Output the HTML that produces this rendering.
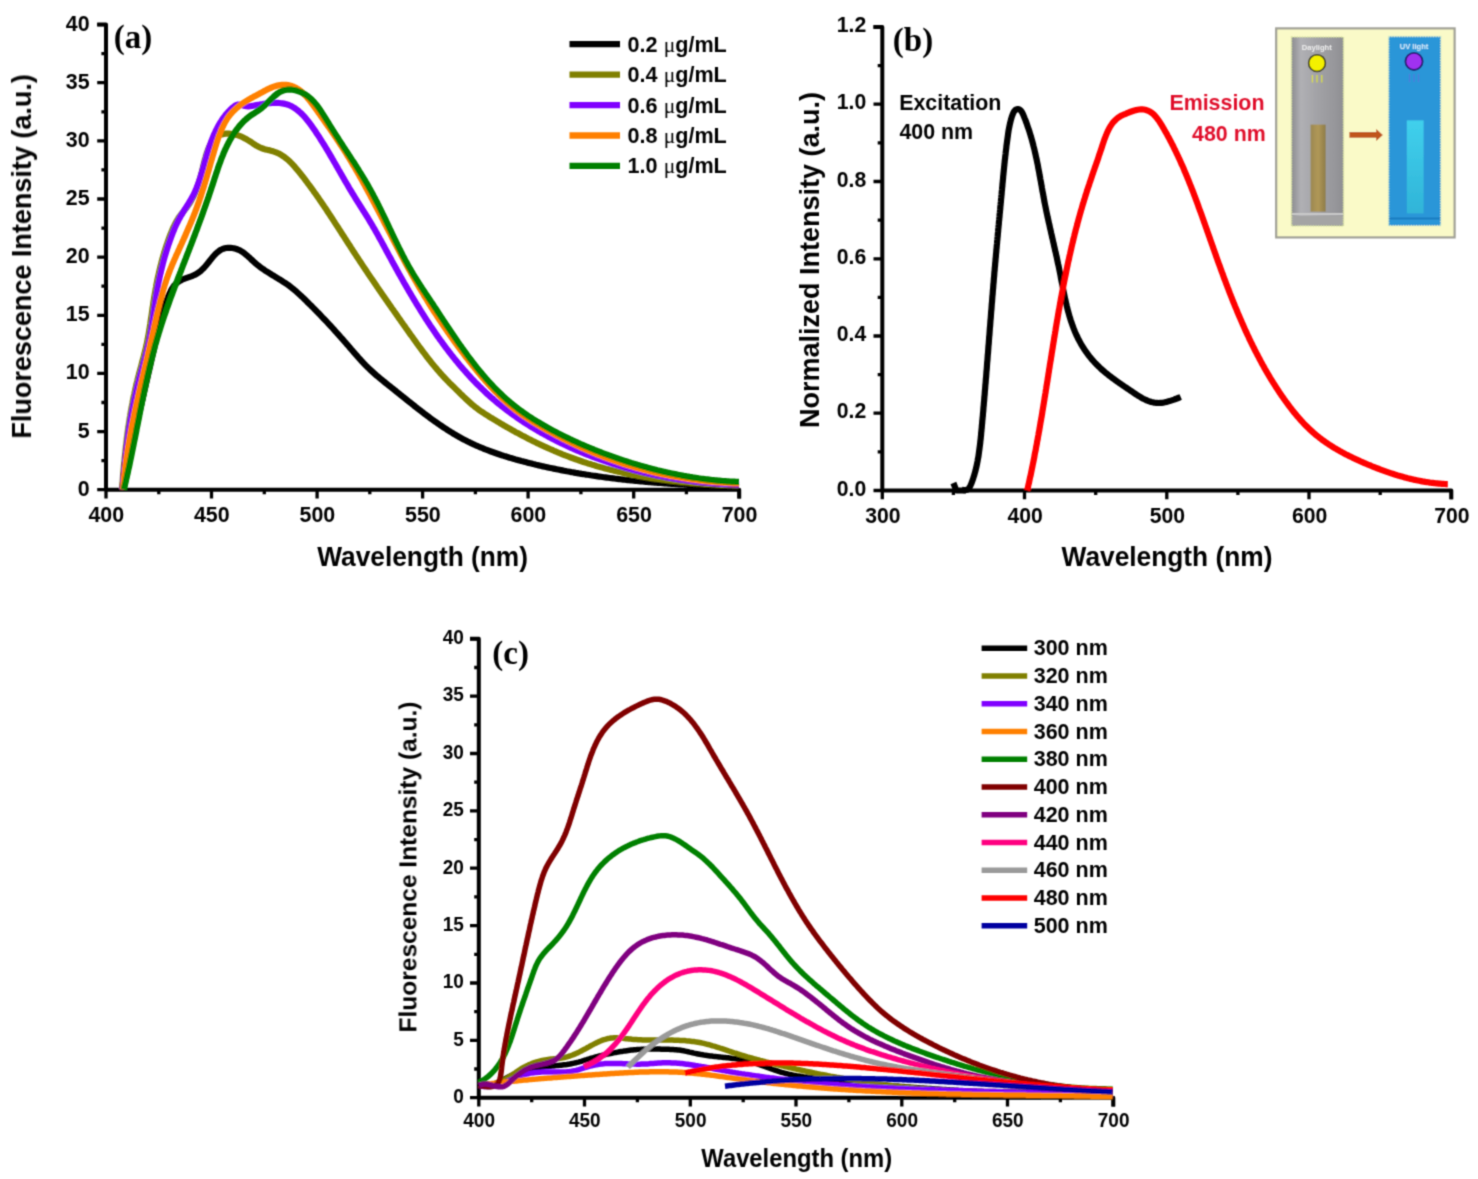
<!DOCTYPE html>
<html><head><meta charset="utf-8"><style>
html,body{margin:0;padding:0;background:#fff;}
body{width:1478px;height:1179px;overflow:hidden;}
svg{display:block;}
#w{width:1478px;height:1179px;}
</style></head><body><div id="w">
<svg width="1478" height="1179" viewBox="0 0 1478 1179">
<defs><filter id="bl" x="0" y="0" width="1478" height="1179" filterUnits="userSpaceOnUse"><feConvolveMatrix order="3" kernelMatrix="0.03607 0.11778 0.03607 0.11778 0.38462 0.11778 0.03607 0.11778 0.03607" edgeMode="none"/></filter></defs>
<rect width="100%" height="100%" fill="#fff"/>
<g filter="url(#bl)">
<path d="M97.2,24.6H106.0V489.7H739.2V498.5" fill="none" stroke="#000" stroke-width="4.0" stroke-linejoin="round"/>
<path d="M97.2,489.7H106.0M97.2,431.6H106.0M97.2,373.4H106.0M97.2,315.3H106.0M97.2,257.1H106.0M97.2,199.0H106.0M97.2,140.9H106.0M97.2,82.7H106.0M97.2,24.6H106.0M101.4,460.6H106.0M101.4,402.5H106.0M101.4,344.4H106.0M101.4,286.2H106.0M101.4,228.1H106.0M101.4,169.9H106.0M101.4,111.8H106.0M101.4,53.7H106.0M106.0,489.7V498.5M211.5,489.7V498.5M317.1,489.7V498.5M422.6,489.7V498.5M528.1,489.7V498.5M633.7,489.7V498.5M739.2,489.7V498.5M158.8,489.7V494.3M264.3,489.7V494.3M369.8,489.7V494.3M475.4,489.7V494.3M580.9,489.7V494.3M686.4,489.7V494.3" fill="none" stroke="#000" stroke-width="3.3"/>
<text transform="translate(89.6,495.6) scale(1,1.07)" font-family="Liberation Sans, sans-serif" font-weight="bold" font-size="21.4" text-anchor="end">0</text>
<text transform="translate(89.6,437.5) scale(1,1.07)" font-family="Liberation Sans, sans-serif" font-weight="bold" font-size="21.4" text-anchor="end">5</text>
<text transform="translate(89.6,379.3) scale(1,1.07)" font-family="Liberation Sans, sans-serif" font-weight="bold" font-size="21.4" text-anchor="end">10</text>
<text transform="translate(89.6,321.2) scale(1,1.07)" font-family="Liberation Sans, sans-serif" font-weight="bold" font-size="21.4" text-anchor="end">15</text>
<text transform="translate(89.6,263.0) scale(1,1.07)" font-family="Liberation Sans, sans-serif" font-weight="bold" font-size="21.4" text-anchor="end">20</text>
<text transform="translate(89.6,204.9) scale(1,1.07)" font-family="Liberation Sans, sans-serif" font-weight="bold" font-size="21.4" text-anchor="end">25</text>
<text transform="translate(89.6,146.8) scale(1,1.07)" font-family="Liberation Sans, sans-serif" font-weight="bold" font-size="21.4" text-anchor="end">30</text>
<text transform="translate(89.6,88.6) scale(1,1.07)" font-family="Liberation Sans, sans-serif" font-weight="bold" font-size="21.4" text-anchor="end">35</text>
<text transform="translate(89.6,30.5) scale(1,1.07)" font-family="Liberation Sans, sans-serif" font-weight="bold" font-size="21.4" text-anchor="end">40</text>
<text transform="translate(106.3,522.0) scale(1,1.07)" font-family="Liberation Sans, sans-serif" font-weight="bold" font-size="21.4" text-anchor="middle">400</text>
<text transform="translate(211.8,522.0) scale(1,1.07)" font-family="Liberation Sans, sans-serif" font-weight="bold" font-size="21.4" text-anchor="middle">450</text>
<text transform="translate(317.4,522.0) scale(1,1.07)" font-family="Liberation Sans, sans-serif" font-weight="bold" font-size="21.4" text-anchor="middle">500</text>
<text transform="translate(422.9,522.0) scale(1,1.07)" font-family="Liberation Sans, sans-serif" font-weight="bold" font-size="21.4" text-anchor="middle">550</text>
<text transform="translate(528.4,522.0) scale(1,1.07)" font-family="Liberation Sans, sans-serif" font-weight="bold" font-size="21.4" text-anchor="middle">600</text>
<text transform="translate(634.0,522.0) scale(1,1.07)" font-family="Liberation Sans, sans-serif" font-weight="bold" font-size="21.4" text-anchor="middle">650</text>
<text transform="translate(739.5,522.0) scale(1,1.07)" font-family="Liberation Sans, sans-serif" font-weight="bold" font-size="21.4" text-anchor="middle">700</text>
<text transform="translate(422.6,565.8) scale(1,1.05)" font-family="Liberation Sans, sans-serif" font-weight="bold" font-size="26.3" text-anchor="middle">Wavelength (nm)</text>
<text transform="translate(31,256.4) rotate(-90)" x="0" y="0" font-family="Liberation Sans, sans-serif" font-weight="bold" font-size="27" text-anchor="middle">Fluorescence Intensity (a.u.)</text>
<text x="113.8" y="48.3" font-family="Liberation Serif, serif" font-weight="bold" font-size="33">(a)</text>
<path d="M123.6,489.5 L123.9,488.0 L124.1,486.5 L124.4,485.0 L124.7,483.5 L125.0,482.1 L125.3,480.6 L125.5,479.1 L125.8,477.6 L126.1,476.1 L126.4,474.6 L126.7,473.1 L127.0,471.6 L127.3,470.1 L127.6,468.7 L127.8,467.2 L128.1,465.7 L128.4,464.2 L128.7,462.7 L129.0,461.3 L129.3,459.8 L129.6,458.3 L129.9,456.8 L130.2,455.4 L130.5,453.9 L130.8,452.4 L131.1,450.9 L131.5,449.5 L131.8,448.0 L132.1,446.5 L132.4,445.1 L132.7,443.6 L133.0,442.1 L133.3,440.7 L133.6,439.2 L133.9,437.7 L134.3,436.3 L134.6,434.8 L134.9,433.3 L135.2,431.9 L135.5,430.4 L135.8,428.9 L136.2,427.5 L136.5,426.0 L136.8,424.6 L137.1,423.1 L137.5,421.6 L137.8,420.2 L138.1,418.7 L138.4,417.3 L138.7,415.8 L139.1,414.3 L139.4,412.9 L139.7,411.4 L140.1,410.0 L140.4,408.5 L140.7,407.1 L141.0,405.6 L141.4,404.1 L141.7,402.7 L142.0,401.2 L142.4,399.8 L142.7,398.3 L143.0,396.8 L143.4,395.4 L143.7,393.9 L144.0,392.5 L144.4,391.0 L144.7,389.5 L145.0,388.1 L145.4,386.6 L145.7,385.2 L146.0,383.7 L146.4,382.2 L146.7,380.8 L147.0,379.3 L147.4,377.9 L147.7,376.4 L148.0,374.9 L148.4,373.5 L148.7,372.0 L149.1,370.5 L149.4,369.1 L149.7,367.6 L150.1,366.1 L150.4,364.7 L150.7,363.2 L151.1,361.7 L151.4,360.2 L151.7,358.8 L152.1,357.3 L152.4,355.8 L152.8,354.3 L153.1,352.9 L153.4,351.4 L153.8,349.9 L154.1,348.4 L154.4,346.9 L154.8,345.5 L155.1,344.0 L155.4,342.5 L155.8,341.0 L156.1,339.5 L156.4,338.0 L156.8,336.5 L157.1,335.1 L157.4,333.6 L157.8,332.1 L158.1,330.6 L158.5,329.1 L158.8,327.6 L159.1,326.1 L159.5,324.6 L159.8,323.1 L160.2,321.6 L160.6,320.2 L160.9,318.7 L161.3,317.2 L161.7,315.7 L162.1,314.3 L162.5,312.8 L162.9,311.4 L163.4,309.9 L163.8,308.5 L164.3,307.0 L164.7,305.6 L165.2,304.2 L165.7,302.8 L166.2,301.4 L166.7,300.0 L167.3,298.6 L167.8,297.3 L168.4,295.9 L169.0,294.5 L169.6,293.2 L170.3,291.9 L170.9,290.6 L171.6,289.3 L172.4,288.1 L173.2,286.9 L174.0,285.7 L175.0,284.7 L176.0,283.7 L177.1,282.8 L178.2,281.9 L179.4,281.1 L180.7,280.4 L182.0,279.7 L183.3,279.2 L184.7,278.6 L186.1,278.1 L187.6,277.6 L189.0,277.1 L190.5,276.6 L191.9,276.1 L193.2,275.5 L194.6,274.9 L195.9,274.2 L197.2,273.5 L198.4,272.7 L199.6,271.8 L200.8,270.9 L201.9,269.8 L203.0,268.8 L204.1,267.6 L205.1,266.5 L206.2,265.2 L207.2,264.0 L208.2,262.8 L209.2,261.5 L210.2,260.2 L211.2,259.0 L212.2,257.8 L213.2,256.6 L214.2,255.4 L215.3,254.3 L216.3,253.3 L217.4,252.3 L218.6,251.4 L219.7,250.5 L220.9,249.8 L222.2,249.2 L223.5,248.7 L224.8,248.3 L226.2,248.0 L227.6,247.9 L229.1,247.8 L230.5,247.8 L232.0,248.0 L233.5,248.2 L234.9,248.6 L236.4,249.0 L237.8,249.5 L239.2,250.1 L240.6,250.8 L241.9,251.6 L243.2,252.4 L244.4,253.3 L245.6,254.3 L246.8,255.3 L247.9,256.3 L249.1,257.3 L250.2,258.4 L251.3,259.5 L252.5,260.5 L253.6,261.6 L254.8,262.6 L255.9,263.6 L257.1,264.6 L258.3,265.6 L259.5,266.5 L260.7,267.4 L261.9,268.3 L263.2,269.1 L264.4,270.0 L265.6,270.8 L266.9,271.6 L268.2,272.4 L269.4,273.2 L270.7,274.0 L272.0,274.8 L273.2,275.6 L274.5,276.3 L275.8,277.1 L277.0,277.9 L278.3,278.7 L279.6,279.4 L280.8,280.2 L282.1,281.0 L283.3,281.8 L284.6,282.6 L285.8,283.4 L287.1,284.3 L288.3,285.1 L289.5,286.0 L290.7,286.9 L291.8,287.8 L293.0,288.8 L294.2,289.7 L295.3,290.7 L296.5,291.7 L297.6,292.7 L298.7,293.7 L299.8,294.7 L300.9,295.7 L302.0,296.8 L303.1,297.8 L304.2,298.9 L305.3,299.9 L306.4,301.0 L307.4,302.1 L308.5,303.1 L309.6,304.2 L310.7,305.2 L311.7,306.3 L312.8,307.4 L313.8,308.4 L314.9,309.5 L316.0,310.6 L317.0,311.7 L318.1,312.7 L319.1,313.8 L320.2,314.9 L321.2,316.0 L322.2,317.1 L323.3,318.2 L324.3,319.2 L325.3,320.3 L326.4,321.4 L327.4,322.5 L328.4,323.6 L329.4,324.7 L330.5,325.8 L331.5,326.9 L332.5,328.0 L333.5,329.1 L334.5,330.2 L335.5,331.4 L336.5,332.5 L337.5,333.6 L338.5,334.7 L339.5,335.8 L340.5,337.0 L341.5,338.1 L342.5,339.2 L343.5,340.3 L344.5,341.5 L345.5,342.6 L346.5,343.8 L347.5,344.9 L348.5,346.0 L349.4,347.2 L350.4,348.3 L351.4,349.5 L352.4,350.6 L353.4,351.8 L354.4,352.9 L355.4,354.1 L356.4,355.2 L357.4,356.3 L358.4,357.5 L359.4,358.6 L360.4,359.7 L361.4,360.8 L362.4,361.9 L363.4,363.0 L364.5,364.1 L365.5,365.2 L366.6,366.2 L367.6,367.3 L368.7,368.3 L369.8,369.4 L370.9,370.4 L372.0,371.4 L373.1,372.4 L374.2,373.4 L375.3,374.4 L376.4,375.4 L377.6,376.3 L378.7,377.3 L379.9,378.2 L381.0,379.2 L382.2,380.1 L383.4,381.1 L384.5,382.0 L385.7,383.0 L386.9,383.9 L388.0,384.8 L389.2,385.8 L390.4,386.7 L391.5,387.6 L392.7,388.6 L393.9,389.5 L395.1,390.4 L396.2,391.4 L397.4,392.3 L398.6,393.3 L399.8,394.2 L400.9,395.2 L402.1,396.1 L403.3,397.1 L404.5,398.0 L405.7,398.9 L406.8,399.9 L408.0,400.8 L409.2,401.8 L410.4,402.7 L411.6,403.7 L412.7,404.6 L413.9,405.5 L415.1,406.5 L416.3,407.4 L417.5,408.4 L418.7,409.3 L419.9,410.2 L421.1,411.1 L422.3,412.1 L423.5,413.0 L424.7,413.9 L425.9,414.8 L427.1,415.7 L428.3,416.6 L429.5,417.5 L430.7,418.4 L431.9,419.3 L433.2,420.2 L434.4,421.1 L435.6,421.9 L436.9,422.8 L438.1,423.7 L439.3,424.5 L440.6,425.4 L441.8,426.2 L443.1,427.1 L444.3,427.9 L445.6,428.7 L446.8,429.5 L448.1,430.3 L449.4,431.1 L450.6,431.9 L451.9,432.7 L453.2,433.5 L454.5,434.3 L455.8,435.0 L457.1,435.8 L458.4,436.5 L459.7,437.3 L461.0,438.0 L462.3,438.7 L463.6,439.4 L464.9,440.1 L466.3,440.8 L467.6,441.5 L469.0,442.1 L470.3,442.8 L471.7,443.4 L473.0,444.1 L474.4,444.7 L475.7,445.3 L477.1,445.9 L478.5,446.5 L479.9,447.1 L481.2,447.7 L482.6,448.2 L484.0,448.8 L485.4,449.4 L486.8,449.9 L488.2,450.4 L489.6,451.0 L491.0,451.5 L492.5,452.0 L493.9,452.5 L495.3,453.0 L496.7,453.5 L498.1,454.0 L499.6,454.5 L501.0,455.0 L502.4,455.4 L503.9,455.9 L505.3,456.3 L506.8,456.8 L508.2,457.2 L509.7,457.7 L511.1,458.1 L512.5,458.5 L514.0,458.9 L515.5,459.4 L516.9,459.8 L518.4,460.2 L519.8,460.6 L521.3,461.0 L522.7,461.3 L524.2,461.7 L525.7,462.1 L527.1,462.5 L528.6,462.9 L530.0,463.2 L531.5,463.6 L533.0,464.0 L534.4,464.3 L535.9,464.7 L537.4,465.0 L538.8,465.4 L540.3,465.7 L541.8,466.1 L543.2,466.4 L544.7,466.7 L546.2,467.0 L547.7,467.4 L549.1,467.7 L550.6,468.0 L552.1,468.3 L553.5,468.6 L555.0,468.9 L556.5,469.2 L558.0,469.5 L559.4,469.8 L560.9,470.1 L562.4,470.4 L563.9,470.7 L565.4,471.0 L566.8,471.3 L568.3,471.5 L569.8,471.8 L571.3,472.1 L572.8,472.3 L574.2,472.6 L575.7,472.9 L577.2,473.1 L578.7,473.4 L580.2,473.6 L581.6,473.9 L583.1,474.1 L584.6,474.3 L586.1,474.6 L587.6,474.8 L589.1,475.0 L590.6,475.3 L592.0,475.5 L593.5,475.7 L595.0,475.9 L596.5,476.1 L598.0,476.4 L599.5,476.6 L601.0,476.8 L602.5,477.0 L604.0,477.2 L605.4,477.4 L606.9,477.6 L608.4,477.8 L609.9,478.0 L611.4,478.2 L612.9,478.3 L614.4,478.5 L615.9,478.7 L617.4,478.9 L618.9,479.1 L620.4,479.2 L621.9,479.4 L623.4,479.6 L624.9,479.7 L626.4,479.9 L627.8,480.1 L629.3,480.2 L630.8,480.4 L632.3,480.5 L633.8,480.7 L635.3,480.8 L636.8,481.0 L638.3,481.1 L639.8,481.3 L641.3,481.4 L642.8,481.5 L644.3,481.7 L645.8,481.8 L647.3,481.9 L648.8,482.1 L650.3,482.2 L651.8,482.3 L653.3,482.4 L654.8,482.6 L656.3,482.7 L657.8,482.8 L659.3,482.9 L660.8,483.0 L662.3,483.1 L663.8,483.3 L665.3,483.4 L666.8,483.5 L668.3,483.6 L669.8,483.7 L671.3,483.8 L672.8,483.9 L674.3,484.0 L675.8,484.1 L677.3,484.2 L678.8,484.3 L680.4,484.4 L681.9,484.4 L683.4,484.5 L684.9,484.6 L686.4,484.7 L687.9,484.8 L689.4,484.9 L690.9,485.0 L692.4,485.0 L693.9,485.1 L695.4,485.2 L696.9,485.3 L698.4,485.4 L699.9,485.4 L701.4,485.5 L702.9,485.6 L704.4,485.6 L705.9,485.7 L707.4,485.8 L708.9,485.8 L710.4,485.9 L711.9,486.0 L713.4,486.0 L714.9,486.1 L716.4,486.2 L717.9,486.2 L719.5,486.3 L721.0,486.3 L722.5,486.4 L724.0,486.5 L725.5,486.5 L727.0,486.6 L728.5,486.6 L730.0,486.7 L731.5,486.7 L733.0,486.8 L734.5,486.8 L736.0,486.9 L737.5,486.9 L739.0,487.0" fill="none" stroke="#000000" stroke-width="6.2" stroke-linejoin="round" stroke-linecap="butt"/>
<path d="M122.0,489.5 L122.1,488.0 L122.2,486.5 L122.3,485.0 L122.4,483.5 L122.6,482.0 L122.7,480.5 L122.8,479.0 L122.9,477.5 L123.0,476.0 L123.1,474.5 L123.3,473.0 L123.4,471.5 L123.5,470.0 L123.7,468.5 L123.8,467.0 L123.9,465.5 L124.1,464.0 L124.2,462.6 L124.4,461.1 L124.5,459.6 L124.6,458.1 L124.8,456.6 L125.0,455.1 L125.1,453.6 L125.3,452.1 L125.4,450.6 L125.6,449.1 L125.8,447.6 L125.9,446.1 L126.1,444.6 L126.3,443.1 L126.5,441.6 L126.7,440.1 L126.8,438.7 L127.0,437.2 L127.2,435.7 L127.4,434.2 L127.6,432.7 L127.8,431.2 L128.0,429.7 L128.2,428.2 L128.5,426.7 L128.7,425.3 L128.9,423.8 L129.1,422.3 L129.4,420.8 L129.6,419.3 L129.8,417.8 L130.1,416.3 L130.3,414.9 L130.6,413.4 L130.8,411.9 L131.1,410.4 L131.4,408.9 L131.6,407.5 L131.9,406.0 L132.2,404.5 L132.5,403.0 L132.7,401.6 L133.0,400.1 L133.3,398.6 L133.6,397.1 L133.9,395.7 L134.3,394.2 L134.6,392.7 L134.9,391.3 L135.2,389.8 L135.5,388.3 L135.9,386.9 L136.2,385.4 L136.6,383.9 L136.9,382.5 L137.3,381.0 L137.6,379.6 L138.0,378.1 L138.4,376.6 L138.8,375.2 L139.1,373.7 L139.5,372.3 L139.9,370.8 L140.3,369.4 L140.7,367.9 L141.1,366.5 L141.5,365.0 L141.8,363.5 L142.2,362.1 L142.6,360.6 L143.0,359.2 L143.4,357.7 L143.8,356.3 L144.1,354.8 L144.5,353.4 L144.9,351.9 L145.2,350.4 L145.6,349.0 L145.9,347.5 L146.2,346.1 L146.6,344.6 L146.9,343.1 L147.2,341.7 L147.5,340.2 L147.8,338.7 L148.0,337.3 L148.3,335.8 L148.6,334.3 L148.8,332.8 L149.1,331.4 L149.3,329.9 L149.6,328.4 L149.8,326.9 L150.0,325.5 L150.3,324.0 L150.5,322.5 L150.7,321.0 L150.9,319.5 L151.1,318.1 L151.4,316.6 L151.6,315.1 L151.8,313.6 L152.0,312.1 L152.2,310.6 L152.4,309.1 L152.6,307.7 L152.9,306.2 L153.1,304.7 L153.3,303.2 L153.5,301.7 L153.8,300.2 L154.0,298.7 L154.2,297.2 L154.5,295.8 L154.7,294.3 L155.0,292.8 L155.3,291.3 L155.5,289.8 L155.8,288.3 L156.1,286.8 L156.3,285.4 L156.6,283.9 L156.9,282.4 L157.2,280.9 L157.5,279.4 L157.8,278.0 L158.1,276.5 L158.5,275.0 L158.8,273.5 L159.1,272.1 L159.5,270.6 L159.8,269.1 L160.2,267.7 L160.5,266.2 L160.9,264.7 L161.3,263.3 L161.6,261.8 L162.0,260.4 L162.4,258.9 L162.8,257.5 L163.2,256.0 L163.7,254.6 L164.1,253.1 L164.5,251.7 L165.0,250.3 L165.4,248.8 L165.9,247.4 L166.3,246.0 L166.8,244.6 L167.3,243.2 L167.8,241.7 L168.3,240.3 L168.8,238.9 L169.3,237.5 L169.8,236.1 L170.4,234.7 L170.9,233.3 L171.5,232.0 L172.0,230.6 L172.6,229.2 L173.2,227.8 L173.9,226.5 L174.5,225.2 L175.2,223.8 L175.9,222.5 L176.6,221.2 L177.3,219.9 L178.1,218.7 L178.9,217.4 L179.8,216.2 L180.7,214.9 L181.6,213.8 L182.5,212.6 L183.5,211.4 L184.5,210.2 L185.4,209.0 L186.4,207.9 L187.3,206.7 L188.1,205.4 L189.0,204.2 L189.8,203.0 L190.6,201.7 L191.3,200.4 L192.0,199.1 L192.7,197.8 L193.4,196.5 L194.0,195.1 L194.7,193.8 L195.2,192.4 L195.8,191.1 L196.4,189.7 L196.9,188.3 L197.4,186.9 L197.9,185.5 L198.4,184.0 L198.8,182.6 L199.3,181.2 L199.7,179.7 L200.1,178.3 L200.5,176.8 L200.9,175.3 L201.3,173.8 L201.7,172.4 L202.1,170.9 L202.5,169.4 L202.8,167.9 L203.2,166.4 L203.5,164.9 L203.9,163.4 L204.3,161.9 L204.7,160.4 L205.0,158.9 L205.5,157.4 L205.9,155.9 L206.3,154.5 L206.8,153.0 L207.3,151.6 L207.8,150.2 L208.3,148.8 L208.9,147.5 L209.5,146.1 L210.2,144.8 L210.9,143.6 L211.7,142.3 L212.5,141.1 L213.3,140.0 L214.3,138.9 L215.2,137.8 L216.3,136.9 L217.5,136.1 L218.8,135.4 L220.1,134.9 L221.5,134.4 L222.9,134.1 L224.4,133.8 L225.9,133.7 L227.4,133.6 L228.9,133.7 L230.5,133.8 L232.0,134.0 L233.5,134.2 L235.0,134.5 L236.5,134.9 L238.0,135.4 L239.4,135.9 L240.8,136.4 L242.2,137.0 L243.6,137.7 L244.9,138.4 L246.2,139.1 L247.5,139.9 L248.7,140.6 L250.0,141.4 L251.2,142.2 L252.4,143.0 L253.6,143.8 L254.8,144.6 L256.0,145.4 L257.3,146.1 L258.5,146.8 L259.8,147.4 L261.2,148.0 L262.6,148.5 L264.0,149.0 L265.5,149.4 L267.1,149.8 L268.6,150.1 L270.1,150.5 L271.7,150.9 L273.2,151.3 L274.6,151.8 L276.0,152.3 L277.4,152.9 L278.8,153.6 L280.1,154.3 L281.4,155.0 L282.6,155.8 L283.8,156.6 L285.0,157.5 L286.2,158.4 L287.3,159.3 L288.4,160.3 L289.5,161.3 L290.6,162.4 L291.6,163.4 L292.7,164.5 L293.7,165.6 L294.7,166.7 L295.7,167.9 L296.6,169.0 L297.6,170.2 L298.6,171.3 L299.5,172.5 L300.5,173.7 L301.4,174.9 L302.3,176.1 L303.3,177.3 L304.2,178.4 L305.1,179.6 L306.0,180.8 L306.9,182.0 L307.8,183.3 L308.7,184.5 L309.6,185.7 L310.5,186.9 L311.4,188.1 L312.3,189.3 L313.2,190.5 L314.0,191.8 L314.9,193.0 L315.8,194.2 L316.6,195.4 L317.5,196.7 L318.4,197.9 L319.2,199.1 L320.1,200.4 L320.9,201.6 L321.8,202.8 L322.6,204.1 L323.5,205.3 L324.3,206.6 L325.1,207.8 L326.0,209.1 L326.8,210.3 L327.6,211.6 L328.5,212.8 L329.3,214.1 L330.1,215.3 L330.9,216.6 L331.8,217.8 L332.6,219.1 L333.4,220.4 L334.2,221.6 L335.0,222.9 L335.8,224.1 L336.7,225.4 L337.5,226.6 L338.3,227.9 L339.1,229.2 L339.9,230.4 L340.7,231.7 L341.5,233.0 L342.3,234.2 L343.2,235.5 L344.0,236.7 L344.8,238.0 L345.6,239.3 L346.4,240.5 L347.2,241.8 L348.0,243.0 L348.8,244.3 L349.7,245.6 L350.5,246.8 L351.3,248.1 L352.1,249.3 L352.9,250.6 L353.7,251.9 L354.6,253.1 L355.4,254.4 L356.2,255.6 L357.0,256.9 L357.9,258.1 L358.7,259.4 L359.5,260.6 L360.3,261.9 L361.2,263.1 L362.0,264.4 L362.8,265.6 L363.7,266.9 L364.5,268.1 L365.3,269.4 L366.2,270.6 L367.0,271.9 L367.8,273.1 L368.7,274.4 L369.5,275.6 L370.4,276.9 L371.2,278.1 L372.0,279.3 L372.9,280.6 L373.7,281.8 L374.6,283.1 L375.4,284.3 L376.3,285.6 L377.1,286.8 L378.0,288.0 L378.8,289.3 L379.7,290.5 L380.5,291.7 L381.4,293.0 L382.2,294.2 L383.1,295.5 L383.9,296.7 L384.8,297.9 L385.6,299.2 L386.5,300.4 L387.4,301.6 L388.2,302.9 L389.1,304.1 L389.9,305.3 L390.8,306.6 L391.6,307.8 L392.5,309.0 L393.4,310.2 L394.2,311.5 L395.1,312.7 L396.0,313.9 L396.8,315.2 L397.7,316.4 L398.5,317.6 L399.4,318.8 L400.3,320.1 L401.1,321.3 L402.0,322.5 L402.9,323.8 L403.8,325.0 L404.6,326.2 L405.5,327.4 L406.4,328.7 L407.2,329.9 L408.1,331.1 L409.0,332.3 L409.8,333.6 L410.7,334.8 L411.6,336.0 L412.5,337.2 L413.3,338.4 L414.2,339.7 L415.1,340.9 L416.0,342.1 L416.8,343.3 L417.7,344.5 L418.6,345.8 L419.5,347.0 L420.4,348.2 L421.3,349.4 L422.2,350.6 L423.1,351.8 L424.0,353.0 L424.9,354.2 L425.8,355.4 L426.7,356.6 L427.6,357.8 L428.5,358.9 L429.4,360.1 L430.4,361.3 L431.3,362.5 L432.2,363.6 L433.2,364.8 L434.1,365.9 L435.1,367.1 L436.1,368.2 L437.0,369.4 L438.0,370.5 L439.0,371.6 L440.0,372.8 L441.0,373.9 L442.0,375.0 L443.0,376.1 L444.0,377.2 L445.0,378.3 L446.1,379.4 L447.1,380.5 L448.2,381.5 L449.2,382.6 L450.3,383.7 L451.4,384.7 L452.4,385.8 L453.5,386.8 L454.6,387.9 L455.6,388.9 L456.7,390.0 L457.8,391.0 L458.9,392.1 L459.9,393.2 L461.0,394.2 L462.1,395.3 L463.1,396.3 L464.2,397.3 L465.3,398.4 L466.4,399.4 L467.5,400.4 L468.6,401.4 L469.7,402.4 L470.8,403.4 L471.9,404.4 L473.1,405.3 L474.2,406.3 L475.4,407.2 L476.6,408.1 L477.8,409.0 L479.0,409.9 L480.2,410.8 L481.5,411.6 L482.7,412.4 L484.0,413.3 L485.2,414.1 L486.5,414.9 L487.8,415.7 L489.0,416.5 L490.3,417.3 L491.6,418.1 L492.9,418.8 L494.2,419.6 L495.5,420.4 L496.8,421.2 L498.0,421.9 L499.3,422.7 L500.6,423.5 L501.9,424.2 L503.2,425.0 L504.5,425.8 L505.8,426.5 L507.1,427.3 L508.5,428.0 L509.8,428.7 L511.1,429.5 L512.4,430.2 L513.7,430.9 L515.0,431.7 L516.3,432.4 L517.7,433.1 L519.0,433.8 L520.3,434.5 L521.6,435.2 L523.0,435.9 L524.3,436.6 L525.6,437.3 L527.0,438.0 L528.3,438.7 L529.7,439.4 L531.0,440.0 L532.3,440.7 L533.7,441.4 L535.0,442.0 L536.4,442.7 L537.7,443.4 L539.1,444.0 L540.4,444.7 L541.8,445.3 L543.2,445.9 L544.5,446.6 L545.9,447.2 L547.3,447.8 L548.6,448.4 L550.0,449.0 L551.4,449.6 L552.8,450.2 L554.1,450.8 L555.5,451.4 L556.9,452.0 L558.3,452.6 L559.7,453.1 L561.0,453.7 L562.4,454.3 L563.8,454.8 L565.2,455.4 L566.6,455.9 L568.0,456.4 L569.4,457.0 L570.8,457.5 L572.2,458.0 L573.6,458.5 L575.0,459.0 L576.5,459.6 L577.9,460.0 L579.3,460.5 L580.7,461.0 L582.1,461.5 L583.5,462.0 L585.0,462.4 L586.4,462.9 L587.8,463.4 L589.3,463.8 L590.7,464.2 L592.1,464.7 L593.6,465.1 L595.0,465.5 L596.4,466.0 L597.9,466.4 L599.3,466.8 L600.8,467.2 L602.2,467.6 L603.7,468.0 L605.1,468.4 L606.6,468.8 L608.0,469.1 L609.5,469.5 L610.9,469.9 L612.4,470.2 L613.8,470.6 L615.3,470.9 L616.8,471.3 L618.2,471.6 L619.7,472.0 L621.2,472.3 L622.6,472.6 L624.1,472.9 L625.6,473.3 L627.0,473.6 L628.5,473.9 L630.0,474.2 L631.5,474.5 L632.9,474.8 L634.4,475.0 L635.9,475.3 L637.4,475.6 L638.8,475.9 L640.3,476.1 L641.8,476.4 L643.3,476.7 L644.8,476.9 L646.3,477.2 L647.7,477.4 L649.2,477.7 L650.7,477.9 L652.2,478.1 L653.7,478.4 L655.2,478.6 L656.7,478.8 L658.2,479.0 L659.7,479.2 L661.1,479.4 L662.6,479.6 L664.1,479.8 L665.6,480.0 L667.1,480.2 L668.6,480.4 L670.1,480.6 L671.6,480.8 L673.1,481.0 L674.6,481.1 L676.1,481.3 L677.6,481.5 L679.1,481.6 L680.6,481.8 L682.1,481.9 L683.6,482.1 L685.1,482.2 L686.6,482.4 L688.1,482.5 L689.6,482.7 L691.1,482.8 L692.6,482.9 L694.1,483.1 L695.6,483.2 L697.1,483.3 L698.6,483.4 L700.1,483.5 L701.6,483.6 L703.1,483.7 L704.6,483.8 L706.1,483.9 L707.6,484.0 L709.1,484.1 L710.6,484.2 L712.1,484.3 L713.6,484.4 L715.1,484.5 L716.6,484.6 L718.1,484.7 L719.5,484.7 L721.0,484.8 L722.5,484.9 L724.0,484.9 L725.5,485.0 L727.0,485.1 L728.5,485.1 L730.0,485.2 L731.5,485.2 L733.0,485.3 L734.5,485.3 L736.0,485.4 L737.5,485.4 L738.9,485.5" fill="none" stroke="#808000" stroke-width="6.2" stroke-linejoin="round" stroke-linecap="butt"/>
<path d="M122.5,489.5 L122.6,488.0 L122.7,486.5 L122.9,485.0 L123.0,483.5 L123.1,482.0 L123.2,480.5 L123.4,479.0 L123.5,477.5 L123.6,476.0 L123.8,474.5 L123.9,473.0 L124.1,471.5 L124.2,470.0 L124.3,468.5 L124.5,467.0 L124.6,465.5 L124.8,464.0 L124.9,462.5 L125.1,461.0 L125.3,459.5 L125.4,458.0 L125.6,456.6 L125.7,455.1 L125.9,453.6 L126.1,452.1 L126.3,450.6 L126.4,449.1 L126.6,447.6 L126.8,446.1 L127.0,444.6 L127.2,443.1 L127.4,441.6 L127.6,440.1 L127.8,438.6 L128.0,437.2 L128.2,435.7 L128.4,434.2 L128.6,432.7 L128.8,431.2 L129.0,429.7 L129.3,428.2 L129.5,426.7 L129.7,425.3 L130.0,423.8 L130.2,422.3 L130.4,420.8 L130.7,419.3 L130.9,417.8 L131.2,416.4 L131.5,414.9 L131.7,413.4 L132.0,411.9 L132.3,410.4 L132.6,409.0 L132.8,407.5 L133.1,406.0 L133.4,404.5 L133.7,403.1 L134.0,401.6 L134.3,400.1 L134.6,398.6 L134.9,397.2 L135.3,395.7 L135.6,394.2 L135.9,392.8 L136.3,391.3 L136.6,389.8 L136.9,388.4 L137.3,386.9 L137.7,385.4 L138.0,384.0 L138.4,382.5 L138.8,381.1 L139.1,379.6 L139.5,378.2 L139.9,376.7 L140.3,375.2 L140.7,373.8 L141.1,372.3 L141.5,370.9 L141.9,369.4 L142.3,368.0 L142.7,366.5 L143.1,365.1 L143.5,363.6 L143.9,362.2 L144.3,360.7 L144.7,359.3 L145.1,357.8 L145.5,356.3 L145.9,354.9 L146.3,353.4 L146.6,352.0 L147.0,350.5 L147.3,349.1 L147.7,347.6 L148.0,346.1 L148.4,344.7 L148.7,343.2 L149.0,341.8 L149.3,340.3 L149.6,338.8 L149.8,337.4 L150.1,335.9 L150.4,334.4 L150.6,332.9 L150.9,331.5 L151.1,330.0 L151.4,328.5 L151.6,327.0 L151.8,325.6 L152.0,324.1 L152.2,322.6 L152.5,321.1 L152.7,319.6 L152.9,318.1 L153.1,316.7 L153.3,315.2 L153.5,313.7 L153.7,312.2 L153.9,310.7 L154.1,309.2 L154.3,307.7 L154.5,306.3 L154.8,304.8 L155.0,303.3 L155.2,301.8 L155.4,300.3 L155.7,298.8 L155.9,297.3 L156.1,295.8 L156.4,294.3 L156.6,292.8 L156.9,291.4 L157.2,289.9 L157.4,288.4 L157.7,286.9 L158.0,285.4 L158.3,283.9 L158.6,282.4 L158.9,280.9 L159.2,279.5 L159.5,278.0 L159.8,276.5 L160.1,275.0 L160.5,273.5 L160.8,272.1 L161.1,270.6 L161.5,269.1 L161.8,267.6 L162.2,266.2 L162.6,264.7 L162.9,263.2 L163.3,261.8 L163.7,260.3 L164.1,258.9 L164.5,257.4 L164.9,256.0 L165.4,254.5 L165.8,253.1 L166.2,251.6 L166.7,250.2 L167.1,248.8 L167.6,247.4 L168.0,245.9 L168.5,244.5 L169.0,243.1 L169.5,241.7 L170.0,240.3 L170.5,238.9 L171.0,237.5 L171.5,236.1 L172.0,234.7 L172.6,233.3 L173.1,231.9 L173.7,230.6 L174.2,229.2 L174.8,227.8 L175.4,226.5 L176.0,225.1 L176.7,223.8 L177.3,222.5 L178.0,221.1 L178.6,219.8 L179.4,218.5 L180.1,217.2 L180.8,215.9 L181.6,214.6 L182.4,213.3 L183.2,212.0 L184.0,210.7 L184.8,209.4 L185.6,208.2 L186.4,206.9 L187.2,205.6 L188.0,204.3 L188.8,203.0 L189.6,201.7 L190.4,200.4 L191.2,199.1 L191.9,197.8 L192.6,196.5 L193.3,195.2 L194.0,193.9 L194.6,192.5 L195.2,191.2 L195.8,189.8 L196.4,188.4 L196.9,187.1 L197.5,185.7 L198.0,184.3 L198.5,182.9 L199.0,181.5 L199.5,180.1 L199.9,178.7 L200.4,177.3 L200.8,175.9 L201.2,174.4 L201.7,173.0 L202.1,171.6 L202.5,170.1 L202.9,168.7 L203.3,167.3 L203.7,165.8 L204.1,164.4 L204.5,162.9 L204.9,161.4 L205.4,160.0 L205.8,158.5 L206.2,157.1 L206.6,155.6 L207.1,154.1 L207.5,152.7 L207.9,151.2 L208.4,149.8 L208.9,148.3 L209.4,146.8 L209.9,145.4 L210.4,143.9 L210.9,142.5 L211.4,141.0 L212.0,139.6 L212.6,138.2 L213.1,136.8 L213.7,135.3 L214.3,133.9 L215.0,132.6 L215.6,131.2 L216.3,129.8 L217.0,128.5 L217.7,127.1 L218.4,125.8 L219.1,124.5 L219.9,123.2 L220.7,121.9 L221.5,120.7 L222.3,119.4 L223.1,118.2 L224.0,117.0 L224.9,115.9 L225.8,114.7 L226.8,113.6 L227.7,112.5 L228.7,111.4 L229.7,110.4 L230.8,109.3 L231.8,108.4 L232.9,107.4 L234.1,106.5 L235.2,105.6 L236.5,105.0 L237.7,104.6 L239.1,104.5 L240.5,104.8 L242.0,105.2 L243.4,105.6 L244.9,106.0 L246.4,106.2 L247.8,106.3 L249.3,106.3 L250.7,106.1 L252.2,105.9 L253.6,105.7 L255.1,105.4 L256.6,105.1 L258.1,104.8 L259.6,104.6 L261.1,104.3 L262.6,104.1 L264.2,103.8 L265.7,103.6 L267.3,103.4 L268.8,103.2 L270.3,103.1 L271.9,103.0 L273.4,102.9 L274.9,102.9 L276.4,102.9 L277.9,102.9 L279.4,103.0 L280.9,103.2 L282.3,103.4 L283.7,103.6 L285.1,103.9 L286.5,104.3 L287.9,104.7 L289.2,105.2 L290.5,105.8 L291.8,106.4 L293.0,107.1 L294.3,107.9 L295.5,108.7 L296.6,109.5 L297.8,110.4 L298.9,111.4 L300.0,112.3 L301.1,113.4 L302.2,114.4 L303.3,115.5 L304.3,116.6 L305.3,117.8 L306.3,119.0 L307.3,120.2 L308.3,121.4 L309.2,122.6 L310.2,123.9 L311.1,125.2 L312.0,126.4 L312.9,127.7 L313.8,129.0 L314.7,130.3 L315.6,131.6 L316.4,132.9 L317.3,134.2 L318.1,135.4 L319.0,136.7 L319.8,138.0 L320.6,139.3 L321.4,140.6 L322.2,141.9 L323.0,143.1 L323.8,144.4 L324.6,145.7 L325.4,147.0 L326.2,148.3 L327.0,149.6 L327.7,150.8 L328.5,152.1 L329.2,153.4 L330.0,154.7 L330.7,156.0 L331.5,157.2 L332.2,158.5 L333.0,159.8 L333.7,161.1 L334.4,162.4 L335.2,163.6 L335.9,164.9 L336.6,166.2 L337.4,167.5 L338.1,168.8 L338.8,170.0 L339.6,171.3 L340.3,172.6 L341.0,173.9 L341.8,175.2 L342.5,176.4 L343.2,177.7 L344.0,179.0 L344.7,180.3 L345.5,181.6 L346.2,182.9 L347.0,184.1 L347.7,185.4 L348.5,186.7 L349.2,188.0 L350.0,189.3 L350.8,190.6 L351.6,191.9 L352.3,193.1 L353.1,194.4 L353.9,195.7 L354.7,197.0 L355.5,198.3 L356.3,199.6 L357.1,200.9 L357.9,202.2 L358.8,203.5 L359.6,204.8 L360.4,206.1 L361.2,207.4 L362.0,208.7 L362.8,210.0 L363.6,211.2 L364.4,212.5 L365.3,213.8 L366.1,215.1 L366.9,216.4 L367.7,217.7 L368.5,219.0 L369.3,220.3 L370.0,221.6 L370.8,222.9 L371.6,224.2 L372.4,225.5 L373.1,226.8 L373.9,228.1 L374.7,229.4 L375.4,230.7 L376.1,232.0 L376.9,233.3 L377.6,234.6 L378.3,235.9 L379.0,237.2 L379.7,238.5 L380.5,239.8 L381.2,241.1 L381.9,242.4 L382.6,243.7 L383.3,245.0 L384.0,246.3 L384.7,247.6 L385.4,248.9 L386.1,250.2 L386.8,251.5 L387.5,252.8 L388.2,254.1 L388.9,255.4 L389.6,256.7 L390.4,258.0 L391.1,259.3 L391.8,260.7 L392.5,262.0 L393.2,263.3 L393.9,264.6 L394.7,265.9 L395.4,267.2 L396.1,268.5 L396.8,269.8 L397.6,271.2 L398.3,272.5 L399.0,273.8 L399.8,275.1 L400.5,276.4 L401.2,277.7 L402.0,279.0 L402.7,280.3 L403.5,281.7 L404.2,283.0 L405.0,284.3 L405.7,285.6 L406.5,286.9 L407.2,288.2 L408.0,289.5 L408.7,290.8 L409.5,292.1 L410.3,293.4 L411.0,294.7 L411.8,296.0 L412.6,297.3 L413.4,298.6 L414.1,299.9 L414.9,301.2 L415.7,302.5 L416.5,303.8 L417.3,305.1 L418.1,306.4 L418.9,307.7 L419.7,309.0 L420.5,310.3 L421.3,311.6 L422.1,312.8 L422.9,314.1 L423.7,315.4 L424.5,316.7 L425.3,318.0 L426.1,319.2 L427.0,320.5 L427.8,321.8 L428.6,323.0 L429.5,324.3 L430.3,325.6 L431.1,326.8 L432.0,328.1 L432.8,329.3 L433.7,330.6 L434.5,331.8 L435.4,333.1 L436.3,334.3 L437.1,335.6 L438.0,336.8 L438.9,338.0 L439.7,339.3 L440.6,340.5 L441.5,341.7 L442.4,342.9 L443.3,344.2 L444.2,345.4 L445.1,346.6 L446.0,347.8 L446.9,349.0 L447.8,350.2 L448.7,351.4 L449.6,352.6 L450.6,353.8 L451.5,355.0 L452.4,356.2 L453.4,357.3 L454.3,358.5 L455.2,359.7 L456.2,360.8 L457.2,362.0 L458.1,363.2 L459.1,364.3 L460.0,365.5 L461.0,366.6 L462.0,367.7 L463.0,368.9 L464.0,370.0 L465.0,371.1 L466.0,372.2 L467.0,373.4 L468.0,374.5 L469.0,375.6 L470.0,376.7 L471.0,377.8 L472.0,378.9 L473.1,380.0 L474.1,381.0 L475.1,382.1 L476.2,383.2 L477.2,384.2 L478.3,385.3 L479.4,386.4 L480.4,387.4 L481.5,388.4 L482.6,389.5 L483.7,390.5 L484.7,391.5 L485.8,392.6 L486.9,393.6 L488.0,394.6 L489.2,395.6 L490.3,396.6 L491.4,397.6 L492.5,398.5 L493.7,399.5 L494.8,400.5 L495.9,401.5 L497.1,402.4 L498.2,403.4 L499.4,404.3 L500.6,405.2 L501.7,406.2 L502.9,407.1 L504.1,408.0 L505.3,408.9 L506.5,409.9 L507.7,410.8 L508.9,411.7 L510.1,412.5 L511.3,413.4 L512.5,414.3 L513.7,415.2 L514.9,416.0 L516.2,416.9 L517.4,417.8 L518.6,418.6 L519.9,419.5 L521.1,420.3 L522.4,421.1 L523.6,422.0 L524.9,422.8 L526.2,423.6 L527.4,424.4 L528.7,425.2 L530.0,426.0 L531.3,426.8 L532.5,427.6 L533.8,428.3 L535.1,429.1 L536.4,429.9 L537.7,430.7 L539.0,431.4 L540.3,432.2 L541.6,432.9 L542.9,433.6 L544.3,434.4 L545.6,435.1 L546.9,435.8 L548.2,436.5 L549.5,437.3 L550.9,438.0 L552.2,438.7 L553.6,439.3 L554.9,440.0 L556.2,440.7 L557.6,441.4 L558.9,442.1 L560.3,442.7 L561.6,443.4 L563.0,444.0 L564.4,444.7 L565.7,445.3 L567.1,446.0 L568.5,446.6 L569.8,447.2 L571.2,447.9 L572.6,448.5 L574.0,449.1 L575.3,449.7 L576.7,450.3 L578.1,450.9 L579.5,451.5 L580.9,452.1 L582.3,452.6 L583.7,453.2 L585.1,453.8 L586.5,454.3 L587.9,454.9 L589.3,455.4 L590.7,456.0 L592.1,456.5 L593.5,457.1 L594.9,457.6 L596.3,458.1 L597.7,458.6 L599.1,459.1 L600.5,459.6 L601.9,460.1 L603.4,460.6 L604.8,461.1 L606.2,461.6 L607.6,462.1 L609.1,462.6 L610.5,463.1 L611.9,463.5 L613.3,464.0 L614.8,464.4 L616.2,464.9 L617.6,465.3 L619.1,465.8 L620.5,466.2 L622.0,466.6 L623.4,467.1 L624.8,467.5 L626.3,467.9 L627.7,468.3 L629.2,468.7 L630.6,469.1 L632.1,469.5 L633.5,469.9 L635.0,470.3 L636.4,470.6 L637.9,471.0 L639.4,471.4 L640.8,471.7 L642.3,472.1 L643.7,472.4 L645.2,472.8 L646.7,473.1 L648.1,473.5 L649.6,473.8 L651.1,474.1 L652.5,474.4 L654.0,474.8 L655.5,475.1 L656.9,475.4 L658.4,475.7 L659.9,476.0 L661.4,476.3 L662.8,476.5 L664.3,476.8 L665.8,477.1 L667.3,477.4 L668.8,477.6 L670.2,477.9 L671.7,478.2 L673.2,478.4 L674.7,478.7 L676.2,478.9 L677.6,479.1 L679.1,479.4 L680.6,479.6 L682.1,479.8 L683.6,480.0 L685.1,480.2 L686.6,480.5 L688.1,480.7 L689.6,480.8 L691.0,481.0 L692.5,481.2 L694.0,481.4 L695.5,481.6 L697.0,481.8 L698.5,481.9 L700.0,482.1 L701.5,482.3 L703.0,482.4 L704.5,482.6 L706.0,482.7 L707.5,482.8 L709.0,483.0 L710.5,483.1 L712.0,483.2 L713.5,483.4 L715.0,483.5 L716.5,483.6 L718.0,483.7 L719.5,483.8 L721.0,483.9 L722.5,484.0 L724.0,484.1 L725.5,484.1 L727.0,484.2 L728.5,484.3 L730.0,484.4 L731.5,484.4 L733.0,484.5 L734.5,484.5 L736.0,484.6 L737.5,484.6 L739.0,484.7" fill="none" stroke="#8000FF" stroke-width="6.2" stroke-linejoin="round" stroke-linecap="butt"/>
<path d="M123.1,489.5 L123.2,488.0 L123.3,486.5 L123.4,485.0 L123.5,483.5 L123.7,482.0 L123.8,480.4 L123.9,478.9 L124.1,477.4 L124.2,475.9 L124.4,474.4 L124.6,472.9 L124.7,471.4 L124.9,469.9 L125.1,468.4 L125.2,466.9 L125.4,465.4 L125.6,463.9 L125.8,462.4 L126.0,461.0 L126.2,459.5 L126.4,458.0 L126.6,456.5 L126.8,455.0 L127.1,453.5 L127.3,452.0 L127.5,450.5 L127.7,449.1 L128.0,447.6 L128.2,446.1 L128.5,444.6 L128.7,443.1 L129.0,441.6 L129.2,440.2 L129.5,438.7 L129.7,437.2 L130.0,435.7 L130.3,434.3 L130.5,432.8 L130.8,431.3 L131.1,429.8 L131.4,428.4 L131.6,426.9 L131.9,425.4 L132.2,424.0 L132.5,422.5 L132.8,421.0 L133.1,419.6 L133.4,418.1 L133.7,416.6 L134.0,415.2 L134.3,413.7 L134.6,412.2 L134.9,410.8 L135.2,409.3 L135.5,407.8 L135.9,406.4 L136.2,404.9 L136.5,403.4 L136.8,402.0 L137.1,400.5 L137.5,399.0 L137.8,397.6 L138.1,396.1 L138.5,394.7 L138.8,393.2 L139.1,391.7 L139.5,390.3 L139.8,388.8 L140.1,387.4 L140.5,385.9 L140.8,384.4 L141.1,383.0 L141.5,381.5 L141.8,380.0 L142.2,378.6 L142.5,377.1 L142.8,375.7 L143.2,374.2 L143.5,372.7 L143.9,371.3 L144.2,369.8 L144.6,368.3 L144.9,366.9 L145.2,365.4 L145.6,364.0 L145.9,362.5 L146.3,361.0 L146.6,359.6 L147.0,358.1 L147.3,356.6 L147.7,355.2 L148.0,353.7 L148.3,352.2 L148.7,350.8 L149.0,349.3 L149.4,347.8 L149.7,346.4 L150.0,344.9 L150.4,343.4 L150.7,342.0 L151.0,340.5 L151.4,339.0 L151.7,337.6 L152.0,336.1 L152.4,334.6 L152.7,333.1 L153.0,331.7 L153.4,330.2 L153.7,328.7 L154.0,327.2 L154.3,325.8 L154.7,324.3 L155.0,322.8 L155.3,321.3 L155.7,319.9 L156.0,318.4 L156.3,316.9 L156.7,315.4 L157.0,314.0 L157.3,312.5 L157.7,311.0 L158.0,309.6 L158.4,308.1 L158.8,306.6 L159.1,305.2 L159.5,303.7 L159.8,302.3 L160.2,300.8 L160.6,299.4 L161.0,297.9 L161.4,296.5 L161.8,295.0 L162.2,293.6 L162.6,292.1 L163.0,290.7 L163.4,289.2 L163.9,287.8 L164.3,286.4 L164.7,285.0 L165.2,283.5 L165.7,282.1 L166.1,280.7 L166.6,279.3 L167.1,277.9 L167.6,276.5 L168.1,275.1 L168.6,273.7 L169.2,272.3 L169.7,270.9 L170.2,269.5 L170.8,268.1 L171.4,266.8 L171.9,265.4 L172.5,264.0 L173.1,262.6 L173.7,261.3 L174.3,259.9 L174.9,258.5 L175.5,257.2 L176.1,255.8 L176.7,254.4 L177.4,253.1 L178.0,251.7 L178.6,250.3 L179.2,249.0 L179.8,247.6 L180.4,246.2 L181.1,244.8 L181.7,243.5 L182.3,242.1 L182.9,240.7 L183.6,239.3 L184.2,237.9 L184.8,236.6 L185.4,235.2 L186.0,233.8 L186.6,232.4 L187.2,231.0 L187.8,229.6 L188.4,228.2 L189.0,226.8 L189.6,225.5 L190.2,224.1 L190.8,222.7 L191.4,221.3 L192.0,219.9 L192.5,218.5 L193.1,217.1 L193.7,215.7 L194.2,214.3 L194.8,212.9 L195.3,211.5 L195.8,210.1 L196.4,208.7 L196.9,207.3 L197.4,205.9 L197.9,204.5 L198.4,203.1 L198.9,201.7 L199.4,200.3 L199.8,198.9 L200.3,197.5 L200.8,196.1 L201.2,194.6 L201.7,193.2 L202.1,191.8 L202.6,190.4 L203.0,189.0 L203.5,187.6 L203.9,186.2 L204.3,184.7 L204.8,183.3 L205.2,181.9 L205.6,180.5 L206.1,179.0 L206.5,177.6 L206.9,176.2 L207.3,174.7 L207.7,173.3 L208.1,171.9 L208.6,170.4 L209.0,169.0 L209.4,167.5 L209.8,166.1 L210.2,164.6 L210.6,163.2 L211.0,161.7 L211.5,160.3 L211.9,158.8 L212.3,157.3 L212.7,155.9 L213.1,154.4 L213.6,152.9 L214.0,151.4 L214.4,150.0 L214.9,148.5 L215.3,147.0 L215.8,145.5 L216.2,144.1 L216.7,142.6 L217.2,141.1 L217.6,139.6 L218.1,138.2 L218.6,136.7 L219.2,135.3 L219.7,133.9 L220.3,132.4 L220.8,131.0 L221.4,129.6 L222.0,128.3 L222.7,126.9 L223.3,125.6 L224.0,124.2 L224.7,122.9 L225.4,121.6 L226.2,120.4 L226.9,119.1 L227.7,117.9 L228.6,116.7 L229.4,115.6 L230.3,114.4 L231.3,113.3 L232.2,112.2 L233.2,111.2 L234.3,110.2 L235.3,109.2 L236.4,108.2 L237.5,107.3 L238.7,106.3 L239.8,105.4 L241.0,104.6 L242.2,103.7 L243.5,102.9 L244.7,102.1 L246.0,101.2 L247.3,100.5 L248.6,99.7 L249.9,98.9 L251.2,98.1 L252.5,97.4 L253.9,96.6 L255.2,95.9 L256.6,95.2 L258.0,94.4 L259.3,93.7 L260.7,92.9 L262.1,92.2 L263.4,91.5 L264.8,90.7 L266.2,90.0 L267.5,89.3 L268.9,88.7 L270.3,88.0 L271.7,87.5 L273.1,86.9 L274.5,86.4 L275.9,86.0 L277.4,85.6 L278.8,85.3 L280.3,85.0 L281.7,84.9 L283.2,84.8 L284.7,84.8 L286.2,84.9 L287.7,85.1 L289.1,85.4 L290.5,85.7 L291.9,86.1 L293.3,86.6 L294.6,87.2 L295.9,87.8 L297.1,88.6 L298.3,89.3 L299.5,90.1 L300.6,91.0 L301.7,92.0 L302.8,92.9 L303.9,94.0 L304.9,95.0 L306.0,96.1 L307.0,97.2 L307.9,98.4 L308.9,99.6 L309.9,100.8 L310.8,102.0 L311.7,103.3 L312.7,104.5 L313.6,105.8 L314.5,107.0 L315.4,108.3 L316.3,109.5 L317.2,110.8 L318.1,112.1 L319.0,113.3 L319.9,114.6 L320.7,115.8 L321.6,117.0 L322.5,118.3 L323.4,119.5 L324.3,120.8 L325.1,122.0 L326.0,123.3 L326.9,124.5 L327.7,125.7 L328.6,127.0 L329.5,128.2 L330.3,129.5 L331.2,130.7 L332.0,131.9 L332.9,133.2 L333.7,134.4 L334.6,135.7 L335.4,136.9 L336.2,138.1 L337.1,139.4 L337.9,140.6 L338.7,141.9 L339.5,143.1 L340.3,144.4 L341.2,145.6 L342.0,146.9 L342.8,148.1 L343.6,149.4 L344.4,150.6 L345.2,151.9 L346.0,153.1 L346.8,154.4 L347.5,155.7 L348.3,156.9 L349.1,158.2 L349.9,159.5 L350.7,160.7 L351.4,162.0 L352.2,163.3 L352.9,164.6 L353.7,165.9 L354.5,167.1 L355.2,168.4 L356.0,169.7 L356.7,171.0 L357.5,172.3 L358.2,173.6 L359.0,174.9 L359.7,176.2 L360.4,177.5 L361.2,178.8 L361.9,180.1 L362.6,181.4 L363.3,182.7 L364.1,184.1 L364.8,185.4 L365.5,186.7 L366.2,188.0 L366.9,189.3 L367.7,190.6 L368.4,192.0 L369.1,193.3 L369.8,194.6 L370.5,195.9 L371.2,197.3 L371.9,198.6 L372.6,199.9 L373.3,201.2 L374.0,202.6 L374.7,203.9 L375.4,205.2 L376.1,206.6 L376.8,207.9 L377.5,209.2 L378.2,210.6 L378.9,211.9 L379.6,213.2 L380.3,214.6 L381.0,215.9 L381.7,217.3 L382.4,218.6 L383.1,219.9 L383.7,221.3 L384.4,222.6 L385.1,224.0 L385.8,225.3 L386.5,226.6 L387.2,228.0 L387.9,229.3 L388.6,230.7 L389.3,232.0 L390.0,233.3 L390.7,234.7 L391.4,236.0 L392.0,237.4 L392.7,238.7 L393.4,240.0 L394.1,241.4 L394.8,242.7 L395.5,244.0 L396.2,245.4 L396.9,246.7 L397.6,248.1 L398.3,249.4 L399.0,250.7 L399.7,252.1 L400.4,253.4 L401.1,254.7 L401.8,256.0 L402.6,257.4 L403.3,258.7 L404.0,260.0 L404.7,261.4 L405.4,262.7 L406.1,264.0 L406.8,265.3 L407.6,266.6 L408.3,268.0 L409.0,269.3 L409.8,270.6 L410.5,271.9 L411.2,273.2 L411.9,274.5 L412.7,275.9 L413.4,277.2 L414.2,278.5 L414.9,279.8 L415.7,281.1 L416.4,282.4 L417.2,283.7 L417.9,285.0 L418.7,286.3 L419.4,287.6 L420.2,288.9 L421.0,290.2 L421.7,291.4 L422.5,292.7 L423.3,294.0 L424.0,295.3 L424.8,296.6 L425.6,297.9 L426.4,299.1 L427.2,300.4 L427.9,301.7 L428.7,303.0 L429.5,304.3 L430.3,305.5 L431.1,306.8 L431.9,308.1 L432.7,309.3 L433.5,310.6 L434.3,311.9 L435.2,313.1 L436.0,314.4 L436.8,315.6 L437.6,316.9 L438.4,318.1 L439.2,319.4 L440.1,320.6 L440.9,321.9 L441.7,323.1 L442.6,324.4 L443.4,325.6 L444.3,326.9 L445.1,328.1 L445.9,329.3 L446.8,330.6 L447.6,331.8 L448.5,333.0 L449.4,334.3 L450.2,335.5 L451.1,336.7 L452.0,337.9 L452.8,339.2 L453.7,340.4 L454.6,341.6 L455.5,342.8 L456.3,344.0 L457.2,345.2 L458.1,346.5 L459.0,347.7 L459.9,348.9 L460.8,350.1 L461.7,351.3 L462.6,352.5 L463.5,353.7 L464.4,354.9 L465.3,356.1 L466.2,357.3 L467.2,358.5 L468.1,359.6 L469.0,360.8 L469.9,362.0 L470.9,363.2 L471.8,364.4 L472.7,365.6 L473.7,366.7 L474.6,367.9 L475.6,369.1 L476.5,370.2 L477.5,371.4 L478.4,372.6 L479.4,373.7 L480.4,374.9 L481.3,376.1 L482.3,377.2 L483.3,378.4 L484.3,379.5 L485.3,380.7 L486.3,381.8 L487.3,382.9 L488.3,384.1 L489.3,385.2 L490.3,386.3 L491.3,387.4 L492.3,388.5 L493.3,389.6 L494.4,390.7 L495.4,391.8 L496.5,392.9 L497.5,393.9 L498.6,395.0 L499.7,396.1 L500.7,397.1 L501.8,398.1 L502.9,399.2 L504.0,400.2 L505.1,401.2 L506.2,402.2 L507.3,403.2 L508.5,404.2 L509.6,405.2 L510.7,406.1 L511.9,407.1 L513.1,408.0 L514.2,409.0 L515.4,409.9 L516.6,410.8 L517.8,411.7 L519.0,412.6 L520.2,413.5 L521.4,414.3 L522.6,415.2 L523.9,416.1 L525.1,416.9 L526.4,417.7 L527.6,418.6 L528.9,419.4 L530.1,420.2 L531.4,421.0 L532.7,421.8 L533.9,422.6 L535.2,423.4 L536.5,424.2 L537.8,424.9 L539.1,425.7 L540.4,426.5 L541.7,427.2 L543.0,428.0 L544.3,428.7 L545.6,429.5 L546.9,430.2 L548.2,430.9 L549.5,431.6 L550.9,432.4 L552.2,433.1 L553.5,433.8 L554.8,434.5 L556.2,435.2 L557.5,435.9 L558.8,436.6 L560.2,437.3 L561.5,438.0 L562.8,438.7 L564.2,439.4 L565.5,440.0 L566.9,440.7 L568.2,441.4 L569.6,442.0 L570.9,442.7 L572.3,443.3 L573.6,444.0 L575.0,444.6 L576.3,445.3 L577.7,445.9 L579.1,446.5 L580.4,447.2 L581.8,447.8 L583.2,448.4 L584.5,449.0 L585.9,449.6 L587.3,450.2 L588.7,450.8 L590.0,451.4 L591.4,452.0 L592.8,452.6 L594.2,453.1 L595.6,453.7 L597.0,454.3 L598.4,454.8 L599.8,455.4 L601.2,455.9 L602.6,456.5 L604.0,457.0 L605.4,457.5 L606.8,458.1 L608.2,458.6 L609.6,459.1 L611.0,459.6 L612.4,460.1 L613.8,460.6 L615.2,461.1 L616.7,461.6 L618.1,462.1 L619.5,462.6 L620.9,463.0 L622.4,463.5 L623.8,464.0 L625.2,464.4 L626.6,464.9 L628.1,465.3 L629.5,465.8 L631.0,466.2 L632.4,466.6 L633.8,467.0 L635.3,467.5 L636.7,467.9 L638.2,468.3 L639.6,468.7 L641.1,469.1 L642.5,469.5 L644.0,469.9 L645.4,470.2 L646.9,470.6 L648.3,471.0 L649.8,471.4 L651.3,471.7 L652.7,472.1 L654.2,472.4 L655.6,472.8 L657.1,473.1 L658.6,473.4 L660.0,473.8 L661.5,474.1 L663.0,474.4 L664.4,474.7 L665.9,475.0 L667.4,475.3 L668.9,475.6 L670.3,475.9 L671.8,476.2 L673.3,476.5 L674.8,476.7 L676.3,477.0 L677.7,477.3 L679.2,477.5 L680.7,477.8 L682.2,478.0 L683.7,478.3 L685.1,478.5 L686.6,478.7 L688.1,479.0 L689.6,479.2 L691.1,479.4 L692.6,479.6 L694.1,479.8 L695.6,480.0 L697.1,480.2 L698.6,480.4 L700.0,480.6 L701.5,480.8 L703.0,480.9 L704.5,481.1 L706.0,481.3 L707.5,481.4 L709.0,481.6 L710.5,481.7 L712.0,481.9 L713.5,482.0 L715.0,482.1 L716.5,482.3 L718.0,482.4 L719.5,482.5 L721.0,482.6 L722.5,482.7 L724.0,482.8 L725.5,482.9 L727.0,483.0 L728.5,483.1 L730.0,483.2 L731.5,483.2 L733.0,483.3 L734.5,483.4 L736.0,483.4 L737.5,483.5 L739.0,483.5" fill="none" stroke="#FF8000" stroke-width="6.2" stroke-linejoin="round" stroke-linecap="butt"/>
<path d="M123.8,489.5 L124.2,488.0 L124.5,486.6 L124.9,485.1 L125.2,483.7 L125.6,482.2 L125.9,480.7 L126.2,479.3 L126.6,477.8 L126.9,476.3 L127.2,474.9 L127.6,473.4 L127.9,472.0 L128.2,470.5 L128.5,469.0 L128.9,467.5 L129.2,466.1 L129.5,464.6 L129.8,463.1 L130.1,461.7 L130.4,460.2 L130.7,458.7 L131.0,457.3 L131.3,455.8 L131.6,454.3 L131.9,452.8 L132.2,451.4 L132.5,449.9 L132.8,448.4 L133.1,446.9 L133.4,445.5 L133.7,444.0 L134.0,442.5 L134.3,441.0 L134.6,439.6 L134.9,438.1 L135.2,436.6 L135.5,435.1 L135.8,433.6 L136.1,432.2 L136.4,430.7 L136.6,429.2 L136.9,427.7 L137.2,426.3 L137.5,424.8 L137.8,423.3 L138.1,421.8 L138.4,420.3 L138.7,418.9 L139.0,417.4 L139.3,415.9 L139.5,414.4 L139.8,412.9 L140.1,411.5 L140.4,410.0 L140.7,408.5 L141.0,407.0 L141.3,405.6 L141.6,404.1 L141.9,402.6 L142.2,401.1 L142.5,399.7 L142.8,398.2 L143.1,396.7 L143.4,395.2 L143.7,393.8 L144.0,392.3 L144.3,390.8 L144.6,389.3 L144.9,387.9 L145.3,386.4 L145.6,384.9 L145.9,383.4 L146.2,382.0 L146.5,380.5 L146.9,379.0 L147.2,377.6 L147.5,376.1 L147.9,374.6 L148.2,373.2 L148.5,371.7 L148.9,370.2 L149.2,368.8 L149.6,367.3 L149.9,365.9 L150.3,364.4 L150.6,362.9 L151.0,361.5 L151.3,360.0 L151.7,358.6 L152.1,357.1 L152.4,355.6 L152.8,354.2 L153.2,352.7 L153.6,351.3 L154.0,349.8 L154.4,348.4 L154.7,346.9 L155.1,345.5 L155.5,344.0 L156.0,342.6 L156.4,341.1 L156.8,339.7 L157.2,338.2 L157.6,336.8 L158.1,335.4 L158.5,333.9 L158.9,332.5 L159.4,331.1 L159.8,329.6 L160.3,328.2 L160.7,326.8 L161.2,325.3 L161.6,323.9 L162.1,322.5 L162.6,321.0 L163.0,319.6 L163.5,318.2 L164.0,316.8 L164.5,315.3 L165.0,313.9 L165.5,312.5 L166.0,311.1 L166.4,309.6 L166.9,308.2 L167.5,306.8 L168.0,305.4 L168.5,304.0 L169.0,302.6 L169.5,301.1 L170.0,299.7 L170.5,298.3 L171.0,296.9 L171.6,295.5 L172.1,294.1 L172.6,292.7 L173.1,291.3 L173.7,289.8 L174.2,288.4 L174.7,287.0 L175.3,285.6 L175.8,284.2 L176.3,282.8 L176.9,281.4 L177.4,280.0 L177.9,278.6 L178.5,277.2 L179.0,275.8 L179.6,274.4 L180.1,273.0 L180.7,271.6 L181.2,270.2 L181.7,268.8 L182.3,267.3 L182.8,265.9 L183.4,264.5 L183.9,263.1 L184.5,261.7 L185.0,260.3 L185.6,258.9 L186.1,257.5 L186.6,256.1 L187.2,254.7 L187.7,253.3 L188.3,251.9 L188.8,250.5 L189.3,249.1 L189.9,247.7 L190.4,246.3 L191.0,244.9 L191.5,243.5 L192.0,242.1 L192.6,240.7 L193.1,239.3 L193.6,237.9 L194.2,236.5 L194.7,235.1 L195.2,233.7 L195.7,232.3 L196.3,230.9 L196.8,229.5 L197.3,228.1 L197.8,226.7 L198.4,225.2 L198.9,223.8 L199.4,222.4 L199.9,221.0 L200.4,219.6 L201.0,218.2 L201.5,216.8 L202.0,215.4 L202.5,214.0 L203.0,212.6 L203.5,211.1 L204.0,209.7 L204.5,208.3 L205.0,206.9 L205.5,205.5 L206.0,204.1 L206.5,202.6 L207.0,201.2 L207.5,199.8 L208.0,198.4 L208.5,197.0 L209.0,195.5 L209.4,194.1 L209.9,192.7 L210.4,191.2 L210.9,189.8 L211.3,188.4 L211.8,187.0 L212.3,185.5 L212.8,184.1 L213.2,182.7 L213.7,181.2 L214.2,179.8 L214.6,178.3 L215.1,176.9 L215.6,175.5 L216.0,174.0 L216.5,172.6 L217.0,171.2 L217.5,169.7 L217.9,168.3 L218.4,166.9 L218.9,165.5 L219.4,164.1 L220.0,162.6 L220.5,161.2 L221.0,159.8 L221.5,158.4 L222.1,157.0 L222.7,155.6 L223.2,154.2 L223.8,152.8 L224.4,151.4 L225.0,150.1 L225.6,148.7 L226.3,147.3 L226.9,146.0 L227.6,144.6 L228.3,143.3 L229.0,141.9 L229.7,140.6 L230.4,139.3 L231.2,138.0 L231.9,136.7 L232.7,135.4 L233.5,134.1 L234.4,132.9 L235.2,131.6 L236.1,130.4 L237.0,129.2 L237.9,128.0 L238.8,126.8 L239.7,125.7 L240.7,124.6 L241.7,123.5 L242.7,122.4 L243.7,121.4 L244.8,120.3 L245.9,119.4 L247.0,118.4 L248.1,117.5 L249.3,116.6 L250.4,115.7 L251.6,114.9 L252.8,114.1 L254.1,113.3 L255.3,112.5 L256.5,111.7 L257.7,110.9 L258.9,110.1 L260.1,109.2 L261.3,108.3 L262.5,107.3 L263.6,106.3 L264.8,105.3 L265.9,104.3 L267.1,103.2 L268.2,102.1 L269.3,101.0 L270.5,99.9 L271.6,98.8 L272.8,97.6 L273.9,96.5 L275.1,95.5 L276.3,94.5 L277.5,93.5 L278.8,92.7 L280.0,91.9 L281.3,91.3 L282.7,90.7 L284.0,90.3 L285.4,90.0 L286.8,89.8 L288.2,89.6 L289.6,89.6 L291.0,89.6 L292.4,89.8 L293.8,90.0 L295.2,90.3 L296.7,90.6 L298.0,91.1 L299.4,91.6 L300.8,92.1 L302.1,92.8 L303.4,93.5 L304.7,94.2 L306.0,95.0 L307.2,95.8 L308.4,96.7 L309.5,97.7 L310.6,98.6 L311.7,99.6 L312.7,100.7 L313.8,101.8 L314.7,102.9 L315.7,104.0 L316.7,105.2 L317.6,106.4 L318.5,107.6 L319.4,108.8 L320.2,110.1 L321.1,111.4 L321.9,112.7 L322.8,114.0 L323.6,115.3 L324.4,116.6 L325.2,117.9 L326.0,119.2 L326.9,120.6 L327.7,121.9 L328.5,123.2 L329.3,124.5 L330.1,125.8 L330.9,127.1 L331.7,128.4 L332.5,129.7 L333.3,131.0 L334.2,132.3 L335.0,133.6 L335.8,134.9 L336.6,136.2 L337.5,137.4 L338.3,138.7 L339.1,140.0 L339.9,141.3 L340.7,142.5 L341.6,143.8 L342.4,145.0 L343.2,146.3 L344.0,147.6 L344.9,148.8 L345.7,150.1 L346.5,151.3 L347.3,152.6 L348.2,153.8 L349.0,155.1 L349.8,156.3 L350.6,157.6 L351.4,158.8 L352.2,160.1 L353.0,161.3 L353.9,162.6 L354.7,163.8 L355.5,165.1 L356.3,166.3 L357.1,167.6 L357.9,168.8 L358.6,170.1 L359.4,171.4 L360.2,172.6 L361.0,173.9 L361.8,175.2 L362.6,176.4 L363.3,177.7 L364.1,179.0 L364.9,180.2 L365.6,181.5 L366.4,182.8 L367.1,184.1 L367.9,185.4 L368.6,186.7 L369.3,188.0 L370.1,189.3 L370.8,190.6 L371.5,191.9 L372.2,193.2 L372.9,194.5 L373.6,195.9 L374.3,197.2 L375.0,198.5 L375.7,199.9 L376.4,201.2 L377.1,202.5 L377.8,203.9 L378.5,205.2 L379.1,206.6 L379.8,207.9 L380.5,209.3 L381.1,210.7 L381.8,212.0 L382.4,213.4 L383.1,214.7 L383.8,216.1 L384.4,217.5 L385.1,218.8 L385.7,220.2 L386.4,221.6 L387.0,223.0 L387.7,224.3 L388.3,225.7 L389.0,227.1 L389.6,228.4 L390.3,229.8 L390.9,231.2 L391.6,232.6 L392.2,233.9 L392.9,235.3 L393.5,236.7 L394.2,238.0 L394.8,239.4 L395.5,240.8 L396.2,242.1 L396.8,243.5 L397.5,244.9 L398.2,246.2 L398.8,247.6 L399.5,248.9 L400.2,250.3 L400.9,251.6 L401.5,253.0 L402.2,254.3 L402.9,255.7 L403.6,257.0 L404.3,258.3 L405.0,259.7 L405.7,261.0 L406.5,262.3 L407.2,263.6 L407.9,265.0 L408.6,266.3 L409.4,267.6 L410.1,268.9 L410.9,270.2 L411.6,271.5 L412.4,272.7 L413.1,274.0 L413.9,275.3 L414.7,276.6 L415.5,277.8 L416.3,279.1 L417.1,280.4 L417.9,281.6 L418.7,282.9 L419.5,284.1 L420.3,285.4 L421.1,286.6 L421.9,287.9 L422.7,289.1 L423.5,290.4 L424.4,291.6 L425.2,292.9 L426.0,294.1 L426.8,295.4 L427.7,296.6 L428.5,297.8 L429.3,299.1 L430.2,300.3 L431.0,301.6 L431.8,302.8 L432.7,304.1 L433.5,305.3 L434.3,306.6 L435.1,307.8 L436.0,309.1 L436.8,310.3 L437.6,311.6 L438.5,312.9 L439.3,314.1 L440.1,315.4 L440.9,316.6 L441.8,317.9 L442.6,319.2 L443.4,320.4 L444.3,321.7 L445.1,322.9 L445.9,324.2 L446.8,325.5 L447.6,326.7 L448.5,328.0 L449.3,329.2 L450.1,330.5 L451.0,331.8 L451.8,333.0 L452.7,334.3 L453.5,335.5 L454.4,336.8 L455.2,338.0 L456.1,339.3 L456.9,340.5 L457.8,341.8 L458.7,343.0 L459.5,344.3 L460.4,345.5 L461.3,346.7 L462.1,348.0 L463.0,349.2 L463.9,350.4 L464.8,351.7 L465.7,352.9 L466.6,354.1 L467.4,355.3 L468.3,356.5 L469.2,357.7 L470.2,358.9 L471.1,360.1 L472.0,361.3 L472.9,362.5 L473.8,363.7 L474.7,364.9 L475.7,366.1 L476.6,367.3 L477.5,368.5 L478.5,369.6 L479.4,370.8 L480.4,371.9 L481.4,373.1 L482.3,374.2 L483.3,375.4 L484.3,376.5 L485.3,377.7 L486.2,378.8 L487.2,379.9 L488.2,381.0 L489.2,382.1 L490.2,383.2 L491.3,384.3 L492.3,385.4 L493.3,386.5 L494.3,387.6 L495.4,388.7 L496.4,389.7 L497.5,390.8 L498.6,391.8 L499.6,392.9 L500.7,393.9 L501.8,394.9 L502.9,396.0 L504.0,397.0 L505.1,398.0 L506.2,399.0 L507.3,400.0 L508.4,400.9 L509.6,401.9 L510.7,402.9 L511.9,403.8 L513.0,404.8 L514.2,405.7 L515.4,406.6 L516.6,407.6 L517.8,408.5 L519.0,409.4 L520.2,410.3 L521.4,411.1 L522.6,412.0 L523.8,412.9 L525.1,413.8 L526.3,414.6 L527.6,415.5 L528.8,416.3 L530.1,417.1 L531.4,417.9 L532.6,418.8 L533.9,419.6 L535.2,420.4 L536.5,421.2 L537.8,421.9 L539.1,422.7 L540.4,423.5 L541.7,424.3 L543.0,425.0 L544.3,425.8 L545.6,426.5 L546.9,427.3 L548.2,428.0 L549.5,428.7 L550.9,429.5 L552.2,430.2 L553.5,430.9 L554.8,431.6 L556.2,432.3 L557.5,433.0 L558.9,433.7 L560.2,434.4 L561.5,435.0 L562.9,435.7 L564.2,436.4 L565.6,437.0 L566.9,437.7 L568.3,438.3 L569.6,439.0 L571.0,439.6 L572.3,440.3 L573.7,440.9 L575.1,441.5 L576.4,442.1 L577.8,442.8 L579.2,443.4 L580.5,444.0 L581.9,444.6 L583.3,445.2 L584.7,445.8 L586.0,446.4 L587.4,446.9 L588.8,447.5 L590.2,448.1 L591.6,448.7 L593.0,449.2 L594.4,449.8 L595.7,450.3 L597.1,450.9 L598.5,451.4 L599.9,452.0 L601.3,452.5 L602.7,453.1 L604.1,453.6 L605.5,454.1 L607.0,454.6 L608.4,455.2 L609.8,455.7 L611.2,456.2 L612.6,456.7 L614.0,457.2 L615.4,457.7 L616.9,458.2 L618.3,458.7 L619.7,459.2 L621.1,459.6 L622.6,460.1 L624.0,460.6 L625.4,461.1 L626.8,461.5 L628.3,462.0 L629.7,462.4 L631.1,462.9 L632.6,463.3 L634.0,463.8 L635.5,464.2 L636.9,464.6 L638.3,465.1 L639.8,465.5 L641.2,465.9 L642.7,466.3 L644.1,466.7 L645.6,467.1 L647.0,467.5 L648.5,467.9 L649.9,468.3 L651.4,468.7 L652.9,469.1 L654.3,469.4 L655.8,469.8 L657.2,470.2 L658.7,470.5 L660.2,470.9 L661.6,471.2 L663.1,471.6 L664.6,471.9 L666.0,472.2 L667.5,472.6 L669.0,472.9 L670.4,473.2 L671.9,473.5 L673.4,473.8 L674.9,474.1 L676.3,474.4 L677.8,474.7 L679.3,475.0 L680.8,475.3 L682.2,475.6 L683.7,475.9 L685.2,476.1 L686.7,476.4 L688.2,476.6 L689.6,476.9 L691.1,477.1 L692.6,477.4 L694.1,477.6 L695.6,477.8 L697.1,478.0 L698.6,478.3 L700.1,478.5 L701.5,478.7 L703.0,478.9 L704.5,479.1 L706.0,479.3 L707.5,479.4 L709.0,479.6 L710.5,479.8 L712.0,480.0 L713.5,480.1 L715.0,480.3 L716.5,480.4 L718.0,480.6 L719.5,480.7 L721.0,480.8 L722.5,481.0 L724.0,481.1 L725.5,481.2 L727.0,481.3 L728.5,481.4 L730.0,481.5 L731.5,481.6 L733.0,481.7 L734.5,481.7 L736.0,481.8 L737.5,481.9 L739.0,481.9" fill="none" stroke="#008000" stroke-width="6.2" stroke-linejoin="round" stroke-linecap="butt"/>
<path d="M569.5,44.2H620" stroke="#000000" stroke-width="6.3"/>
<text x="627.6" y="51.7" font-family="Liberation Sans, sans-serif" font-weight="bold" font-size="21.6">0.2 <tspan font-weight="normal" font-family="Liberation Serif, serif">μ</tspan>g/mL</text>
<path d="M569.5,74.6H620" stroke="#808000" stroke-width="6.3"/>
<text x="627.6" y="82.1" font-family="Liberation Sans, sans-serif" font-weight="bold" font-size="21.6">0.4 <tspan font-weight="normal" font-family="Liberation Serif, serif">μ</tspan>g/mL</text>
<path d="M569.5,105.1H620" stroke="#8000FF" stroke-width="6.3"/>
<text x="627.6" y="112.6" font-family="Liberation Sans, sans-serif" font-weight="bold" font-size="21.6">0.6 <tspan font-weight="normal" font-family="Liberation Serif, serif">μ</tspan>g/mL</text>
<path d="M569.5,135.5H620" stroke="#FF8000" stroke-width="6.3"/>
<text x="627.6" y="143.0" font-family="Liberation Sans, sans-serif" font-weight="bold" font-size="21.6">0.8 <tspan font-weight="normal" font-family="Liberation Serif, serif">μ</tspan>g/mL</text>
<path d="M569.5,165.9H620" stroke="#008000" stroke-width="6.3"/>
<text x="627.6" y="173.4" font-family="Liberation Sans, sans-serif" font-weight="bold" font-size="21.6">1.0 <tspan font-weight="normal" font-family="Liberation Serif, serif">μ</tspan>g/mL</text>
<path d="M873.5,27.0H882.3V490.5H1451.3V499.3" fill="none" stroke="#000" stroke-width="4.0" stroke-linejoin="round"/>
<path d="M873.5,490.5H882.3M873.5,413.2H882.3M873.5,336.0H882.3M873.5,258.8H882.3M873.5,181.5H882.3M873.5,104.2H882.3M873.5,27.0H882.3M877.7,451.9H882.3M877.7,374.6H882.3M877.7,297.4H882.3M877.7,220.1H882.3M877.7,142.9H882.3M877.7,65.6H882.3M882.3,490.5V499.3M1024.5,490.5V499.3M1166.8,490.5V499.3M1309.0,490.5V499.3M1451.3,490.5V499.3M953.4,490.5V495.1M1095.7,490.5V495.1M1237.9,490.5V495.1M1380.2,490.5V495.1" fill="none" stroke="#000" stroke-width="3.3"/>
<text transform="translate(866.2,495.6) scale(1,1.07)" font-family="Liberation Sans, sans-serif" font-weight="bold" font-size="21.2" text-anchor="end">0.0</text>
<text transform="translate(866.2,418.4) scale(1,1.07)" font-family="Liberation Sans, sans-serif" font-weight="bold" font-size="21.2" text-anchor="end">0.2</text>
<text transform="translate(866.2,341.1) scale(1,1.07)" font-family="Liberation Sans, sans-serif" font-weight="bold" font-size="21.2" text-anchor="end">0.4</text>
<text transform="translate(866.2,263.9) scale(1,1.07)" font-family="Liberation Sans, sans-serif" font-weight="bold" font-size="21.2" text-anchor="end">0.6</text>
<text transform="translate(866.2,186.6) scale(1,1.07)" font-family="Liberation Sans, sans-serif" font-weight="bold" font-size="21.2" text-anchor="end">0.8</text>
<text transform="translate(866.2,109.3) scale(1,1.07)" font-family="Liberation Sans, sans-serif" font-weight="bold" font-size="21.2" text-anchor="end">1.0</text>
<text transform="translate(866.2,32.1) scale(1,1.07)" font-family="Liberation Sans, sans-serif" font-weight="bold" font-size="21.2" text-anchor="end">1.2</text>
<text transform="translate(882.9,522.6) scale(1,1.07)" font-family="Liberation Sans, sans-serif" font-weight="bold" font-size="21.2" text-anchor="middle">300</text>
<text transform="translate(1025.1,522.6) scale(1,1.07)" font-family="Liberation Sans, sans-serif" font-weight="bold" font-size="21.2" text-anchor="middle">400</text>
<text transform="translate(1167.4,522.6) scale(1,1.07)" font-family="Liberation Sans, sans-serif" font-weight="bold" font-size="21.2" text-anchor="middle">500</text>
<text transform="translate(1309.6,522.6) scale(1,1.07)" font-family="Liberation Sans, sans-serif" font-weight="bold" font-size="21.2" text-anchor="middle">600</text>
<text transform="translate(1451.9,522.6) scale(1,1.07)" font-family="Liberation Sans, sans-serif" font-weight="bold" font-size="21.2" text-anchor="middle">700</text>
<text transform="translate(1167,566.1) scale(1,1.05)" font-family="Liberation Sans, sans-serif" font-weight="bold" font-size="26.3" text-anchor="middle">Wavelength (nm)</text>
<text transform="translate(818.6,260) rotate(-90)" x="0" y="0" font-family="Liberation Sans, sans-serif" font-weight="bold" font-size="27" text-anchor="middle">Normalized Intensity (a.u.)</text>
<text x="892.8" y="51" font-family="Liberation Serif, serif" font-weight="bold" font-size="33">(b)</text>
<text x="899.2" y="110.3" font-family="Liberation Sans, sans-serif" font-weight="bold" font-size="21.4">Excitation</text>
<text x="899.4" y="138.9" font-family="Liberation Sans, sans-serif" font-weight="bold" font-size="21.4">400 nm</text>
<text x="1264.5" y="110.3" font-family="Liberation Sans, sans-serif" font-weight="bold" font-size="21.4" fill="#E0102C" text-anchor="end">Emission</text>
<text x="1265.8" y="141.4" font-family="Liberation Sans, sans-serif" font-weight="bold" font-size="21.4" fill="#E0102C" text-anchor="end">480 nm</text>
<path d="M953.4,483.0 L956.3,490.3 L966,490.5" fill="none" stroke="#000" stroke-width="6.2" stroke-linejoin="round" stroke-linecap="butt"/>
<path d="M961.8,489.7 L963.9,490.1 L965.6,490.1 L967.0,489.7 L968.2,489.0 L969.1,488.0 L969.9,486.8 L970.5,485.5 L971.1,484.1 L971.7,482.7 L972.2,481.3 L972.7,479.9 L973.2,478.5 L973.6,477.0 L974.1,475.6 L974.5,474.2 L974.9,472.7 L975.3,471.3 L975.7,469.8 L976.0,468.4 L976.4,466.9 L976.7,465.4 L977.0,464.0 L977.3,462.5 L977.6,461.0 L977.8,459.5 L978.1,458.1 L978.4,456.6 L978.6,455.1 L978.8,453.6 L979.0,452.1 L979.2,450.6 L979.4,449.2 L979.6,447.7 L979.8,446.2 L980.0,444.7 L980.2,443.2 L980.3,441.7 L980.5,440.2 L980.7,438.7 L980.8,437.2 L981.0,435.7 L981.1,434.2 L981.2,432.7 L981.4,431.2 L981.5,429.7 L981.7,428.2 L981.8,426.7 L981.9,425.2 L982.1,423.7 L982.2,422.2 L982.3,420.7 L982.5,419.2 L982.6,417.7 L982.8,416.2 L982.9,414.7 L983.0,413.2 L983.2,411.7 L983.3,410.2 L983.4,408.7 L983.5,407.2 L983.7,405.7 L983.8,404.2 L983.9,402.7 L984.1,401.2 L984.2,399.7 L984.3,398.2 L984.4,396.7 L984.6,395.2 L984.7,393.7 L984.8,392.2 L984.9,390.6 L985.1,389.1 L985.2,387.6 L985.3,386.1 L985.4,384.6 L985.6,383.1 L985.7,381.6 L985.8,380.1 L985.9,378.6 L986.1,377.1 L986.2,375.6 L986.3,374.1 L986.4,372.6 L986.5,371.1 L986.7,369.6 L986.8,368.1 L986.9,366.6 L987.0,365.1 L987.1,363.6 L987.2,362.1 L987.4,360.6 L987.5,359.1 L987.6,357.6 L987.7,356.1 L987.8,354.6 L988.0,353.1 L988.1,351.6 L988.2,350.1 L988.3,348.6 L988.4,347.1 L988.5,345.6 L988.7,344.1 L988.8,342.6 L988.9,341.1 L989.0,339.6 L989.1,338.1 L989.2,336.6 L989.4,335.1 L989.5,333.6 L989.6,332.1 L989.7,330.6 L989.8,329.1 L989.9,327.6 L990.1,326.1 L990.2,324.6 L990.3,323.1 L990.4,321.6 L990.5,320.1 L990.7,318.6 L990.8,317.1 L990.9,315.6 L991.0,314.1 L991.1,312.7 L991.2,311.2 L991.4,309.7 L991.5,308.2 L991.6,306.7 L991.7,305.2 L991.8,303.7 L992.0,302.2 L992.1,300.7 L992.2,299.2 L992.3,297.7 L992.4,296.2 L992.6,294.7 L992.7,293.2 L992.8,291.7 L992.9,290.2 L993.1,288.7 L993.2,287.2 L993.3,285.7 L993.4,284.2 L993.6,282.7 L993.7,281.2 L993.8,279.7 L993.9,278.2 L994.1,276.7 L994.2,275.2 L994.3,273.7 L994.4,272.2 L994.6,270.7 L994.7,269.2 L994.8,267.7 L995.0,266.2 L995.1,264.7 L995.2,263.2 L995.4,261.7 L995.5,260.2 L995.6,258.7 L995.8,257.2 L995.9,255.7 L996.0,254.2 L996.2,252.7 L996.3,251.2 L996.4,249.7 L996.6,248.2 L996.7,246.8 L996.8,245.3 L997.0,243.8 L997.1,242.3 L997.2,240.8 L997.4,239.3 L997.5,237.8 L997.7,236.3 L997.8,234.8 L997.9,233.3 L998.1,231.8 L998.2,230.3 L998.3,228.8 L998.5,227.3 L998.6,225.8 L998.8,224.3 L998.9,222.8 L999.0,221.3 L999.2,219.8 L999.3,218.3 L999.5,216.8 L999.6,215.3 L999.7,213.8 L999.9,212.3 L1000.0,210.8 L1000.2,209.3 L1000.3,207.8 L1000.4,206.3 L1000.6,204.8 L1000.7,203.3 L1000.9,201.8 L1001.0,200.3 L1001.1,198.8 L1001.3,197.3 L1001.4,195.8 L1001.6,194.3 L1001.7,192.8 L1001.8,191.3 L1002.0,189.8 L1002.1,188.2 L1002.3,186.7 L1002.4,185.2 L1002.5,183.7 L1002.7,182.2 L1002.8,180.7 L1003.0,179.2 L1003.1,177.7 L1003.2,176.2 L1003.4,174.7 L1003.5,173.2 L1003.7,171.7 L1003.8,170.2 L1004.0,168.7 L1004.1,167.2 L1004.3,165.7 L1004.4,164.2 L1004.6,162.7 L1004.7,161.2 L1004.9,159.7 L1005.1,158.3 L1005.2,156.8 L1005.4,155.3 L1005.6,153.8 L1005.7,152.3 L1005.9,150.8 L1006.1,149.3 L1006.3,147.9 L1006.4,146.4 L1006.6,144.9 L1006.8,143.5 L1007.0,142.0 L1007.2,140.5 L1007.4,139.1 L1007.6,137.6 L1007.8,136.2 L1008.0,134.7 L1008.2,133.2 L1008.4,131.8 L1008.6,130.3 L1008.9,128.9 L1009.2,127.4 L1009.5,125.9 L1009.8,124.4 L1010.2,122.8 L1010.5,121.3 L1011.0,119.7 L1011.4,118.1 L1011.9,116.5 L1012.5,114.9 L1013.1,113.3 L1013.8,111.9 L1014.7,110.7 L1015.6,109.8 L1016.7,109.2 L1017.8,109.0 L1018.9,109.2 L1019.9,109.7 L1020.8,110.5 L1021.6,111.6 L1022.3,112.8 L1023.0,114.2 L1023.6,115.6 L1024.2,117.1 L1024.8,118.6 L1025.4,120.0 L1025.9,121.5 L1026.5,123.0 L1027.0,124.4 L1027.5,125.9 L1028.0,127.4 L1028.5,128.8 L1029.0,130.3 L1029.5,131.8 L1029.9,133.3 L1030.4,134.7 L1030.8,136.2 L1031.3,137.7 L1031.7,139.2 L1032.1,140.6 L1032.5,142.1 L1032.9,143.6 L1033.3,145.1 L1033.6,146.5 L1034.0,148.0 L1034.4,149.5 L1034.7,151.0 L1035.0,152.4 L1035.4,153.9 L1035.7,155.4 L1036.0,156.9 L1036.4,158.3 L1036.7,159.8 L1037.0,161.3 L1037.3,162.8 L1037.6,164.2 L1037.9,165.7 L1038.1,167.2 L1038.4,168.7 L1038.7,170.2 L1039.0,171.6 L1039.3,173.1 L1039.5,174.6 L1039.8,176.1 L1040.1,177.5 L1040.3,179.0 L1040.6,180.5 L1040.9,181.9 L1041.1,183.4 L1041.4,184.9 L1041.7,186.4 L1041.9,187.8 L1042.2,189.3 L1042.4,190.8 L1042.7,192.2 L1043.0,193.7 L1043.3,195.2 L1043.5,196.7 L1043.8,198.1 L1044.1,199.6 L1044.3,201.1 L1044.6,202.5 L1044.9,204.0 L1045.2,205.5 L1045.5,206.9 L1045.8,208.4 L1046.1,209.8 L1046.4,211.3 L1046.7,212.8 L1047.0,214.2 L1047.3,215.7 L1047.6,217.1 L1048.0,218.6 L1048.3,220.1 L1048.6,221.5 L1048.9,223.0 L1049.3,224.4 L1049.6,225.9 L1049.9,227.4 L1050.2,228.8 L1050.6,230.3 L1050.9,231.7 L1051.2,233.2 L1051.6,234.7 L1051.9,236.1 L1052.2,237.6 L1052.6,239.0 L1052.9,240.5 L1053.2,242.0 L1053.6,243.4 L1053.9,244.9 L1054.2,246.4 L1054.6,247.8 L1054.9,249.3 L1055.2,250.8 L1055.6,252.2 L1055.9,253.7 L1056.2,255.2 L1056.6,256.6 L1056.9,258.1 L1057.2,259.6 L1057.5,261.1 L1057.8,262.6 L1058.1,264.0 L1058.5,265.5 L1058.8,267.0 L1059.1,268.5 L1059.4,270.0 L1059.7,271.5 L1060.0,273.0 L1060.3,274.5 L1060.6,275.9 L1060.8,277.4 L1061.1,278.9 L1061.4,280.4 L1061.7,281.9 L1062.0,283.4 L1062.3,284.9 L1062.6,286.4 L1062.9,287.9 L1063.2,289.4 L1063.5,290.9 L1063.8,292.4 L1064.1,293.9 L1064.4,295.4 L1064.7,296.9 L1065.0,298.4 L1065.4,299.8 L1065.7,301.3 L1066.0,302.8 L1066.4,304.3 L1066.7,305.7 L1067.1,307.2 L1067.4,308.7 L1067.8,310.1 L1068.2,311.6 L1068.6,313.0 L1069.0,314.5 L1069.4,315.9 L1069.9,317.4 L1070.3,318.8 L1070.7,320.2 L1071.2,321.6 L1071.7,323.1 L1072.2,324.5 L1072.7,325.9 L1073.2,327.3 L1073.7,328.7 L1074.3,330.0 L1074.8,331.4 L1075.4,332.8 L1076.0,334.1 L1076.6,335.5 L1077.3,336.8 L1077.9,338.2 L1078.6,339.5 L1079.3,340.8 L1080.0,342.1 L1080.7,343.4 L1081.4,344.7 L1082.2,346.0 L1083.0,347.2 L1083.8,348.5 L1084.6,349.7 L1085.5,351.0 L1086.3,352.2 L1087.2,353.4 L1088.1,354.6 L1089.0,355.8 L1089.9,357.0 L1090.9,358.1 L1091.8,359.3 L1092.8,360.4 L1093.8,361.5 L1094.8,362.6 L1095.9,363.7 L1096.9,364.8 L1098.0,365.9 L1099.1,366.9 L1100.1,367.9 L1101.2,369.0 L1102.4,370.0 L1103.5,370.9 L1104.6,371.9 L1105.8,372.9 L1107.0,373.8 L1108.1,374.8 L1109.3,375.7 L1110.5,376.6 L1111.7,377.5 L1112.9,378.4 L1114.2,379.3 L1115.4,380.2 L1116.6,381.1 L1117.9,382.0 L1119.1,382.8 L1120.4,383.7 L1121.6,384.6 L1122.9,385.4 L1124.1,386.3 L1125.4,387.2 L1126.7,388.0 L1127.9,388.9 L1129.2,389.7 L1130.5,390.6 L1131.7,391.4 L1133.0,392.3 L1134.2,393.2 L1135.5,394.0 L1136.8,394.8 L1138.1,395.7 L1139.3,396.4 L1140.6,397.2 L1141.9,398.0 L1143.2,398.7 L1144.5,399.3 L1145.9,400.0 L1147.2,400.5 L1148.6,401.1 L1149.9,401.5 L1151.3,402.0 L1152.7,402.3 L1154.2,402.6 L1155.6,402.8 L1157.1,402.9 L1158.6,403.0 L1160.1,402.9 L1161.6,402.8 L1163.2,402.6 L1164.8,402.3 L1166.4,401.9 L1167.9,401.5 L1169.5,401.1 L1171.0,400.6 L1172.5,400.1 L1174.0,399.6 L1175.5,399.0 L1176.9,398.5 L1178.2,398.0 L1179.5,397.5 L1180.7,397.0" fill="none" stroke="#000000" stroke-width="6.2" stroke-linejoin="round" stroke-linecap="butt"/>
<path d="M1027.2,490.4 L1027.6,488.9 L1027.9,487.5 L1028.2,486.0 L1028.5,484.5 L1028.9,483.1 L1029.2,481.6 L1029.5,480.1 L1029.8,478.7 L1030.1,477.2 L1030.5,475.8 L1030.8,474.3 L1031.1,472.8 L1031.4,471.4 L1031.7,469.9 L1032.0,468.4 L1032.3,467.0 L1032.6,465.5 L1032.9,464.0 L1033.2,462.6 L1033.5,461.1 L1033.8,459.6 L1034.1,458.1 L1034.4,456.7 L1034.6,455.2 L1034.9,453.7 L1035.2,452.2 L1035.5,450.8 L1035.8,449.3 L1036.0,447.8 L1036.3,446.3 L1036.6,444.9 L1036.9,443.4 L1037.1,441.9 L1037.4,440.4 L1037.7,439.0 L1037.9,437.5 L1038.2,436.0 L1038.5,434.5 L1038.7,433.0 L1039.0,431.6 L1039.3,430.1 L1039.5,428.6 L1039.8,427.1 L1040.0,425.6 L1040.3,424.2 L1040.5,422.7 L1040.8,421.2 L1041.1,419.7 L1041.3,418.2 L1041.6,416.8 L1041.8,415.3 L1042.1,413.8 L1042.3,412.3 L1042.5,410.8 L1042.8,409.3 L1043.0,407.8 L1043.3,406.4 L1043.5,404.9 L1043.8,403.4 L1044.0,401.9 L1044.3,400.4 L1044.5,398.9 L1044.7,397.4 L1045.0,396.0 L1045.2,394.5 L1045.5,393.0 L1045.7,391.5 L1045.9,390.0 L1046.2,388.5 L1046.4,387.0 L1046.6,385.6 L1046.9,384.1 L1047.1,382.6 L1047.4,381.1 L1047.6,379.6 L1047.8,378.1 L1048.1,376.6 L1048.3,375.1 L1048.5,373.6 L1048.8,372.2 L1049.0,370.7 L1049.2,369.2 L1049.5,367.7 L1049.7,366.2 L1049.9,364.7 L1050.2,363.2 L1050.4,361.7 L1050.7,360.3 L1050.9,358.8 L1051.1,357.3 L1051.4,355.8 L1051.6,354.3 L1051.8,352.8 L1052.1,351.3 L1052.3,349.8 L1052.6,348.4 L1052.8,346.9 L1053.0,345.4 L1053.3,343.9 L1053.5,342.4 L1053.8,340.9 L1054.0,339.4 L1054.2,337.9 L1054.5,336.5 L1054.7,335.0 L1055.0,333.5 L1055.2,332.0 L1055.5,330.5 L1055.7,329.0 L1055.9,327.5 L1056.2,326.1 L1056.4,324.6 L1056.7,323.1 L1056.9,321.6 L1057.2,320.1 L1057.5,318.6 L1057.7,317.1 L1058.0,315.7 L1058.2,314.2 L1058.5,312.7 L1058.7,311.2 L1059.0,309.7 L1059.3,308.3 L1059.5,306.8 L1059.8,305.3 L1060.0,303.8 L1060.3,302.3 L1060.6,300.9 L1060.8,299.4 L1061.1,297.9 L1061.4,296.4 L1061.7,294.9 L1061.9,293.5 L1062.2,292.0 L1062.5,290.5 L1062.8,289.0 L1063.1,287.5 L1063.3,286.1 L1063.6,284.6 L1063.9,283.1 L1064.2,281.6 L1064.5,280.2 L1064.8,278.7 L1065.1,277.2 L1065.4,275.8 L1065.7,274.3 L1066.0,272.8 L1066.3,271.3 L1066.6,269.9 L1066.9,268.4 L1067.2,266.9 L1067.5,265.5 L1067.8,264.0 L1068.1,262.5 L1068.4,261.1 L1068.8,259.6 L1069.1,258.1 L1069.4,256.7 L1069.7,255.2 L1070.1,253.7 L1070.4,252.3 L1070.7,250.8 L1071.1,249.4 L1071.4,247.9 L1071.7,246.4 L1072.1,245.0 L1072.4,243.5 L1072.8,242.1 L1073.1,240.6 L1073.5,239.1 L1073.8,237.7 L1074.2,236.2 L1074.5,234.8 L1074.9,233.3 L1075.3,231.9 L1075.6,230.4 L1076.0,229.0 L1076.4,227.5 L1076.8,226.1 L1077.2,224.6 L1077.5,223.2 L1077.9,221.7 L1078.3,220.3 L1078.7,218.8 L1079.1,217.4 L1079.5,216.0 L1079.9,214.5 L1080.3,213.1 L1080.7,211.6 L1081.1,210.2 L1081.6,208.8 L1082.0,207.3 L1082.4,205.9 L1082.8,204.4 L1083.3,203.0 L1083.7,201.6 L1084.1,200.1 L1084.6,198.7 L1085.0,197.3 L1085.5,195.8 L1085.9,194.4 L1086.4,193.0 L1086.8,191.6 L1087.3,190.1 L1087.7,188.7 L1088.2,187.3 L1088.7,185.9 L1089.2,184.4 L1089.6,183.0 L1090.1,181.6 L1090.6,180.2 L1091.1,178.7 L1091.6,177.3 L1092.0,175.9 L1092.5,174.5 L1093.0,173.1 L1093.5,171.6 L1094.0,170.2 L1094.5,168.8 L1095.0,167.3 L1095.5,165.9 L1096.0,164.5 L1096.5,163.0 L1097.0,161.6 L1097.5,160.2 L1098.0,158.7 L1098.5,157.3 L1098.9,155.8 L1099.4,154.4 L1099.9,152.9 L1100.4,151.5 L1100.9,150.0 L1101.4,148.6 L1101.9,147.1 L1102.3,145.6 L1102.8,144.2 L1103.3,142.7 L1103.8,141.3 L1104.3,139.8 L1104.8,138.4 L1105.4,136.9 L1105.9,135.5 L1106.5,134.1 L1107.0,132.8 L1107.7,131.4 L1108.3,130.1 L1109.0,128.8 L1109.7,127.5 L1110.4,126.3 L1111.2,125.1 L1112.0,123.9 L1112.8,122.8 L1113.7,121.7 L1114.7,120.7 L1115.7,119.7 L1116.7,118.8 L1117.8,117.9 L1119.0,117.1 L1120.2,116.3 L1121.5,115.6 L1122.8,115.0 L1124.2,114.4 L1125.7,113.8 L1127.1,113.2 L1128.5,112.6 L1130.0,112.0 L1131.4,111.5 L1132.9,111.0 L1134.5,110.5 L1136.1,110.1 L1137.7,109.8 L1139.3,109.5 L1140.9,109.4 L1142.4,109.4 L1143.8,109.5 L1145.2,109.8 L1146.6,110.2 L1147.8,110.6 L1149.1,111.2 L1150.2,111.8 L1151.4,112.6 L1152.5,113.4 L1153.5,114.3 L1154.5,115.3 L1155.5,116.4 L1156.4,117.5 L1157.3,118.6 L1158.2,119.8 L1159.1,121.0 L1159.9,122.3 L1160.7,123.6 L1161.5,124.9 L1162.3,126.2 L1163.1,127.6 L1163.9,128.9 L1164.6,130.2 L1165.4,131.6 L1166.1,132.9 L1166.9,134.2 L1167.6,135.6 L1168.3,136.9 L1169.1,138.3 L1169.8,139.6 L1170.5,141.0 L1171.2,142.3 L1171.9,143.7 L1172.6,145.0 L1173.3,146.4 L1173.9,147.8 L1174.6,149.1 L1175.3,150.5 L1175.9,151.8 L1176.6,153.2 L1177.2,154.6 L1177.9,155.9 L1178.5,157.3 L1179.2,158.7 L1179.8,160.0 L1180.4,161.4 L1181.0,162.8 L1181.6,164.2 L1182.3,165.5 L1182.9,166.9 L1183.5,168.3 L1184.1,169.7 L1184.6,171.1 L1185.2,172.4 L1185.8,173.8 L1186.4,175.2 L1187.0,176.6 L1187.5,178.0 L1188.1,179.4 L1188.7,180.8 L1189.2,182.2 L1189.8,183.6 L1190.3,184.9 L1190.9,186.3 L1191.4,187.7 L1192.0,189.1 L1192.5,190.5 L1193.1,191.9 L1193.6,193.3 L1194.1,194.7 L1194.7,196.1 L1195.2,197.5 L1195.7,198.9 L1196.2,200.3 L1196.8,201.7 L1197.3,203.1 L1197.8,204.5 L1198.3,205.9 L1198.8,207.4 L1199.3,208.8 L1199.8,210.2 L1200.4,211.6 L1200.9,213.0 L1201.4,214.4 L1201.9,215.8 L1202.4,217.2 L1202.9,218.6 L1203.4,220.0 L1203.9,221.5 L1204.4,222.9 L1204.9,224.3 L1205.4,225.7 L1205.9,227.1 L1206.4,228.5 L1206.9,229.9 L1207.4,231.4 L1207.9,232.8 L1208.4,234.2 L1208.9,235.6 L1209.4,237.0 L1209.9,238.4 L1210.4,239.9 L1210.9,241.3 L1211.4,242.7 L1211.9,244.1 L1212.4,245.5 L1212.9,246.9 L1213.4,248.4 L1213.9,249.8 L1214.4,251.2 L1214.9,252.6 L1215.4,254.0 L1215.9,255.4 L1216.4,256.9 L1216.9,258.3 L1217.4,259.7 L1217.9,261.1 L1218.4,262.5 L1218.9,263.9 L1219.5,265.4 L1220.0,266.8 L1220.5,268.2 L1221.0,269.6 L1221.5,271.0 L1222.0,272.4 L1222.6,273.8 L1223.1,275.3 L1223.6,276.7 L1224.1,278.1 L1224.6,279.5 L1225.2,280.9 L1225.7,282.3 L1226.2,283.7 L1226.8,285.1 L1227.3,286.5 L1227.8,287.9 L1228.4,289.3 L1228.9,290.8 L1229.5,292.2 L1230.0,293.6 L1230.6,295.0 L1231.1,296.4 L1231.7,297.8 L1232.2,299.2 L1232.8,300.6 L1233.3,302.0 L1233.9,303.4 L1234.5,304.7 L1235.0,306.1 L1235.6,307.5 L1236.2,308.9 L1236.8,310.3 L1237.3,311.7 L1237.9,313.1 L1238.5,314.5 L1239.1,315.9 L1239.7,317.2 L1240.3,318.6 L1240.9,320.0 L1241.5,321.4 L1242.1,322.8 L1242.7,324.1 L1243.3,325.5 L1243.9,326.9 L1244.5,328.3 L1245.1,329.6 L1245.7,331.0 L1246.4,332.4 L1247.0,333.7 L1247.6,335.1 L1248.3,336.4 L1248.9,337.8 L1249.5,339.2 L1250.2,340.5 L1250.8,341.9 L1251.5,343.2 L1252.2,344.6 L1252.8,345.9 L1253.5,347.2 L1254.2,348.6 L1254.8,349.9 L1255.5,351.3 L1256.2,352.6 L1256.9,353.9 L1257.6,355.3 L1258.3,356.6 L1259.0,357.9 L1259.7,359.3 L1260.4,360.6 L1261.1,361.9 L1261.8,363.2 L1262.5,364.5 L1263.3,365.8 L1264.0,367.1 L1264.7,368.5 L1265.5,369.8 L1266.2,371.1 L1267.0,372.4 L1267.7,373.7 L1268.5,375.0 L1269.3,376.2 L1270.0,377.5 L1270.8,378.8 L1271.6,380.1 L1272.4,381.4 L1273.2,382.7 L1274.0,383.9 L1274.8,385.2 L1275.6,386.5 L1276.4,387.7 L1277.2,389.0 L1278.1,390.3 L1278.9,391.5 L1279.7,392.8 L1280.6,394.0 L1281.4,395.3 L1282.3,396.5 L1283.2,397.8 L1284.0,399.0 L1284.9,400.2 L1285.8,401.5 L1286.7,402.7 L1287.6,403.9 L1288.5,405.1 L1289.4,406.3 L1290.3,407.5 L1291.2,408.7 L1292.1,409.9 L1293.1,411.1 L1294.0,412.3 L1295.0,413.4 L1295.9,414.6 L1296.9,415.8 L1297.9,416.9 L1298.9,418.0 L1299.9,419.2 L1300.9,420.3 L1301.9,421.4 L1302.9,422.5 L1303.9,423.6 L1305.0,424.7 L1306.0,425.7 L1307.1,426.8 L1308.1,427.8 L1309.2,428.9 L1310.3,429.9 L1311.4,430.9 L1312.5,431.9 L1313.6,432.9 L1314.8,433.9 L1315.9,434.9 L1317.1,435.8 L1318.2,436.7 L1319.4,437.7 L1320.6,438.6 L1321.8,439.5 L1323.0,440.4 L1324.2,441.2 L1325.4,442.1 L1326.6,442.9 L1327.9,443.8 L1329.1,444.6 L1330.4,445.4 L1331.6,446.2 L1332.9,447.0 L1334.2,447.8 L1335.5,448.6 L1336.8,449.3 L1338.1,450.1 L1339.4,450.8 L1340.7,451.6 L1342.0,452.3 L1343.4,453.0 L1344.7,453.7 L1346.0,454.4 L1347.4,455.1 L1348.7,455.8 L1350.1,456.4 L1351.4,457.1 L1352.8,457.8 L1354.2,458.4 L1355.5,459.1 L1356.9,459.7 L1358.3,460.3 L1359.6,460.9 L1361.0,461.6 L1362.4,462.2 L1363.8,462.8 L1365.2,463.4 L1366.6,464.0 L1368.0,464.6 L1369.4,465.1 L1370.8,465.7 L1372.1,466.3 L1373.5,466.8 L1374.9,467.4 L1376.3,468.0 L1377.8,468.5 L1379.2,469.0 L1380.6,469.6 L1382.0,470.1 L1383.4,470.6 L1384.8,471.1 L1386.2,471.6 L1387.6,472.1 L1389.1,472.6 L1390.5,473.1 L1391.9,473.6 L1393.3,474.0 L1394.8,474.5 L1396.2,474.9 L1397.6,475.4 L1399.1,475.8 L1400.5,476.2 L1401.9,476.6 L1403.4,477.0 L1404.8,477.4 L1406.3,477.8 L1407.7,478.2 L1409.2,478.5 L1410.6,478.9 L1412.1,479.2 L1413.5,479.6 L1415.0,479.9 L1416.5,480.2 L1417.9,480.5 L1419.4,480.8 L1420.9,481.1 L1422.3,481.4 L1423.8,481.6 L1425.3,481.9 L1426.8,482.1 L1428.3,482.3 L1429.8,482.6 L1431.3,482.8 L1432.7,482.9 L1434.2,483.1 L1435.7,483.3 L1437.2,483.4 L1438.8,483.6 L1440.3,483.7 L1441.8,483.8 L1443.3,483.9 L1444.8,484.0 L1446.3,484.1 L1447.8,484.1" fill="none" stroke="#FF0000" stroke-width="6.2" stroke-linejoin="round" stroke-linecap="butt"/>

<g>
<rect x="1276.2" y="28.4" width="178.4" height="209" fill="#FAFAC8" stroke="#A0A096" stroke-width="2.2"/>
<defs>
<linearGradient id="gG" x1="0" x2="1" y1="0" y2="0">
<stop offset="0" stop-color="#8C8C90"/><stop offset="0.18" stop-color="#B0B0B4"/><stop offset="0.5" stop-color="#A2A2A6"/><stop offset="0.85" stop-color="#96969A"/><stop offset="1" stop-color="#8E8E92"/>
</linearGradient>
<linearGradient id="gL" x1="0" x2="1" y1="0" y2="0">
<stop offset="0" stop-color="#9C8850"/><stop offset="0.5" stop-color="#B09858"/><stop offset="1" stop-color="#8E7C48"/>
</linearGradient>
<linearGradient id="gC" x1="0" x2="0" y1="0" y2="1">
<stop offset="0" stop-color="#40D0EC"/><stop offset="1" stop-color="#30B4D8"/>
</linearGradient>
</defs>

<rect x="1291.5" y="37" width="52" height="189" fill="url(#gG)"/>
<rect x="1310.6" y="124.6" width="15" height="87" fill="url(#gL)"/>
<rect x="1292" y="213" width="51" height="2.2" fill="#C8C8C8"/>
<rect x="1292" y="216" width="51" height="9" fill="#A4A4A4"/>
<rect x="1291.5" y="37" width="52" height="189" fill="none" stroke="#D8E4A0" stroke-width="1.5" stroke-dasharray="1.3 1.3"/>
<text x="1316.8" y="50.3" font-family="Liberation Sans, sans-serif" font-weight="bold" font-size="7.6" fill="#EDEDED" text-anchor="middle">Daylight</text>
<circle cx="1317" cy="63.1" r="8.4" fill="#F4F000" stroke="#3A3A10" stroke-width="1.6"/>
<path d="M1312.4,75V82.5M1317,75V82.5M1321.8,75V82.5" stroke="#D8DC40" stroke-width="1.3"/>

<rect x="1388.6" y="36.4" width="52.2" height="189.4" fill="#2A96D8"/>
<rect x="1406.8" y="120.4" width="16.8" height="93" fill="url(#gC)"/>
<rect x="1389" y="217.5" width="51.6" height="2" fill="#1E7CC0"/>
<rect x="1388.6" y="36.4" width="52.2" height="189.4" fill="none" stroke="#D8ECC8" stroke-width="1.5" stroke-dasharray="1.3 1.3"/>
<text x="1414" y="48.8" font-family="Liberation Sans, sans-serif" font-weight="bold" font-size="7.6" fill="#D8ECFA" text-anchor="middle">UV light</text>
<circle cx="1414" cy="61.4" r="8.6" fill="#A030F0" stroke="#201870" stroke-width="1.8"/>
<path d="M1409.5,74V82M1414,74V82M1418.5,74V82" stroke="#5C6EE0" stroke-width="1.2" opacity="0.7"/>
<path d="M1349.4,131.9H1376.2V128.9L1382.9,134.9L1376.2,141.1V137.8H1349.4Z" fill="#C0541E"/>
</g>

<path d="M470.0,638.8H478.8V1097.7H1113.3V1106.5" fill="none" stroke="#000" stroke-width="4.0" stroke-linejoin="round"/>
<path d="M470.0,1097.7H478.8M470.0,1040.3H478.8M470.0,983.0H478.8M470.0,925.6H478.8M470.0,868.2H478.8M470.0,810.9H478.8M470.0,753.5H478.8M470.0,696.2H478.8M470.0,638.8H478.8M474.2,1069.0H478.8M474.2,1011.7H478.8M474.2,954.3H478.8M474.2,896.9H478.8M474.2,839.6H478.8M474.2,782.2H478.8M474.2,724.8H478.8M474.2,667.5H478.8M478.8,1097.7V1106.5M584.5,1097.7V1106.5M690.3,1097.7V1106.5M796.0,1097.7V1106.5M901.8,1097.7V1106.5M1007.5,1097.7V1106.5M1113.3,1097.7V1106.5M531.7,1097.7V1102.3M637.4,1097.7V1102.3M743.2,1097.7V1102.3M848.9,1097.7V1102.3M954.7,1097.7V1102.3M1060.4,1097.7V1102.3" fill="none" stroke="#000" stroke-width="3.3"/>
<text transform="translate(463.8,1102.9) scale(1,1.07)" font-family="Liberation Sans, sans-serif" font-weight="bold" font-size="19" text-anchor="end">0</text>
<text transform="translate(463.8,1045.5) scale(1,1.07)" font-family="Liberation Sans, sans-serif" font-weight="bold" font-size="19" text-anchor="end">5</text>
<text transform="translate(463.8,988.2) scale(1,1.07)" font-family="Liberation Sans, sans-serif" font-weight="bold" font-size="19" text-anchor="end">10</text>
<text transform="translate(463.8,930.8) scale(1,1.07)" font-family="Liberation Sans, sans-serif" font-weight="bold" font-size="19" text-anchor="end">15</text>
<text transform="translate(463.8,873.5) scale(1,1.07)" font-family="Liberation Sans, sans-serif" font-weight="bold" font-size="19" text-anchor="end">20</text>
<text transform="translate(463.8,816.1) scale(1,1.07)" font-family="Liberation Sans, sans-serif" font-weight="bold" font-size="19" text-anchor="end">25</text>
<text transform="translate(463.8,758.7) scale(1,1.07)" font-family="Liberation Sans, sans-serif" font-weight="bold" font-size="19" text-anchor="end">30</text>
<text transform="translate(463.8,701.4) scale(1,1.07)" font-family="Liberation Sans, sans-serif" font-weight="bold" font-size="19" text-anchor="end">35</text>
<text transform="translate(463.8,644.0) scale(1,1.07)" font-family="Liberation Sans, sans-serif" font-weight="bold" font-size="19" text-anchor="end">40</text>
<text transform="translate(479.1,1127.0) scale(1,1.07)" font-family="Liberation Sans, sans-serif" font-weight="bold" font-size="19" text-anchor="middle">400</text>
<text transform="translate(584.8,1127.0) scale(1,1.07)" font-family="Liberation Sans, sans-serif" font-weight="bold" font-size="19" text-anchor="middle">450</text>
<text transform="translate(690.6,1127.0) scale(1,1.07)" font-family="Liberation Sans, sans-serif" font-weight="bold" font-size="19" text-anchor="middle">500</text>
<text transform="translate(796.3,1127.0) scale(1,1.07)" font-family="Liberation Sans, sans-serif" font-weight="bold" font-size="19" text-anchor="middle">550</text>
<text transform="translate(902.1,1127.0) scale(1,1.07)" font-family="Liberation Sans, sans-serif" font-weight="bold" font-size="19" text-anchor="middle">600</text>
<text transform="translate(1007.8,1127.0) scale(1,1.07)" font-family="Liberation Sans, sans-serif" font-weight="bold" font-size="19" text-anchor="middle">650</text>
<text transform="translate(1113.6,1127.0) scale(1,1.07)" font-family="Liberation Sans, sans-serif" font-weight="bold" font-size="19" text-anchor="middle">700</text>
<text transform="translate(796.7,1167.0) scale(1,1.05)" font-family="Liberation Sans, sans-serif" font-weight="bold" font-size="23.8" text-anchor="middle">Wavelength (nm)</text>
<text transform="translate(416.4,867) rotate(-90)" x="0" y="0" font-family="Liberation Sans, sans-serif" font-weight="bold" font-size="24.5" text-anchor="middle">Fluorescence Intensity (a.u.)</text>
<text x="492.3" y="664" font-family="Liberation Serif, serif" font-weight="bold" font-size="33">(c)</text>
<path d="M479.0,1085.5 L480.6,1085.8 L482.2,1085.9 L483.7,1086.0 L485.3,1085.9 L486.8,1085.8 L488.2,1085.6 L489.7,1085.3 L491.1,1084.9 L492.5,1084.5 L493.9,1084.0 L495.3,1083.4 L496.6,1082.9 L498.0,1082.3 L499.3,1081.6 L500.7,1081.0 L502.0,1080.3 L503.3,1079.6 L504.6,1078.9 L506.0,1078.2 L507.3,1077.5 L508.6,1076.8 L510.0,1076.1 L511.3,1075.5 L512.6,1074.9 L514.0,1074.3 L515.4,1073.7 L516.8,1073.1 L518.2,1072.6 L519.6,1072.1 L521.0,1071.7 L522.4,1071.2 L523.8,1070.8 L525.3,1070.4 L526.7,1070.0 L528.2,1069.7 L529.7,1069.3 L531.1,1069.0 L532.6,1068.7 L534.1,1068.4 L535.6,1068.2 L537.1,1067.9 L538.6,1067.7 L540.1,1067.4 L541.6,1067.2 L543.1,1067.0 L544.6,1066.8 L546.1,1066.6 L547.6,1066.5 L549.1,1066.3 L550.6,1066.2 L552.1,1066.0 L553.6,1065.9 L555.1,1065.7 L556.6,1065.6 L558.1,1065.5 L559.6,1065.3 L561.0,1065.2 L562.5,1065.0 L564.0,1064.8 L565.5,1064.7 L566.9,1064.5 L568.4,1064.2 L569.9,1064.0 L571.3,1063.7 L572.8,1063.4 L574.2,1063.1 L575.6,1062.8 L577.1,1062.4 L578.5,1062.1 L580.0,1061.7 L581.4,1061.3 L582.8,1060.8 L584.2,1060.4 L585.7,1060.0 L587.1,1059.5 L588.5,1059.1 L590.0,1058.7 L591.4,1058.2 L592.9,1057.8 L594.3,1057.4 L595.7,1057.0 L597.2,1056.6 L598.7,1056.2 L600.1,1055.8 L601.6,1055.5 L603.0,1055.1 L604.5,1054.8 L606.0,1054.4 L607.5,1054.1 L608.9,1053.8 L610.4,1053.5 L611.9,1053.2 L613.4,1052.9 L614.8,1052.6 L616.3,1052.4 L617.8,1052.1 L619.3,1051.8 L620.8,1051.6 L622.3,1051.4 L623.7,1051.1 L625.2,1050.9 L626.7,1050.7 L628.2,1050.5 L629.7,1050.3 L631.2,1050.1 L632.7,1050.0 L634.1,1049.8 L635.6,1049.7 L637.1,1049.6 L638.6,1049.5 L640.1,1049.4 L641.6,1049.3 L643.1,1049.2 L644.6,1049.2 L646.1,1049.1 L647.6,1049.1 L649.1,1049.1 L650.6,1049.1 L652.2,1049.1 L653.7,1049.1 L655.2,1049.1 L656.7,1049.1 L658.2,1049.1 L659.7,1049.1 L661.2,1049.2 L662.7,1049.2 L664.2,1049.2 L665.7,1049.2 L667.2,1049.3 L668.7,1049.3 L670.2,1049.4 L671.7,1049.5 L673.2,1049.6 L674.7,1049.7 L676.2,1049.8 L677.7,1050.0 L679.2,1050.1 L680.7,1050.3 L682.1,1050.6 L683.6,1050.8 L685.1,1051.1 L686.5,1051.4 L688.0,1051.7 L689.5,1052.1 L690.9,1052.4 L692.4,1052.7 L693.8,1053.1 L695.3,1053.4 L696.8,1053.7 L698.2,1054.0 L699.7,1054.3 L701.2,1054.6 L702.7,1054.8 L704.2,1055.1 L705.6,1055.3 L707.1,1055.5 L708.6,1055.7 L710.1,1055.9 L711.6,1056.1 L713.1,1056.3 L714.6,1056.4 L716.1,1056.6 L717.6,1056.7 L719.1,1056.9 L720.7,1057.1 L722.2,1057.2 L723.7,1057.4 L725.2,1057.5 L726.7,1057.7 L728.2,1057.8 L729.7,1058.0 L731.2,1058.2 L732.7,1058.4 L734.2,1058.6 L735.7,1058.8 L737.1,1059.0 L738.6,1059.2 L740.1,1059.5 L741.6,1059.7 L743.1,1060.0 L744.5,1060.3 L746.0,1060.6 L747.4,1061.0 L748.9,1061.3 L750.3,1061.7 L751.8,1062.1 L753.2,1062.5 L754.6,1063.0 L756.1,1063.4 L757.5,1063.9 L758.9,1064.4 L760.3,1064.9 L761.7,1065.4 L763.2,1065.9 L764.6,1066.4 L766.0,1066.9 L767.4,1067.4 L768.8,1067.9 L770.2,1068.4 L771.6,1069.0 L773.0,1069.5 L774.4,1070.0 L775.9,1070.4 L777.3,1070.9 L778.7,1071.4 L780.1,1071.8 L781.6,1072.3 L783.0,1072.7 L784.4,1073.1 L785.9,1073.5 L787.3,1073.8 L788.8,1074.2 L790.2,1074.5 L791.7,1074.8 L793.2,1075.1 L794.6,1075.4 L796.1,1075.6 L797.6,1075.9 L799.1,1076.1 L800.6,1076.3 L802.0,1076.5 L803.5,1076.8 L805.0,1076.9 L806.5,1077.1 L808.0,1077.3 L809.5,1077.5 L811.0,1077.7 L812.5,1077.8 L814.0,1078.0 L815.5,1078.2 L817.0,1078.3 L818.5,1078.5 L820.0,1078.7 L821.5,1078.8 L823.0,1079.0 L824.5,1079.2 L826.0,1079.3 L827.5,1079.5 L829.0,1079.7 L830.5,1079.8 L831.9,1080.0 L833.4,1080.1 L834.9,1080.3 L836.4,1080.4 L837.9,1080.6 L839.4,1080.8 L840.9,1080.9 L842.4,1081.1 L843.9,1081.2 L845.4,1081.4 L846.9,1081.5 L848.4,1081.7 L849.9,1081.8 L851.4,1082.0 L852.9,1082.1 L854.4,1082.3 L855.9,1082.4 L857.4,1082.6 L858.9,1082.7 L860.4,1082.8 L861.9,1083.0 L863.4,1083.1 L864.9,1083.3 L866.4,1083.4 L867.9,1083.5 L869.4,1083.7 L870.9,1083.8 L872.4,1084.0 L873.9,1084.1 L875.4,1084.2 L876.9,1084.4 L878.4,1084.5 L879.9,1084.6 L881.4,1084.8 L882.9,1084.9 L884.4,1085.0 L885.9,1085.1 L887.4,1085.3 L888.8,1085.4 L890.3,1085.5 L891.8,1085.7 L893.3,1085.8 L894.8,1085.9 L896.3,1086.0 L897.8,1086.1 L899.3,1086.3 L900.8,1086.4 L902.3,1086.5 L903.8,1086.6 L905.3,1086.7 L906.8,1086.9 L908.3,1087.0 L909.8,1087.1 L911.3,1087.2 L912.8,1087.3 L914.3,1087.4 L915.8,1087.5 L917.3,1087.7 L918.8,1087.8 L920.3,1087.9 L921.8,1088.0 L923.3,1088.1 L924.8,1088.2 L926.3,1088.3 L927.8,1088.4 L929.3,1088.5 L930.8,1088.6 L932.3,1088.7 L933.8,1088.8 L935.3,1088.9 L936.8,1089.0 L938.3,1089.1 L939.8,1089.2 L941.3,1089.3 L942.8,1089.4 L944.3,1089.5 L945.8,1089.6 L947.3,1089.7 L948.8,1089.8 L950.3,1089.9 L951.8,1090.0 L953.3,1090.1 L954.8,1090.2 L956.3,1090.2 L957.8,1090.3 L959.3,1090.4 L960.8,1090.5 L962.3,1090.6 L963.8,1090.7 L965.3,1090.8 L966.8,1090.8 L968.3,1090.9 L969.8,1091.0 L971.3,1091.1 L972.8,1091.2 L974.3,1091.3 L975.8,1091.3 L977.3,1091.4 L978.8,1091.5 L980.3,1091.6 L981.8,1091.6 L983.3,1091.7 L984.8,1091.8 L986.3,1091.9 L987.8,1091.9 L989.3,1092.0 L990.8,1092.1 L992.3,1092.1 L993.8,1092.2 L995.3,1092.3 L996.8,1092.3 L998.3,1092.4 L999.8,1092.5 L1001.3,1092.5 L1002.9,1092.6 L1004.4,1092.7 L1005.9,1092.7 L1007.4,1092.8 L1008.9,1092.8 L1010.4,1092.9 L1011.9,1092.9 L1013.4,1093.0 L1014.9,1093.1 L1016.4,1093.1 L1017.9,1093.2 L1019.4,1093.2 L1020.9,1093.3 L1022.4,1093.3 L1023.9,1093.4 L1025.4,1093.4 L1026.9,1093.5 L1028.4,1093.5 L1029.9,1093.6 L1031.4,1093.6 L1032.9,1093.7 L1034.4,1093.7 L1035.9,1093.8 L1037.4,1093.8 L1038.9,1093.8 L1040.4,1093.9 L1041.9,1093.9 L1043.4,1094.0 L1044.9,1094.0 L1046.4,1094.0 L1047.9,1094.1 L1049.4,1094.1 L1050.9,1094.2 L1052.4,1094.2 L1053.9,1094.2 L1055.4,1094.3 L1056.9,1094.3 L1058.5,1094.3 L1060.0,1094.3 L1061.5,1094.4 L1063.0,1094.4 L1064.5,1094.4 L1066.0,1094.5 L1067.5,1094.5 L1069.0,1094.5 L1070.5,1094.5 L1072.0,1094.6 L1073.5,1094.6 L1075.0,1094.6 L1076.5,1094.6 L1078.0,1094.6 L1079.5,1094.7 L1081.0,1094.7 L1082.5,1094.7 L1084.0,1094.7 L1085.5,1094.7 L1087.0,1094.7 L1088.5,1094.8 L1090.0,1094.8 L1091.5,1094.8 L1093.0,1094.8 L1094.6,1094.8 L1096.1,1094.8 L1097.6,1094.8 L1099.1,1094.8 L1100.6,1094.8 L1102.1,1094.9 L1103.6,1094.9 L1105.1,1094.9 L1106.6,1094.9 L1108.1,1094.9 L1109.6,1094.9 L1111.1,1094.9 L1112.6,1094.9" fill="none" stroke="#000000" stroke-width="5.5" stroke-linejoin="round" stroke-linecap="butt"/>
<path d="M479.0,1085.0 L480.6,1085.3 L482.3,1085.5 L483.9,1085.7 L485.5,1085.8 L487.0,1085.8 L488.5,1085.6 L490.0,1085.5 L491.5,1085.2 L492.9,1084.9 L494.3,1084.5 L495.7,1084.1 L497.1,1083.6 L498.4,1083.0 L499.8,1082.4 L501.1,1081.8 L502.4,1081.1 L503.7,1080.4 L505.0,1079.6 L506.3,1078.8 L507.5,1078.0 L508.8,1077.2 L510.1,1076.3 L511.3,1075.5 L512.6,1074.6 L513.8,1073.8 L515.1,1072.9 L516.3,1072.0 L517.6,1071.2 L518.9,1070.3 L520.1,1069.5 L521.4,1068.7 L522.7,1067.9 L524.0,1067.2 L525.4,1066.5 L526.7,1065.8 L528.1,1065.2 L529.4,1064.5 L530.8,1064.0 L532.2,1063.4 L533.6,1062.9 L535.0,1062.4 L536.5,1062.0 L537.9,1061.6 L539.4,1061.2 L540.8,1060.8 L542.3,1060.5 L543.7,1060.2 L545.2,1059.9 L546.7,1059.7 L548.1,1059.5 L549.6,1059.3 L551.1,1059.1 L552.6,1058.9 L554.0,1058.8 L555.5,1058.7 L557.0,1058.5 L558.4,1058.4 L559.9,1058.2 L561.4,1058.0 L562.8,1057.8 L564.2,1057.5 L565.6,1057.2 L567.1,1056.8 L568.5,1056.4 L569.8,1056.0 L571.2,1055.5 L572.6,1055.0 L574.0,1054.4 L575.4,1053.9 L576.7,1053.2 L578.1,1052.6 L579.5,1051.9 L580.8,1051.2 L582.2,1050.5 L583.5,1049.7 L584.9,1049.0 L586.2,1048.3 L587.6,1047.5 L588.9,1046.8 L590.3,1046.0 L591.6,1045.3 L593.0,1044.6 L594.3,1043.9 L595.7,1043.2 L597.1,1042.5 L598.4,1041.9 L599.8,1041.3 L601.2,1040.7 L602.6,1040.2 L604.0,1039.7 L605.4,1039.3 L606.8,1038.9 L608.2,1038.5 L609.6,1038.3 L611.1,1038.0 L612.5,1037.9 L614.0,1037.8 L615.5,1037.8 L617.0,1037.8 L618.5,1037.9 L620.0,1038.0 L621.5,1038.2 L623.0,1038.3 L624.5,1038.5 L626.0,1038.7 L627.5,1038.8 L629.0,1039.0 L630.5,1039.1 L632.0,1039.3 L633.5,1039.4 L635.0,1039.5 L636.5,1039.6 L638.0,1039.7 L639.5,1039.7 L641.0,1039.8 L642.5,1039.9 L644.0,1039.9 L645.5,1039.9 L647.0,1040.0 L648.5,1040.0 L650.0,1040.0 L651.5,1040.0 L653.0,1040.0 L654.5,1040.1 L656.0,1040.1 L657.5,1040.1 L659.0,1040.1 L660.5,1040.1 L662.0,1040.1 L663.5,1040.1 L665.0,1040.1 L666.5,1040.1 L668.0,1040.1 L669.5,1040.1 L671.0,1040.1 L672.5,1040.1 L674.0,1040.2 L675.5,1040.2 L677.1,1040.3 L678.6,1040.3 L680.1,1040.4 L681.6,1040.5 L683.1,1040.5 L684.6,1040.6 L686.1,1040.8 L687.6,1040.9 L689.1,1041.0 L690.6,1041.2 L692.1,1041.4 L693.6,1041.5 L695.1,1041.8 L696.5,1042.0 L698.0,1042.2 L699.5,1042.5 L701.0,1042.8 L702.4,1043.1 L703.9,1043.4 L705.4,1043.8 L706.8,1044.2 L708.3,1044.5 L709.7,1044.9 L711.2,1045.3 L712.6,1045.8 L714.1,1046.2 L715.5,1046.6 L716.9,1047.1 L718.4,1047.5 L719.8,1048.0 L721.3,1048.5 L722.7,1048.9 L724.1,1049.4 L725.6,1049.9 L727.0,1050.4 L728.4,1050.9 L729.9,1051.3 L731.3,1051.8 L732.7,1052.3 L734.2,1052.8 L735.6,1053.2 L737.0,1053.7 L738.5,1054.1 L739.9,1054.6 L741.3,1055.0 L742.8,1055.5 L744.2,1055.9 L745.7,1056.3 L747.1,1056.8 L748.5,1057.2 L750.0,1057.6 L751.4,1058.0 L752.9,1058.4 L754.3,1058.8 L755.8,1059.2 L757.2,1059.6 L758.7,1060.0 L760.1,1060.4 L761.6,1060.7 L763.0,1061.1 L764.5,1061.5 L765.9,1061.9 L767.4,1062.2 L768.9,1062.6 L770.3,1063.0 L771.8,1063.3 L773.2,1063.7 L774.7,1064.0 L776.1,1064.4 L777.6,1064.7 L779.1,1065.1 L780.5,1065.4 L782.0,1065.8 L783.5,1066.1 L784.9,1066.5 L786.4,1066.8 L787.9,1067.2 L789.3,1067.5 L790.8,1067.8 L792.3,1068.2 L793.7,1068.5 L795.2,1068.8 L796.7,1069.2 L798.1,1069.5 L799.6,1069.8 L801.1,1070.1 L802.5,1070.5 L804.0,1070.8 L805.5,1071.1 L807.0,1071.4 L808.4,1071.7 L809.9,1072.0 L811.4,1072.3 L812.9,1072.6 L814.3,1073.0 L815.8,1073.3 L817.3,1073.6 L818.8,1073.9 L820.3,1074.2 L821.7,1074.4 L823.2,1074.7 L824.7,1075.0 L826.2,1075.3 L827.7,1075.6 L829.1,1075.9 L830.6,1076.2 L832.1,1076.4 L833.6,1076.7 L835.1,1077.0 L836.5,1077.3 L838.0,1077.5 L839.5,1077.8 L841.0,1078.1 L842.5,1078.3 L844.0,1078.6 L845.4,1078.8 L846.9,1079.1 L848.4,1079.3 L849.9,1079.6 L851.4,1079.8 L852.9,1080.1 L854.4,1080.3 L855.8,1080.6 L857.3,1080.8 L858.8,1081.0 L860.3,1081.3 L861.8,1081.5 L863.3,1081.7 L864.8,1082.0 L866.3,1082.2 L867.7,1082.4 L869.2,1082.6 L870.7,1082.8 L872.2,1083.1 L873.7,1083.3 L875.2,1083.5 L876.7,1083.7 L878.2,1083.9 L879.7,1084.1 L881.2,1084.3 L882.6,1084.5 L884.1,1084.7 L885.6,1084.9 L887.1,1085.0 L888.6,1085.2 L890.1,1085.4 L891.6,1085.6 L893.1,1085.8 L894.6,1085.9 L896.1,1086.1 L897.6,1086.3 L899.1,1086.4 L900.6,1086.6 L902.1,1086.8 L903.6,1086.9 L905.0,1087.1 L906.5,1087.2 L908.0,1087.4 L909.5,1087.5 L911.0,1087.7 L912.5,1087.8 L914.0,1088.0 L915.5,1088.1 L917.0,1088.2 L918.5,1088.4 L920.0,1088.5 L921.5,1088.6 L923.0,1088.7 L924.5,1088.9 L926.0,1089.0 L927.5,1089.1 L929.0,1089.2 L930.5,1089.3 L932.0,1089.4 L933.5,1089.5 L935.0,1089.6 L936.5,1089.7 L938.0,1089.8 L939.5,1089.9 L941.0,1090.0 L942.5,1090.1 L944.0,1090.1 L945.5,1090.2 L947.0,1090.3 L948.5,1090.4 L950.0,1090.4 L951.5,1090.5 L953.0,1090.6 L954.5,1090.6 L956.0,1090.7 L957.6,1090.7 L959.1,1090.8 L960.6,1090.8 L962.1,1090.9 L963.6,1090.9 L965.1,1091.0 L966.6,1091.0 L968.1,1091.1 L969.6,1091.1 L971.1,1091.1 L972.6,1091.2 L974.1,1091.2 L975.6,1091.2 L977.1,1091.3 L978.6,1091.3 L980.1,1091.3 L981.6,1091.3 L983.1,1091.4 L984.6,1091.4 L986.2,1091.4 L987.7,1091.4 L989.2,1091.4 L990.7,1091.4 L992.2,1091.5 L993.7,1091.5 L995.2,1091.5 L996.7,1091.5 L998.2,1091.5 L999.7,1091.5 L1001.2,1091.5 L1002.7,1091.5 L1004.2,1091.5 L1005.7,1091.5 L1007.3,1091.6 L1008.8,1091.6 L1010.3,1091.6 L1011.8,1091.6 L1013.3,1091.6 L1014.8,1091.6 L1016.3,1091.6 L1017.8,1091.6 L1019.3,1091.6 L1020.8,1091.6 L1022.3,1091.6 L1023.8,1091.6 L1025.3,1091.6 L1026.8,1091.6 L1028.4,1091.6 L1029.9,1091.6 L1031.4,1091.6 L1032.9,1091.6 L1034.4,1091.6 L1035.9,1091.6 L1037.4,1091.6 L1038.9,1091.6 L1040.4,1091.7 L1041.9,1091.7 L1043.4,1091.7 L1044.9,1091.7 L1046.4,1091.7 L1048.0,1091.7 L1049.5,1091.7 L1051.0,1091.7 L1052.5,1091.7 L1054.0,1091.8 L1055.5,1091.8 L1057.0,1091.8 L1058.5,1091.8 L1060.0,1091.8 L1061.5,1091.9 L1063.0,1091.9 L1064.5,1091.9 L1066.0,1092.0 L1067.5,1092.0 L1069.0,1092.0 L1070.5,1092.1 L1072.0,1092.1 L1073.5,1092.1 L1075.1,1092.2 L1076.6,1092.2 L1078.1,1092.3 L1079.6,1092.3 L1081.1,1092.4 L1082.6,1092.4 L1084.1,1092.5 L1085.6,1092.5 L1087.1,1092.6 L1088.6,1092.6 L1090.1,1092.7 L1091.6,1092.8 L1093.1,1092.8 L1094.6,1092.9 L1096.1,1093.0 L1097.6,1093.1 L1099.1,1093.1 L1100.6,1093.2 L1102.1,1093.3 L1103.6,1093.4 L1105.1,1093.5 L1106.6,1093.6 L1108.1,1093.7 L1109.6,1093.8 L1111.1,1093.9 L1112.6,1094.0" fill="none" stroke="#808000" stroke-width="5.5" stroke-linejoin="round" stroke-linecap="butt"/>
<path d="M479.0,1085.5 L480.6,1085.9 L482.2,1086.2 L483.8,1086.4 L485.4,1086.5 L486.9,1086.6 L488.4,1086.6 L489.9,1086.5 L491.4,1086.3 L492.9,1086.1 L494.4,1085.8 L495.8,1085.5 L497.3,1085.1 L498.7,1084.7 L500.1,1084.3 L501.5,1083.8 L502.9,1083.2 L504.3,1082.7 L505.7,1082.1 L507.1,1081.5 L508.5,1080.9 L509.9,1080.3 L511.3,1079.7 L512.7,1079.1 L514.1,1078.5 L515.5,1077.9 L516.9,1077.3 L518.3,1076.7 L519.7,1076.2 L521.1,1075.7 L522.5,1075.2 L523.9,1074.8 L525.4,1074.4 L526.8,1074.0 L528.3,1073.7 L529.7,1073.4 L531.2,1073.1 L532.7,1072.9 L534.2,1072.7 L535.7,1072.5 L537.1,1072.4 L538.6,1072.3 L540.2,1072.2 L541.7,1072.1 L543.2,1072.1 L544.7,1072.0 L546.2,1072.0 L547.7,1072.0 L549.2,1072.0 L550.8,1072.0 L552.3,1072.0 L553.8,1072.0 L555.3,1072.0 L556.8,1072.0 L558.4,1072.1 L559.9,1072.1 L561.4,1072.1 L562.9,1072.0 L564.4,1072.0 L565.9,1071.9 L567.4,1071.8 L568.9,1071.7 L570.3,1071.5 L571.8,1071.3 L573.2,1071.0 L574.7,1070.7 L576.1,1070.4 L577.6,1070.0 L579.0,1069.6 L580.4,1069.1 L581.8,1068.7 L583.3,1068.2 L584.7,1067.7 L586.1,1067.3 L587.6,1066.9 L589.0,1066.4 L590.4,1066.1 L591.9,1065.7 L593.4,1065.4 L594.8,1065.0 L596.3,1064.8 L597.8,1064.5 L599.2,1064.3 L600.7,1064.1 L602.2,1063.9 L603.7,1063.8 L605.2,1063.6 L606.7,1063.6 L608.2,1063.5 L609.7,1063.4 L611.2,1063.4 L612.7,1063.4 L614.2,1063.4 L615.7,1063.4 L617.2,1063.5 L618.7,1063.5 L620.2,1063.5 L621.7,1063.6 L623.2,1063.7 L624.7,1063.7 L626.2,1063.8 L627.7,1063.9 L629.2,1063.9 L630.7,1064.0 L632.3,1064.1 L633.8,1064.1 L635.3,1064.1 L636.8,1064.2 L638.3,1064.2 L639.8,1064.2 L641.3,1064.1 L642.9,1064.1 L644.4,1064.0 L645.9,1064.0 L647.4,1063.9 L648.9,1063.8 L650.4,1063.6 L652.0,1063.5 L653.5,1063.4 L655.0,1063.3 L656.5,1063.2 L658.0,1063.1 L659.5,1063.0 L661.0,1062.9 L662.5,1062.8 L664.0,1062.8 L665.5,1062.8 L667.0,1062.8 L668.5,1062.8 L670.0,1062.8 L671.5,1062.9 L673.0,1062.9 L674.5,1063.0 L676.0,1063.1 L677.5,1063.2 L679.0,1063.3 L680.5,1063.5 L682.0,1063.6 L683.5,1063.8 L685.0,1064.0 L686.5,1064.2 L688.0,1064.3 L689.4,1064.6 L690.9,1064.8 L692.4,1065.0 L693.9,1065.2 L695.4,1065.5 L696.9,1065.7 L698.4,1066.0 L699.8,1066.2 L701.3,1066.5 L702.8,1066.7 L704.3,1067.0 L705.8,1067.3 L707.3,1067.6 L708.8,1067.8 L710.2,1068.1 L711.7,1068.4 L713.2,1068.7 L714.7,1069.0 L716.2,1069.3 L717.7,1069.5 L719.1,1069.8 L720.6,1070.1 L722.1,1070.4 L723.6,1070.6 L725.1,1070.9 L726.6,1071.2 L728.0,1071.4 L729.5,1071.7 L731.0,1071.9 L732.5,1072.2 L734.0,1072.4 L735.5,1072.7 L737.0,1072.9 L738.5,1073.2 L739.9,1073.4 L741.4,1073.7 L742.9,1073.9 L744.4,1074.1 L745.9,1074.4 L747.4,1074.6 L748.9,1074.8 L750.4,1075.0 L751.9,1075.3 L753.3,1075.5 L754.8,1075.7 L756.3,1075.9 L757.8,1076.1 L759.3,1076.3 L760.8,1076.6 L762.3,1076.8 L763.8,1077.0 L765.3,1077.2 L766.8,1077.4 L768.3,1077.6 L769.7,1077.8 L771.2,1077.9 L772.7,1078.1 L774.2,1078.3 L775.7,1078.5 L777.2,1078.7 L778.7,1078.9 L780.2,1079.1 L781.7,1079.2 L783.2,1079.4 L784.7,1079.6 L786.2,1079.8 L787.7,1079.9 L789.2,1080.1 L790.7,1080.3 L792.2,1080.4 L793.7,1080.6 L795.1,1080.8 L796.6,1080.9 L798.1,1081.1 L799.6,1081.2 L801.1,1081.4 L802.6,1081.5 L804.1,1081.7 L805.6,1081.8 L807.1,1082.0 L808.6,1082.1 L810.1,1082.3 L811.6,1082.4 L813.1,1082.6 L814.6,1082.7 L816.1,1082.9 L817.6,1083.0 L819.1,1083.1 L820.6,1083.3 L822.1,1083.4 L823.6,1083.5 L825.1,1083.7 L826.6,1083.8 L828.1,1083.9 L829.6,1084.0 L831.1,1084.2 L832.6,1084.3 L834.1,1084.4 L835.6,1084.5 L837.1,1084.6 L838.6,1084.8 L840.1,1084.9 L841.6,1085.0 L843.1,1085.1 L844.6,1085.2 L846.1,1085.3 L847.6,1085.4 L849.1,1085.5 L850.6,1085.6 L852.1,1085.7 L853.6,1085.8 L855.1,1086.0 L856.6,1086.1 L858.1,1086.2 L859.6,1086.3 L861.1,1086.3 L862.6,1086.4 L864.1,1086.5 L865.6,1086.6 L867.1,1086.7 L868.6,1086.8 L870.1,1086.9 L871.6,1087.0 L873.1,1087.1 L874.6,1087.2 L876.1,1087.3 L877.6,1087.3 L879.2,1087.4 L880.7,1087.5 L882.2,1087.6 L883.7,1087.7 L885.2,1087.8 L886.7,1087.8 L888.2,1087.9 L889.7,1088.0 L891.2,1088.1 L892.7,1088.1 L894.2,1088.2 L895.7,1088.3 L897.2,1088.4 L898.7,1088.4 L900.2,1088.5 L901.7,1088.6 L903.2,1088.6 L904.7,1088.7 L906.2,1088.8 L907.7,1088.8 L909.2,1088.9 L910.8,1089.0 L912.3,1089.0 L913.8,1089.1 L915.3,1089.2 L916.8,1089.2 L918.3,1089.3 L919.8,1089.3 L921.3,1089.4 L922.8,1089.5 L924.3,1089.5 L925.8,1089.6 L927.3,1089.6 L928.8,1089.7 L930.3,1089.7 L931.8,1089.8 L933.3,1089.8 L934.8,1089.9 L936.4,1090.0 L937.9,1090.0 L939.4,1090.1 L940.9,1090.1 L942.4,1090.2 L943.9,1090.2 L945.4,1090.3 L946.9,1090.3 L948.4,1090.4 L949.9,1090.4 L951.4,1090.4 L952.9,1090.5 L954.4,1090.5 L955.9,1090.6 L957.5,1090.6 L959.0,1090.7 L960.5,1090.7 L962.0,1090.8 L963.5,1090.8 L965.0,1090.8 L966.5,1090.9 L968.0,1090.9 L969.5,1091.0 L971.0,1091.0 L972.5,1091.1 L974.0,1091.1 L975.5,1091.1 L977.0,1091.2 L978.6,1091.2 L980.1,1091.3 L981.6,1091.3 L983.1,1091.3 L984.6,1091.4 L986.1,1091.4 L987.6,1091.5 L989.1,1091.5 L990.6,1091.5 L992.1,1091.6 L993.6,1091.6 L995.1,1091.6 L996.6,1091.7 L998.1,1091.7 L999.7,1091.8 L1001.2,1091.8 L1002.7,1091.8 L1004.2,1091.9 L1005.7,1091.9 L1007.2,1091.9 L1008.7,1092.0 L1010.2,1092.0 L1011.7,1092.1 L1013.2,1092.1 L1014.7,1092.1 L1016.2,1092.2 L1017.7,1092.2 L1019.3,1092.2 L1020.8,1092.3 L1022.3,1092.3 L1023.8,1092.3 L1025.3,1092.4 L1026.8,1092.4 L1028.3,1092.5 L1029.8,1092.5 L1031.3,1092.5 L1032.8,1092.6 L1034.3,1092.6 L1035.8,1092.6 L1037.3,1092.7 L1038.8,1092.7 L1040.3,1092.8 L1041.9,1092.8 L1043.4,1092.8 L1044.9,1092.9 L1046.4,1092.9 L1047.9,1093.0 L1049.4,1093.0 L1050.9,1093.0 L1052.4,1093.1 L1053.9,1093.1 L1055.4,1093.2 L1056.9,1093.2 L1058.4,1093.2 L1059.9,1093.3 L1061.4,1093.3 L1062.9,1093.4 L1064.4,1093.4 L1066.0,1093.4 L1067.5,1093.5 L1069.0,1093.5 L1070.5,1093.6 L1072.0,1093.6 L1073.5,1093.7 L1075.0,1093.7 L1076.5,1093.8 L1078.0,1093.8 L1079.5,1093.9 L1081.0,1093.9 L1082.5,1094.0 L1084.0,1094.0 L1085.5,1094.1 L1087.0,1094.1 L1088.5,1094.2 L1090.0,1094.2 L1091.5,1094.3 L1093.0,1094.3 L1094.5,1094.4 L1096.0,1094.4 L1097.6,1094.5 L1099.1,1094.5 L1100.6,1094.6 L1102.1,1094.6 L1103.6,1094.7 L1105.1,1094.8 L1106.6,1094.8 L1108.1,1094.9 L1109.6,1094.9 L1111.1,1095.0 L1112.6,1095.1" fill="none" stroke="#8000FF" stroke-width="5.5" stroke-linejoin="round" stroke-linecap="butt"/>
<path d="M479.0,1085.3 L480.5,1085.1 L482.0,1084.9 L483.4,1084.7 L484.9,1084.5 L486.4,1084.3 L487.9,1084.1 L489.4,1083.9 L490.9,1083.7 L492.4,1083.5 L493.9,1083.4 L495.4,1083.2 L496.9,1083.0 L498.4,1082.8 L499.9,1082.6 L501.4,1082.5 L502.9,1082.3 L504.4,1082.1 L505.9,1082.0 L507.4,1081.8 L508.9,1081.6 L510.4,1081.5 L511.9,1081.3 L513.4,1081.2 L514.9,1081.0 L516.4,1080.9 L517.9,1080.7 L519.3,1080.6 L520.8,1080.4 L522.3,1080.3 L523.8,1080.1 L525.3,1080.0 L526.8,1079.9 L528.3,1079.7 L529.8,1079.6 L531.3,1079.5 L532.8,1079.3 L534.3,1079.2 L535.8,1079.1 L537.3,1078.9 L538.8,1078.8 L540.3,1078.7 L541.8,1078.6 L543.3,1078.5 L544.8,1078.3 L546.3,1078.2 L547.8,1078.1 L549.3,1078.0 L550.8,1077.9 L552.3,1077.7 L553.8,1077.6 L555.3,1077.5 L556.8,1077.4 L558.3,1077.3 L559.8,1077.2 L561.3,1077.1 L562.8,1076.9 L564.3,1076.8 L565.9,1076.7 L567.4,1076.6 L568.9,1076.5 L570.4,1076.4 L571.9,1076.3 L573.4,1076.2 L574.9,1076.1 L576.4,1076.0 L577.9,1075.8 L579.4,1075.7 L580.9,1075.6 L582.4,1075.5 L583.9,1075.4 L585.4,1075.3 L586.9,1075.2 L588.4,1075.1 L589.9,1075.0 L591.4,1074.9 L592.9,1074.8 L594.4,1074.7 L595.9,1074.6 L597.4,1074.5 L598.9,1074.4 L600.4,1074.3 L601.9,1074.2 L603.4,1074.1 L604.9,1074.0 L606.4,1073.9 L607.9,1073.8 L609.4,1073.7 L610.9,1073.6 L612.4,1073.5 L613.9,1073.4 L615.5,1073.3 L617.0,1073.2 L618.5,1073.2 L620.0,1073.1 L621.5,1073.0 L623.0,1072.9 L624.5,1072.8 L626.0,1072.7 L627.5,1072.7 L629.0,1072.6 L630.5,1072.5 L632.0,1072.4 L633.5,1072.4 L635.0,1072.3 L636.5,1072.2 L638.0,1072.2 L639.5,1072.1 L641.0,1072.1 L642.5,1072.0 L644.0,1072.0 L645.5,1071.9 L647.0,1071.9 L648.6,1071.9 L650.1,1071.8 L651.6,1071.8 L653.1,1071.8 L654.6,1071.8 L656.1,1071.7 L657.6,1071.7 L659.1,1071.7 L660.6,1071.7 L662.1,1071.7 L663.6,1071.8 L665.1,1071.8 L666.6,1071.8 L668.1,1071.8 L669.6,1071.9 L671.1,1071.9 L672.6,1071.9 L674.1,1072.0 L675.6,1072.0 L677.1,1072.1 L678.6,1072.2 L680.1,1072.3 L681.6,1072.3 L683.1,1072.4 L684.6,1072.5 L686.1,1072.6 L687.6,1072.8 L689.0,1072.9 L690.5,1073.0 L692.0,1073.1 L693.5,1073.3 L695.0,1073.4 L696.5,1073.5 L698.0,1073.7 L699.5,1073.8 L701.0,1074.0 L702.5,1074.2 L704.0,1074.3 L705.5,1074.5 L707.0,1074.7 L708.5,1074.8 L710.0,1075.0 L711.5,1075.2 L712.9,1075.4 L714.4,1075.6 L715.9,1075.8 L717.4,1076.0 L718.9,1076.2 L720.4,1076.4 L721.9,1076.6 L723.4,1076.8 L724.9,1077.0 L726.4,1077.2 L727.9,1077.4 L729.3,1077.6 L730.8,1077.8 L732.3,1078.0 L733.8,1078.2 L735.3,1078.4 L736.8,1078.6 L738.3,1078.8 L739.8,1079.0 L741.3,1079.2 L742.8,1079.4 L744.3,1079.6 L745.8,1079.8 L747.3,1080.0 L748.7,1080.2 L750.2,1080.4 L751.7,1080.6 L753.2,1080.8 L754.7,1081.0 L756.2,1081.2 L757.7,1081.4 L759.2,1081.6 L760.7,1081.8 L762.2,1082.0 L763.7,1082.1 L765.2,1082.3 L766.7,1082.5 L768.2,1082.7 L769.7,1082.8 L771.2,1083.0 L772.7,1083.2 L774.2,1083.4 L775.7,1083.5 L777.2,1083.7 L778.6,1083.9 L780.1,1084.0 L781.6,1084.2 L783.1,1084.3 L784.6,1084.5 L786.1,1084.7 L787.6,1084.8 L789.1,1085.0 L790.6,1085.1 L792.1,1085.3 L793.6,1085.4 L795.1,1085.6 L796.6,1085.7 L798.1,1085.9 L799.6,1086.0 L801.1,1086.1 L802.6,1086.3 L804.1,1086.4 L805.6,1086.6 L807.1,1086.7 L808.6,1086.8 L810.1,1087.0 L811.6,1087.1 L813.1,1087.2 L814.6,1087.3 L816.1,1087.5 L817.6,1087.6 L819.1,1087.7 L820.6,1087.8 L822.1,1088.0 L823.6,1088.1 L825.1,1088.2 L826.6,1088.3 L828.1,1088.4 L829.6,1088.5 L831.1,1088.7 L832.6,1088.8 L834.1,1088.9 L835.6,1089.0 L837.1,1089.1 L838.6,1089.2 L840.1,1089.3 L841.6,1089.4 L843.1,1089.5 L844.6,1089.6 L846.1,1089.7 L847.6,1089.8 L849.1,1089.9 L850.7,1090.0 L852.2,1090.1 L853.7,1090.2 L855.2,1090.3 L856.7,1090.4 L858.2,1090.4 L859.7,1090.5 L861.2,1090.6 L862.7,1090.7 L864.2,1090.8 L865.7,1090.9 L867.2,1091.0 L868.7,1091.0 L870.2,1091.1 L871.7,1091.2 L873.2,1091.3 L874.7,1091.3 L876.2,1091.4 L877.7,1091.5 L879.2,1091.6 L880.7,1091.6 L882.2,1091.7 L883.7,1091.8 L885.2,1091.8 L886.7,1091.9 L888.2,1092.0 L889.7,1092.0 L891.3,1092.1 L892.8,1092.2 L894.3,1092.2 L895.8,1092.3 L897.3,1092.3 L898.8,1092.4 L900.3,1092.5 L901.8,1092.5 L903.3,1092.6 L904.8,1092.6 L906.3,1092.7 L907.8,1092.7 L909.3,1092.8 L910.8,1092.8 L912.3,1092.9 L913.8,1092.9 L915.3,1093.0 L916.8,1093.0 L918.3,1093.1 L919.8,1093.1 L921.4,1093.2 L922.9,1093.2 L924.4,1093.3 L925.9,1093.3 L927.4,1093.4 L928.9,1093.4 L930.4,1093.4 L931.9,1093.5 L933.4,1093.5 L934.9,1093.6 L936.4,1093.6 L937.9,1093.6 L939.4,1093.7 L940.9,1093.7 L942.4,1093.8 L943.9,1093.8 L945.4,1093.8 L947.0,1093.9 L948.5,1093.9 L950.0,1093.9 L951.5,1094.0 L953.0,1094.0 L954.5,1094.0 L956.0,1094.1 L957.5,1094.1 L959.0,1094.1 L960.5,1094.1 L962.0,1094.2 L963.5,1094.2 L965.0,1094.2 L966.5,1094.3 L968.0,1094.3 L969.5,1094.3 L971.1,1094.3 L972.6,1094.4 L974.1,1094.4 L975.6,1094.4 L977.1,1094.4 L978.6,1094.5 L980.1,1094.5 L981.6,1094.5 L983.1,1094.5 L984.6,1094.6 L986.1,1094.6 L987.6,1094.6 L989.1,1094.6 L990.6,1094.7 L992.1,1094.7 L993.6,1094.7 L995.2,1094.7 L996.7,1094.7 L998.2,1094.8 L999.7,1094.8 L1001.2,1094.8 L1002.7,1094.8 L1004.2,1094.9 L1005.7,1094.9 L1007.2,1094.9 L1008.7,1094.9 L1010.2,1094.9 L1011.7,1095.0 L1013.2,1095.0 L1014.7,1095.0 L1016.2,1095.0 L1017.8,1095.0 L1019.3,1095.1 L1020.8,1095.1 L1022.3,1095.1 L1023.8,1095.1 L1025.3,1095.1 L1026.8,1095.2 L1028.3,1095.2 L1029.8,1095.2 L1031.3,1095.2 L1032.8,1095.2 L1034.3,1095.3 L1035.8,1095.3 L1037.3,1095.3 L1038.8,1095.3 L1040.3,1095.3 L1041.9,1095.4 L1043.4,1095.4 L1044.9,1095.4 L1046.4,1095.4 L1047.9,1095.4 L1049.4,1095.5 L1050.9,1095.5 L1052.4,1095.5 L1053.9,1095.5 L1055.4,1095.6 L1056.9,1095.6 L1058.4,1095.6 L1059.9,1095.6 L1061.4,1095.6 L1062.9,1095.7 L1064.4,1095.7 L1065.9,1095.7 L1067.4,1095.7 L1069.0,1095.8 L1070.5,1095.8 L1072.0,1095.8 L1073.5,1095.8 L1075.0,1095.9 L1076.5,1095.9 L1078.0,1095.9 L1079.5,1095.9 L1081.0,1096.0 L1082.5,1096.0 L1084.0,1096.0 L1085.5,1096.1 L1087.0,1096.1 L1088.5,1096.1 L1090.0,1096.1 L1091.5,1096.2 L1093.0,1096.2 L1094.5,1096.2 L1096.0,1096.3 L1097.5,1096.3 L1099.1,1096.3 L1100.6,1096.4 L1102.1,1096.4 L1103.6,1096.4 L1105.1,1096.5 L1106.6,1096.5 L1108.1,1096.6 L1109.6,1096.6 L1111.1,1096.6 L1112.6,1096.7" fill="none" stroke="#FF8000" stroke-width="5.5" stroke-linejoin="round" stroke-linecap="butt"/>
<path d="M478.9,1082.6 L480.3,1081.8 L481.7,1081.0 L483.0,1080.2 L484.3,1079.3 L485.6,1078.4 L486.8,1077.5 L488.0,1076.6 L489.1,1075.6 L490.2,1074.6 L491.3,1073.6 L492.4,1072.5 L493.4,1071.4 L494.4,1070.3 L495.3,1069.2 L496.2,1068.1 L497.1,1066.9 L498.0,1065.7 L498.9,1064.5 L499.7,1063.3 L500.5,1062.1 L501.2,1060.8 L502.0,1059.5 L502.7,1058.2 L503.4,1056.9 L504.1,1055.6 L504.8,1054.3 L505.4,1052.9 L506.0,1051.6 L506.6,1050.2 L507.2,1048.8 L507.8,1047.4 L508.4,1046.0 L508.9,1044.6 L509.4,1043.2 L510.0,1041.8 L510.5,1040.3 L511.0,1038.9 L511.5,1037.5 L512.0,1036.0 L512.5,1034.6 L512.9,1033.1 L513.4,1031.6 L513.9,1030.2 L514.3,1028.7 L514.8,1027.3 L515.2,1025.8 L515.7,1024.4 L516.2,1022.9 L516.6,1021.5 L517.1,1020.0 L517.5,1018.6 L518.0,1017.2 L518.5,1015.7 L518.9,1014.3 L519.4,1012.9 L519.9,1011.5 L520.3,1010.1 L520.8,1008.6 L521.3,1007.2 L521.8,1005.8 L522.3,1004.4 L522.7,1003.0 L523.2,1001.6 L523.7,1000.2 L524.2,998.8 L524.7,997.4 L525.2,996.0 L525.7,994.6 L526.1,993.2 L526.6,991.8 L527.1,990.4 L527.6,988.9 L528.1,987.5 L528.6,986.1 L529.1,984.7 L529.6,983.3 L530.1,981.9 L530.6,980.4 L531.1,979.0 L531.6,977.6 L532.1,976.1 L532.6,974.7 L533.1,973.3 L533.6,971.8 L534.1,970.4 L534.7,969.0 L535.2,967.6 L535.8,966.2 L536.4,964.8 L537.1,963.5 L537.7,962.1 L538.5,960.8 L539.2,959.5 L540.0,958.3 L540.9,957.0 L541.8,955.8 L542.7,954.7 L543.6,953.5 L544.6,952.4 L545.6,951.2 L546.6,950.1 L547.7,949.0 L548.7,947.9 L549.8,946.9 L550.8,945.8 L551.9,944.7 L552.9,943.6 L553.9,942.5 L554.9,941.4 L555.9,940.3 L556.9,939.2 L557.9,938.0 L558.9,936.9 L559.8,935.7 L560.7,934.6 L561.6,933.4 L562.5,932.2 L563.4,931.0 L564.2,929.8 L565.1,928.5 L565.9,927.3 L566.7,926.0 L567.5,924.8 L568.2,923.5 L569.0,922.2 L569.7,920.9 L570.4,919.5 L571.2,918.2 L571.9,916.9 L572.6,915.5 L573.2,914.2 L573.9,912.8 L574.6,911.4 L575.3,910.1 L575.9,908.7 L576.6,907.3 L577.2,905.9 L577.9,904.5 L578.5,903.2 L579.2,901.8 L579.8,900.4 L580.5,899.0 L581.1,897.6 L581.8,896.2 L582.4,894.9 L583.1,893.5 L583.7,892.1 L584.4,890.8 L585.1,889.4 L585.8,888.1 L586.5,886.7 L587.2,885.4 L587.9,884.1 L588.6,882.8 L589.4,881.5 L590.1,880.2 L590.9,878.9 L591.7,877.6 L592.5,876.4 L593.3,875.1 L594.2,873.9 L595.0,872.7 L595.9,871.5 L596.8,870.4 L597.7,869.2 L598.7,868.1 L599.6,866.9 L600.6,865.8 L601.6,864.8 L602.6,863.7 L603.7,862.7 L604.7,861.6 L605.8,860.6 L606.9,859.6 L608.0,858.7 L609.2,857.7 L610.3,856.8 L611.5,855.8 L612.7,854.9 L613.9,854.1 L615.1,853.2 L616.4,852.4 L617.6,851.5 L618.9,850.7 L620.2,849.9 L621.5,849.2 L622.8,848.4 L624.1,847.7 L625.5,847.0 L626.9,846.3 L628.2,845.6 L629.6,845.0 L631.0,844.3 L632.4,843.7 L633.8,843.1 L635.3,842.6 L636.7,842.0 L638.1,841.5 L639.6,840.9 L641.0,840.4 L642.5,840.0 L644.0,839.5 L645.4,839.1 L646.9,838.6 L648.3,838.2 L649.8,837.9 L651.3,837.5 L652.7,837.2 L654.2,836.9 L655.6,836.6 L657.0,836.3 L658.5,836.1 L659.9,835.9 L661.3,835.7 L662.7,835.7 L664.1,835.7 L665.5,835.8 L666.9,836.0 L668.3,836.3 L669.7,836.7 L671.0,837.1 L672.4,837.7 L673.7,838.3 L675.0,838.9 L676.4,839.6 L677.7,840.3 L679.0,841.1 L680.3,841.9 L681.6,842.8 L682.9,843.7 L684.2,844.6 L685.4,845.4 L686.7,846.3 L688.0,847.2 L689.2,848.1 L690.5,849.0 L691.8,849.9 L693.0,850.7 L694.2,851.6 L695.5,852.4 L696.7,853.3 L697.9,854.1 L699.1,855.0 L700.2,855.9 L701.4,856.8 L702.5,857.7 L703.7,858.7 L704.8,859.7 L705.9,860.7 L707.0,861.7 L708.0,862.7 L709.1,863.7 L710.2,864.8 L711.2,865.9 L712.3,866.9 L713.3,868.0 L714.3,869.1 L715.3,870.2 L716.4,871.3 L717.4,872.4 L718.4,873.5 L719.4,874.7 L720.4,875.8 L721.4,876.9 L722.4,878.0 L723.5,879.1 L724.5,880.2 L725.5,881.4 L726.5,882.5 L727.5,883.6 L728.5,884.7 L729.5,885.8 L730.5,887.0 L731.5,888.1 L732.5,889.2 L733.5,890.4 L734.4,891.5 L735.4,892.6 L736.4,893.8 L737.3,894.9 L738.3,896.1 L739.2,897.3 L740.2,898.4 L741.1,899.6 L742.0,900.8 L742.9,902.0 L743.8,903.2 L744.7,904.4 L745.6,905.6 L746.5,906.8 L747.3,908.0 L748.2,909.2 L749.1,910.4 L750.0,911.6 L750.9,912.8 L751.8,914.0 L752.7,915.2 L753.6,916.3 L754.5,917.5 L755.5,918.7 L756.4,919.8 L757.4,921.0 L758.4,922.1 L759.3,923.3 L760.3,924.4 L761.4,925.5 L762.4,926.6 L763.4,927.7 L764.4,928.8 L765.4,929.9 L766.4,931.0 L767.5,932.1 L768.5,933.2 L769.5,934.4 L770.4,935.5 L771.4,936.7 L772.4,937.8 L773.3,939.0 L774.3,940.1 L775.2,941.3 L776.2,942.5 L777.1,943.7 L778.0,944.8 L779.0,946.0 L779.9,947.2 L780.8,948.4 L781.8,949.6 L782.7,950.8 L783.6,951.9 L784.5,953.1 L785.5,954.3 L786.4,955.5 L787.4,956.6 L788.3,957.8 L789.3,959.0 L790.2,960.1 L791.2,961.2 L792.2,962.4 L793.2,963.5 L794.2,964.6 L795.2,965.7 L796.2,966.8 L797.3,967.9 L798.3,969.0 L799.4,970.0 L800.4,971.1 L801.5,972.1 L802.6,973.2 L803.6,974.2 L804.7,975.2 L805.8,976.3 L806.9,977.3 L808.0,978.3 L809.1,979.3 L810.3,980.3 L811.4,981.3 L812.5,982.3 L813.6,983.3 L814.8,984.3 L815.9,985.3 L817.1,986.3 L818.2,987.2 L819.4,988.2 L820.5,989.2 L821.7,990.2 L822.8,991.1 L824.0,992.1 L825.1,993.1 L826.3,994.1 L827.4,995.0 L828.6,996.0 L829.7,997.0 L830.9,998.0 L832.0,998.9 L833.2,999.9 L834.3,1000.9 L835.5,1001.8 L836.6,1002.8 L837.8,1003.8 L838.9,1004.8 L840.1,1005.7 L841.2,1006.7 L842.4,1007.7 L843.5,1008.6 L844.7,1009.6 L845.9,1010.5 L847.0,1011.5 L848.2,1012.4 L849.4,1013.3 L850.6,1014.3 L851.7,1015.2 L852.9,1016.1 L854.1,1017.0 L855.3,1017.9 L856.5,1018.8 L857.7,1019.7 L858.9,1020.6 L860.1,1021.4 L861.4,1022.3 L862.6,1023.2 L863.8,1024.0 L865.0,1024.8 L866.3,1025.6 L867.5,1026.5 L868.8,1027.3 L870.1,1028.0 L871.3,1028.8 L872.6,1029.6 L873.9,1030.4 L875.2,1031.1 L876.5,1031.8 L877.8,1032.6 L879.1,1033.3 L880.4,1034.0 L881.8,1034.7 L883.1,1035.4 L884.4,1036.1 L885.8,1036.8 L887.1,1037.4 L888.4,1038.1 L889.8,1038.7 L891.1,1039.4 L892.5,1040.0 L893.9,1040.7 L895.2,1041.3 L896.6,1041.9 L898.0,1042.5 L899.4,1043.1 L900.8,1043.7 L902.1,1044.3 L903.5,1044.9 L904.9,1045.5 L906.3,1046.0 L907.7,1046.6 L909.1,1047.2 L910.5,1047.7 L911.9,1048.3 L913.3,1048.8 L914.8,1049.4 L916.2,1049.9 L917.6,1050.4 L919.0,1051.0 L920.4,1051.5 L921.8,1052.0 L923.2,1052.5 L924.7,1053.0 L926.1,1053.6 L927.5,1054.1 L928.9,1054.6 L930.4,1055.1 L931.8,1055.6 L933.2,1056.1 L934.6,1056.6 L936.1,1057.1 L937.5,1057.5 L938.9,1058.0 L940.3,1058.5 L941.8,1059.0 L943.2,1059.5 L944.6,1059.9 L946.1,1060.4 L947.5,1060.9 L948.9,1061.4 L950.4,1061.8 L951.8,1062.3 L953.2,1062.7 L954.7,1063.2 L956.1,1063.6 L957.5,1064.1 L959.0,1064.5 L960.4,1065.0 L961.8,1065.4 L963.3,1065.8 L964.7,1066.3 L966.2,1066.7 L967.6,1067.1 L969.0,1067.5 L970.5,1067.9 L971.9,1068.3 L973.4,1068.8 L974.8,1069.2 L976.3,1069.6 L977.7,1070.0 L979.2,1070.4 L980.6,1070.7 L982.1,1071.1 L983.5,1071.5 L985.0,1071.9 L986.4,1072.3 L987.9,1072.6 L989.3,1073.0 L990.8,1073.4 L992.2,1073.7 L993.7,1074.1 L995.1,1074.5 L996.6,1074.8 L998.0,1075.2 L999.5,1075.5 L1000.9,1075.8 L1002.4,1076.2 L1003.9,1076.5 L1005.3,1076.8 L1006.8,1077.2 L1008.3,1077.5 L1009.7,1077.8 L1011.2,1078.1 L1012.6,1078.4 L1014.1,1078.7 L1015.6,1079.0 L1017.0,1079.3 L1018.5,1079.6 L1020.0,1079.9 L1021.4,1080.2 L1022.9,1080.5 L1024.4,1080.7 L1025.9,1081.0 L1027.3,1081.3 L1028.8,1081.5 L1030.3,1081.8 L1031.7,1082.0 L1033.2,1082.3 L1034.7,1082.5 L1036.2,1082.8 L1037.7,1083.0 L1039.1,1083.2 L1040.6,1083.5 L1042.1,1083.7 L1043.6,1083.9 L1045.1,1084.1 L1046.5,1084.3 L1048.0,1084.5 L1049.5,1084.7 L1051.0,1084.9 L1052.5,1085.1 L1054.0,1085.3 L1055.5,1085.5 L1056.9,1085.7 L1058.4,1085.9 L1059.9,1086.0 L1061.4,1086.2 L1062.9,1086.4 L1064.4,1086.5 L1065.9,1086.7 L1067.4,1086.8 L1068.9,1086.9 L1070.4,1087.1 L1071.9,1087.2 L1073.4,1087.3 L1074.9,1087.5 L1076.4,1087.6 L1077.9,1087.7 L1079.4,1087.8 L1080.9,1087.9 L1082.4,1088.0 L1083.9,1088.1 L1085.4,1088.2 L1086.9,1088.3 L1088.4,1088.3 L1089.9,1088.4 L1091.4,1088.5 L1092.9,1088.5 L1094.5,1088.6 L1096.0,1088.6 L1097.5,1088.7 L1099.0,1088.7 L1100.5,1088.8 L1102.0,1088.8 L1103.5,1088.8 L1105.1,1088.8 L1106.6,1088.9 L1108.1,1088.9 L1109.6,1088.9 L1111.1,1088.9 L1112.7,1088.9" fill="none" stroke="#008000" stroke-width="5.5" stroke-linejoin="round" stroke-linecap="butt"/>
<path d="M478.8,1085.3 L480.6,1085.7 L482.3,1086.1 L484.1,1086.4 L485.8,1086.6 L487.4,1086.7 L489.0,1086.8 L490.5,1086.7 L491.9,1086.5 L493.2,1086.2 L494.4,1085.8 L495.5,1085.3 L496.5,1084.6 L497.4,1083.8 L498.1,1082.9 L498.8,1081.8 L499.3,1080.7 L499.8,1079.4 L500.1,1078.1 L500.5,1076.6 L500.7,1075.2 L500.9,1073.7 L501.1,1072.1 L501.3,1070.6 L501.5,1069.0 L501.6,1067.5 L501.8,1065.9 L502.0,1064.4 L502.2,1062.9 L502.4,1061.3 L502.6,1059.8 L502.9,1058.3 L503.1,1056.8 L503.3,1055.3 L503.5,1053.8 L503.8,1052.3 L504.0,1050.8 L504.3,1049.3 L504.5,1047.8 L504.8,1046.4 L505.0,1044.9 L505.3,1043.4 L505.6,1041.9 L505.8,1040.4 L506.1,1038.9 L506.4,1037.4 L506.7,1036.0 L506.9,1034.5 L507.2,1033.0 L507.5,1031.5 L507.8,1030.0 L508.1,1028.6 L508.4,1027.1 L508.7,1025.6 L509.0,1024.1 L509.3,1022.7 L509.6,1021.2 L509.9,1019.7 L510.2,1018.3 L510.5,1016.8 L510.8,1015.3 L511.1,1013.9 L511.4,1012.4 L511.8,1010.9 L512.1,1009.4 L512.4,1008.0 L512.7,1006.5 L513.0,1005.0 L513.3,1003.6 L513.7,1002.1 L514.0,1000.6 L514.3,999.2 L514.6,997.7 L514.9,996.3 L515.3,994.8 L515.6,993.3 L515.9,991.9 L516.2,990.4 L516.6,988.9 L516.9,987.5 L517.2,986.0 L517.5,984.5 L517.8,983.1 L518.2,981.6 L518.5,980.1 L518.8,978.7 L519.1,977.2 L519.4,975.7 L519.8,974.3 L520.1,972.8 L520.4,971.3 L520.7,969.9 L521.0,968.4 L521.3,966.9 L521.7,965.5 L522.0,964.0 L522.3,962.5 L522.6,961.1 L522.9,959.6 L523.2,958.1 L523.5,956.7 L523.9,955.2 L524.2,953.7 L524.5,952.3 L524.8,950.8 L525.1,949.3 L525.4,947.9 L525.7,946.4 L526.1,944.9 L526.4,943.4 L526.7,942.0 L527.0,940.5 L527.3,939.0 L527.7,937.6 L528.0,936.1 L528.3,934.6 L528.6,933.2 L528.9,931.7 L529.3,930.2 L529.6,928.8 L529.9,927.3 L530.2,925.8 L530.5,924.4 L530.9,922.9 L531.2,921.4 L531.5,919.9 L531.9,918.5 L532.2,917.0 L532.5,915.5 L532.9,914.1 L533.2,912.6 L533.5,911.1 L533.9,909.7 L534.2,908.2 L534.6,906.7 L534.9,905.3 L535.2,903.8 L535.6,902.3 L535.9,900.9 L536.3,899.4 L536.6,897.9 L537.0,896.5 L537.3,895.0 L537.7,893.6 L538.1,892.1 L538.4,890.6 L538.8,889.2 L539.2,887.7 L539.6,886.3 L540.0,884.8 L540.4,883.4 L540.8,881.9 L541.2,880.5 L541.7,879.1 L542.2,877.6 L542.6,876.2 L543.2,874.8 L543.7,873.4 L544.2,872.0 L544.8,870.7 L545.4,869.3 L546.0,867.9 L546.7,866.6 L547.4,865.3 L548.1,864.0 L548.8,862.7 L549.6,861.4 L550.4,860.1 L551.2,858.8 L552.0,857.5 L552.8,856.3 L553.6,855.0 L554.5,853.7 L555.3,852.4 L556.1,851.2 L556.9,849.9 L557.8,848.6 L558.5,847.3 L559.3,846.0 L560.1,844.7 L560.8,843.4 L561.5,842.1 L562.2,840.7 L562.8,839.4 L563.5,838.0 L564.1,836.6 L564.7,835.3 L565.3,833.9 L565.9,832.5 L566.4,831.1 L566.9,829.7 L567.5,828.2 L568.0,826.8 L568.5,825.4 L569.0,824.0 L569.5,822.5 L569.9,821.1 L570.4,819.7 L570.9,818.2 L571.3,816.8 L571.8,815.4 L572.2,813.9 L572.6,812.5 L573.1,811.1 L573.5,809.6 L574.0,808.2 L574.4,806.8 L574.9,805.4 L575.3,804.0 L575.8,802.5 L576.2,801.1 L576.7,799.7 L577.1,798.3 L577.6,796.9 L578.1,795.5 L578.5,794.1 L579.0,792.7 L579.4,791.3 L579.9,789.9 L580.3,788.4 L580.8,787.0 L581.3,785.6 L581.7,784.2 L582.2,782.8 L582.6,781.3 L583.1,779.9 L583.5,778.5 L584.0,777.0 L584.4,775.6 L584.9,774.1 L585.3,772.7 L585.8,771.2 L586.2,769.8 L586.7,768.3 L587.1,766.8 L587.6,765.4 L588.1,763.9 L588.5,762.5 L589.0,761.0 L589.5,759.5 L590.0,758.1 L590.5,756.7 L591.0,755.2 L591.6,753.8 L592.1,752.4 L592.7,750.9 L593.2,749.5 L593.8,748.1 L594.4,746.8 L595.0,745.4 L595.7,744.0 L596.3,742.7 L597.0,741.3 L597.7,740.0 L598.4,738.7 L599.1,737.4 L599.9,736.1 L600.7,734.9 L601.5,733.7 L602.3,732.4 L603.2,731.2 L604.1,730.1 L605.0,728.9 L605.9,727.8 L606.9,726.7 L607.9,725.6 L608.9,724.5 L610.0,723.5 L611.1,722.5 L612.2,721.5 L613.3,720.5 L614.5,719.6 L615.6,718.6 L616.8,717.7 L618.0,716.8 L619.3,716.0 L620.5,715.1 L621.8,714.3 L623.0,713.5 L624.3,712.7 L625.6,711.9 L626.9,711.1 L628.2,710.3 L629.6,709.6 L630.9,708.9 L632.2,708.2 L633.6,707.5 L634.9,706.8 L636.3,706.1 L637.7,705.4 L639.0,704.8 L640.4,704.1 L641.8,703.5 L643.2,702.9 L644.6,702.3 L646.0,701.7 L647.4,701.1 L648.8,700.6 L650.2,700.2 L651.6,699.8 L653.0,699.5 L654.4,699.3 L655.9,699.2 L657.3,699.2 L658.8,699.3 L660.2,699.5 L661.7,699.9 L663.2,700.3 L664.6,700.8 L666.1,701.3 L667.5,702.0 L668.9,702.6 L670.3,703.3 L671.6,704.1 L672.9,704.8 L674.2,705.6 L675.5,706.4 L676.7,707.3 L678.0,708.1 L679.2,709.0 L680.3,709.9 L681.5,710.9 L682.6,711.8 L683.7,712.8 L684.8,713.8 L685.8,714.8 L686.9,715.9 L687.9,717.0 L688.9,718.0 L689.9,719.1 L690.9,720.3 L691.8,721.4 L692.8,722.5 L693.7,723.7 L694.6,724.9 L695.5,726.1 L696.4,727.3 L697.3,728.5 L698.1,729.7 L699.0,731.0 L699.8,732.2 L700.6,733.5 L701.5,734.7 L702.3,736.0 L703.1,737.3 L703.9,738.6 L704.7,739.9 L705.4,741.2 L706.2,742.5 L707.0,743.8 L707.8,745.1 L708.5,746.4 L709.3,747.8 L710.0,749.1 L710.8,750.4 L711.6,751.7 L712.3,753.0 L713.1,754.4 L713.8,755.7 L714.6,757.0 L715.4,758.3 L716.1,759.6 L716.9,760.9 L717.7,762.2 L718.4,763.5 L719.2,764.8 L720.0,766.1 L720.7,767.4 L721.5,768.7 L722.3,770.0 L723.1,771.3 L723.8,772.6 L724.6,773.9 L725.4,775.2 L726.1,776.5 L726.9,777.8 L727.7,779.0 L728.5,780.3 L729.2,781.6 L730.0,782.9 L730.8,784.2 L731.5,785.5 L732.3,786.8 L733.1,788.0 L733.8,789.3 L734.6,790.6 L735.4,791.9 L736.1,793.2 L736.9,794.5 L737.6,795.8 L738.4,797.1 L739.1,798.3 L739.9,799.6 L740.6,800.9 L741.4,802.2 L742.1,803.5 L742.9,804.8 L743.6,806.1 L744.4,807.4 L745.1,808.7 L745.8,810.0 L746.6,811.3 L747.3,812.6 L748.0,813.9 L748.8,815.2 L749.5,816.5 L750.2,817.9 L750.9,819.2 L751.6,820.5 L752.3,821.8 L753.0,823.1 L753.7,824.5 L754.4,825.8 L755.1,827.1 L755.8,828.4 L756.5,829.8 L757.2,831.1 L757.9,832.4 L758.6,833.8 L759.3,835.1 L760.0,836.5 L760.7,837.8 L761.3,839.1 L762.0,840.5 L762.7,841.8 L763.4,843.2 L764.1,844.5 L764.7,845.8 L765.4,847.2 L766.1,848.5 L766.8,849.9 L767.5,851.2 L768.1,852.6 L768.8,853.9 L769.5,855.3 L770.2,856.6 L770.8,857.9 L771.5,859.3 L772.2,860.6 L772.9,862.0 L773.6,863.3 L774.2,864.7 L774.9,866.0 L775.6,867.4 L776.3,868.7 L777.0,870.0 L777.6,871.4 L778.3,872.7 L779.0,874.1 L779.7,875.4 L780.4,876.7 L781.1,878.1 L781.8,879.4 L782.5,880.7 L783.2,882.1 L783.9,883.4 L784.6,884.7 L785.3,886.1 L786.0,887.4 L786.7,888.7 L787.5,890.0 L788.2,891.3 L788.9,892.7 L789.6,894.0 L790.4,895.3 L791.1,896.6 L791.8,897.9 L792.6,899.2 L793.3,900.5 L794.1,901.8 L794.8,903.1 L795.6,904.4 L796.3,905.7 L797.1,907.0 L797.9,908.3 L798.6,909.6 L799.4,910.9 L800.2,912.1 L801.0,913.4 L801.8,914.7 L802.6,916.0 L803.4,917.2 L804.2,918.5 L805.0,919.8 L805.8,921.0 L806.6,922.3 L807.5,923.5 L808.3,924.7 L809.1,926.0 L810.0,927.2 L810.8,928.5 L811.7,929.7 L812.6,930.9 L813.4,932.1 L814.3,933.4 L815.2,934.6 L816.1,935.8 L817.0,937.0 L817.8,938.2 L818.7,939.4 L819.6,940.6 L820.5,941.8 L821.5,943.0 L822.4,944.2 L823.3,945.4 L824.2,946.6 L825.1,947.8 L826.0,948.9 L827.0,950.1 L827.9,951.3 L828.8,952.5 L829.8,953.7 L830.7,954.9 L831.6,956.0 L832.6,957.2 L833.5,958.4 L834.4,959.6 L835.4,960.7 L836.3,961.9 L837.3,963.1 L838.2,964.2 L839.2,965.4 L840.1,966.6 L841.1,967.7 L842.0,968.9 L843.0,970.1 L844.0,971.2 L844.9,972.4 L845.9,973.5 L846.9,974.7 L847.8,975.8 L848.8,977.0 L849.8,978.1 L850.8,979.2 L851.7,980.4 L852.7,981.5 L853.7,982.7 L854.7,983.8 L855.7,984.9 L856.7,986.0 L857.7,987.2 L858.7,988.3 L859.7,989.4 L860.7,990.5 L861.7,991.6 L862.7,992.7 L863.7,993.8 L864.7,994.9 L865.8,996.0 L866.8,997.1 L867.8,998.2 L868.9,999.3 L869.9,1000.4 L871.0,1001.4 L872.0,1002.5 L873.1,1003.5 L874.2,1004.6 L875.2,1005.6 L876.3,1006.6 L877.4,1007.7 L878.5,1008.7 L879.6,1009.7 L880.7,1010.7 L881.8,1011.7 L883.0,1012.6 L884.1,1013.6 L885.3,1014.6 L886.4,1015.5 L887.6,1016.4 L888.8,1017.4 L889.9,1018.3 L891.1,1019.2 L892.3,1020.1 L893.5,1021.0 L894.7,1021.9 L896.0,1022.7 L897.2,1023.6 L898.4,1024.4 L899.7,1025.3 L900.9,1026.1 L902.2,1026.9 L903.4,1027.8 L904.7,1028.6 L905.9,1029.4 L907.2,1030.2 L908.5,1031.0 L909.8,1031.8 L911.1,1032.5 L912.4,1033.3 L913.7,1034.1 L915.0,1034.8 L916.3,1035.6 L917.6,1036.3 L918.9,1037.1 L920.2,1037.8 L921.5,1038.5 L922.9,1039.3 L924.2,1040.0 L925.5,1040.7 L926.9,1041.4 L928.2,1042.1 L929.5,1042.8 L930.9,1043.5 L932.2,1044.2 L933.5,1044.9 L934.9,1045.6 L936.2,1046.2 L937.6,1046.9 L938.9,1047.6 L940.3,1048.3 L941.6,1048.9 L943.0,1049.6 L944.4,1050.2 L945.7,1050.9 L947.1,1051.5 L948.4,1052.1 L949.8,1052.8 L951.2,1053.4 L952.6,1054.0 L953.9,1054.7 L955.3,1055.3 L956.7,1055.9 L958.1,1056.5 L959.4,1057.1 L960.8,1057.7 L962.2,1058.3 L963.6,1058.8 L965.0,1059.4 L966.4,1060.0 L967.8,1060.6 L969.2,1061.1 L970.5,1061.7 L971.9,1062.3 L973.3,1062.8 L974.7,1063.3 L976.1,1063.9 L977.5,1064.4 L979.0,1065.0 L980.4,1065.5 L981.8,1066.0 L983.2,1066.5 L984.6,1067.0 L986.0,1067.5 L987.4,1068.0 L988.8,1068.5 L990.3,1069.0 L991.7,1069.5 L993.1,1070.0 L994.5,1070.4 L996.0,1070.9 L997.4,1071.4 L998.8,1071.8 L1000.2,1072.3 L1001.7,1072.7 L1003.1,1073.2 L1004.5,1073.6 L1006.0,1074.0 L1007.4,1074.5 L1008.9,1074.9 L1010.3,1075.3 L1011.7,1075.7 L1013.2,1076.1 L1014.6,1076.5 L1016.1,1076.9 L1017.5,1077.3 L1019.0,1077.7 L1020.4,1078.1 L1021.9,1078.4 L1023.3,1078.8 L1024.8,1079.2 L1026.2,1079.5 L1027.7,1079.9 L1029.2,1080.2 L1030.6,1080.5 L1032.1,1080.9 L1033.5,1081.2 L1035.0,1081.5 L1036.5,1081.8 L1037.9,1082.2 L1039.4,1082.5 L1040.9,1082.8 L1042.4,1083.0 L1043.8,1083.3 L1045.3,1083.6 L1046.8,1083.9 L1048.2,1084.2 L1049.7,1084.4 L1051.2,1084.7 L1052.7,1084.9 L1054.2,1085.2 L1055.6,1085.4 L1057.1,1085.6 L1058.6,1085.9 L1060.1,1086.1 L1061.6,1086.3 L1063.1,1086.5 L1064.6,1086.7 L1066.0,1086.9 L1067.5,1087.1 L1069.0,1087.3 L1070.5,1087.5 L1072.0,1087.7 L1073.5,1087.8 L1075.0,1088.0 L1076.5,1088.1 L1078.0,1088.3 L1079.5,1088.4 L1081.0,1088.6 L1082.5,1088.7 L1084.0,1088.8 L1085.5,1088.9 L1087.0,1089.0 L1088.5,1089.2 L1090.0,1089.3 L1091.5,1089.3 L1093.0,1089.4 L1094.5,1089.5 L1096.0,1089.6 L1097.5,1089.7 L1099.1,1089.7 L1100.6,1089.8 L1102.1,1089.8 L1103.6,1089.9 L1105.1,1089.9 L1106.6,1089.9 L1108.1,1089.9 L1109.6,1090.0 L1111.2,1090.0 L1112.7,1090.0" fill="none" stroke="#800000" stroke-width="5.5" stroke-linejoin="round" stroke-linecap="butt"/>
<path d="M479.0,1085.5 L480.5,1084.8 L482.0,1084.3 L483.5,1084.1 L485.0,1084.0 L486.6,1084.1 L488.1,1084.3 L489.7,1084.6 L491.2,1085.0 L492.7,1085.4 L494.2,1085.8 L495.7,1086.2 L497.2,1086.5 L498.6,1086.7 L500.0,1086.8 L501.4,1086.8 L502.7,1086.7 L503.9,1086.3 L505.1,1085.7 L506.3,1085.0 L507.5,1084.2 L508.6,1083.2 L509.7,1082.2 L510.8,1081.1 L512.0,1080.1 L513.1,1079.0 L514.2,1078.0 L515.4,1076.9 L516.5,1075.9 L517.7,1075.0 L518.9,1074.1 L520.1,1073.2 L521.3,1072.3 L522.6,1071.5 L523.9,1070.7 L525.1,1069.9 L526.5,1069.2 L527.8,1068.6 L529.2,1067.9 L530.5,1067.4 L532.0,1066.8 L533.4,1066.3 L534.9,1065.9 L536.4,1065.5 L537.9,1065.1 L539.4,1064.8 L540.9,1064.4 L542.4,1064.1 L543.9,1063.7 L545.4,1063.4 L546.9,1063.0 L548.3,1062.6 L549.8,1062.1 L551.2,1061.6 L552.5,1061.1 L553.8,1060.5 L555.1,1059.8 L556.3,1059.0 L557.5,1058.1 L558.5,1057.2 L559.6,1056.1 L560.6,1055.0 L561.5,1053.9 L562.5,1052.7 L563.4,1051.5 L564.3,1050.3 L565.2,1049.0 L566.1,1047.8 L567.0,1046.6 L567.9,1045.3 L568.7,1044.1 L569.6,1042.8 L570.5,1041.6 L571.4,1040.3 L572.2,1039.0 L573.1,1037.8 L573.9,1036.5 L574.7,1035.2 L575.6,1033.9 L576.4,1032.7 L577.2,1031.4 L578.0,1030.1 L578.8,1028.9 L579.6,1027.6 L580.4,1026.3 L581.2,1025.0 L581.9,1023.7 L582.7,1022.5 L583.5,1021.2 L584.3,1019.9 L585.0,1018.6 L585.8,1017.3 L586.5,1016.1 L587.3,1014.8 L588.0,1013.5 L588.8,1012.2 L589.5,1010.9 L590.3,1009.7 L591.0,1008.4 L591.8,1007.1 L592.5,1005.8 L593.3,1004.5 L594.0,1003.2 L594.7,1002.0 L595.5,1000.7 L596.2,999.4 L597.0,998.1 L597.7,996.8 L598.5,995.5 L599.2,994.2 L600.0,993.0 L600.8,991.7 L601.5,990.4 L602.3,989.1 L603.1,987.8 L603.8,986.5 L604.6,985.3 L605.4,984.0 L606.2,982.7 L607.0,981.4 L607.8,980.1 L608.6,978.8 L609.4,977.6 L610.2,976.3 L611.1,975.0 L611.9,973.7 L612.7,972.4 L613.6,971.2 L614.5,969.9 L615.3,968.6 L616.2,967.3 L617.1,966.1 L618.0,964.8 L618.9,963.6 L619.9,962.3 L620.8,961.1 L621.7,959.9 L622.7,958.7 L623.7,957.5 L624.7,956.4 L625.7,955.2 L626.7,954.1 L627.8,953.0 L628.8,951.9 L629.9,950.9 L631.0,949.9 L632.1,948.9 L633.3,947.9 L634.4,947.0 L635.6,946.1 L636.8,945.2 L638.0,944.4 L639.3,943.6 L640.5,942.9 L641.8,942.2 L643.1,941.5 L644.4,940.9 L645.8,940.3 L647.1,939.7 L648.5,939.2 L649.9,938.7 L651.3,938.2 L652.7,937.7 L654.1,937.3 L655.6,937.0 L657.0,936.6 L658.5,936.3 L659.9,936.0 L661.4,935.8 L662.9,935.6 L664.4,935.4 L665.9,935.2 L667.4,935.1 L668.9,935.0 L670.4,934.9 L672.0,934.8 L673.5,934.8 L675.0,934.8 L676.5,934.8 L678.0,934.9 L679.6,934.9 L681.1,935.0 L682.6,935.1 L684.1,935.3 L685.6,935.4 L687.1,935.6 L688.6,935.8 L690.1,936.1 L691.6,936.3 L693.1,936.6 L694.6,936.9 L696.0,937.2 L697.5,937.5 L699.0,937.8 L700.4,938.2 L701.9,938.6 L703.3,938.9 L704.7,939.3 L706.2,939.7 L707.6,940.2 L709.0,940.6 L710.5,941.0 L711.9,941.5 L713.3,941.9 L714.7,942.4 L716.2,942.8 L717.6,943.3 L719.0,943.8 L720.4,944.3 L721.8,944.7 L723.3,945.2 L724.7,945.7 L726.1,946.2 L727.5,946.7 L729.0,947.1 L730.4,947.6 L731.8,948.1 L733.3,948.5 L734.7,949.0 L736.2,949.5 L737.6,949.9 L739.1,950.4 L740.5,950.8 L741.9,951.3 L743.4,951.8 L744.8,952.3 L746.2,952.8 L747.6,953.3 L749.0,953.9 L750.4,954.5 L751.7,955.1 L753.0,955.8 L754.4,956.5 L755.6,957.2 L756.9,958.0 L758.1,958.9 L759.3,959.7 L760.5,960.6 L761.7,961.6 L762.9,962.5 L764.0,963.5 L765.1,964.5 L766.3,965.5 L767.4,966.6 L768.5,967.6 L769.6,968.7 L770.7,969.7 L771.8,970.7 L773.0,971.7 L774.1,972.8 L775.3,973.7 L776.4,974.7 L777.6,975.7 L778.8,976.6 L780.1,977.4 L781.3,978.3 L782.6,979.1 L783.9,979.8 L785.2,980.6 L786.5,981.3 L787.8,982.1 L789.1,982.8 L790.5,983.5 L791.8,984.3 L793.1,985.0 L794.4,985.8 L795.7,986.6 L796.9,987.4 L798.2,988.2 L799.5,989.0 L800.7,989.8 L801.9,990.7 L803.2,991.5 L804.4,992.4 L805.6,993.3 L806.8,994.2 L808.0,995.1 L809.2,996.0 L810.4,996.9 L811.6,997.8 L812.8,998.8 L814.0,999.7 L815.2,1000.6 L816.3,1001.6 L817.5,1002.5 L818.7,1003.5 L819.9,1004.4 L821.0,1005.4 L822.2,1006.3 L823.3,1007.3 L824.5,1008.2 L825.7,1009.2 L826.8,1010.2 L828.0,1011.1 L829.2,1012.1 L830.3,1013.0 L831.5,1014.0 L832.7,1014.9 L833.8,1015.9 L835.0,1016.8 L836.2,1017.7 L837.4,1018.7 L838.6,1019.6 L839.7,1020.5 L840.9,1021.4 L842.1,1022.3 L843.3,1023.2 L844.6,1024.1 L845.8,1024.9 L847.0,1025.8 L848.2,1026.6 L849.5,1027.5 L850.7,1028.3 L852.0,1029.1 L853.3,1029.9 L854.5,1030.7 L855.8,1031.5 L857.1,1032.2 L858.4,1033.0 L859.7,1033.7 L861.0,1034.5 L862.3,1035.2 L863.6,1035.9 L864.9,1036.6 L866.3,1037.3 L867.6,1038.0 L868.9,1038.7 L870.3,1039.4 L871.6,1040.0 L873.0,1040.7 L874.3,1041.3 L875.7,1042.0 L877.1,1042.6 L878.4,1043.2 L879.8,1043.8 L881.2,1044.4 L882.6,1045.0 L883.9,1045.6 L885.3,1046.2 L886.7,1046.8 L888.1,1047.4 L889.5,1048.0 L890.9,1048.6 L892.3,1049.1 L893.7,1049.7 L895.1,1050.2 L896.5,1050.8 L897.9,1051.3 L899.3,1051.9 L900.7,1052.4 L902.1,1053.0 L903.5,1053.5 L904.9,1054.1 L906.4,1054.6 L907.8,1055.1 L909.2,1055.6 L910.6,1056.2 L912.0,1056.7 L913.4,1057.2 L914.8,1057.7 L916.3,1058.2 L917.7,1058.7 L919.1,1059.2 L920.5,1059.7 L921.9,1060.2 L923.3,1060.7 L924.8,1061.2 L926.2,1061.7 L927.6,1062.2 L929.0,1062.7 L930.5,1063.1 L931.9,1063.6 L933.3,1064.1 L934.7,1064.6 L936.2,1065.0 L937.6,1065.5 L939.0,1065.9 L940.5,1066.4 L941.9,1066.8 L943.3,1067.2 L944.8,1067.7 L946.2,1068.1 L947.7,1068.5 L949.1,1068.9 L950.5,1069.4 L952.0,1069.8 L953.4,1070.2 L954.9,1070.6 L956.3,1071.0 L957.8,1071.3 L959.2,1071.7 L960.7,1072.1 L962.1,1072.5 L963.6,1072.9 L965.0,1073.2 L966.5,1073.6 L968.0,1073.9 L969.4,1074.3 L970.9,1074.6 L972.3,1075.0 L973.8,1075.3 L975.3,1075.6 L976.7,1076.0 L978.2,1076.3 L979.7,1076.6 L981.1,1076.9 L982.6,1077.2 L984.1,1077.5 L985.5,1077.8 L987.0,1078.1 L988.5,1078.4 L990.0,1078.7 L991.4,1079.0 L992.9,1079.3 L994.4,1079.6 L995.9,1079.8 L997.4,1080.1 L998.8,1080.4 L1000.3,1080.6 L1001.8,1080.9 L1003.3,1081.1 L1004.8,1081.4 L1006.3,1081.6 L1007.7,1081.9 L1009.2,1082.1 L1010.7,1082.3 L1012.2,1082.6 L1013.7,1082.8 L1015.2,1083.0 L1016.7,1083.2 L1018.2,1083.4 L1019.7,1083.7 L1021.1,1083.9 L1022.6,1084.1 L1024.1,1084.3 L1025.6,1084.5 L1027.1,1084.7 L1028.6,1084.8 L1030.1,1085.0 L1031.6,1085.2 L1033.1,1085.4 L1034.6,1085.6 L1036.1,1085.7 L1037.6,1085.9 L1039.1,1086.1 L1040.6,1086.2 L1042.1,1086.4 L1043.6,1086.6 L1045.1,1086.7 L1046.6,1086.9 L1048.1,1087.0 L1049.6,1087.2 L1051.1,1087.3 L1052.6,1087.4 L1054.1,1087.6 L1055.6,1087.7 L1057.1,1087.8 L1058.6,1088.0 L1060.1,1088.1 L1061.6,1088.2 L1063.1,1088.3 L1064.6,1088.5 L1066.1,1088.6 L1067.6,1088.7 L1069.1,1088.8 L1070.6,1088.9 L1072.1,1089.0 L1073.6,1089.1 L1075.1,1089.2 L1076.6,1089.3 L1078.1,1089.4 L1079.6,1089.5 L1081.1,1089.6 L1082.6,1089.7 L1084.1,1089.8 L1085.6,1089.8 L1087.1,1089.9 L1088.6,1090.0 L1090.1,1090.1 L1091.6,1090.1 L1093.1,1090.2 L1094.6,1090.3 L1096.1,1090.4 L1097.6,1090.4 L1099.1,1090.5 L1100.6,1090.5 L1102.1,1090.6 L1103.6,1090.7 L1105.1,1090.7 L1106.6,1090.8 L1108.1,1090.8 L1109.6,1090.9 L1111.1,1090.9 L1112.6,1091.0" fill="none" stroke="#800080" stroke-width="5.5" stroke-linejoin="round" stroke-linecap="butt"/>
<path d="M584.0,1066.7 L585.5,1066.0 L587.0,1065.4 L588.4,1064.7 L589.8,1064.1 L591.2,1063.4 L592.6,1062.6 L593.9,1061.9 L595.2,1061.1 L596.5,1060.3 L597.8,1059.5 L599.0,1058.6 L600.2,1057.8 L601.4,1056.9 L602.6,1056.0 L603.8,1055.1 L604.9,1054.1 L606.1,1053.2 L607.2,1052.2 L608.3,1051.2 L609.3,1050.2 L610.4,1049.2 L611.4,1048.1 L612.5,1047.0 L613.5,1046.0 L614.5,1044.9 L615.5,1043.8 L616.4,1042.7 L617.4,1041.5 L618.3,1040.4 L619.3,1039.2 L620.2,1038.0 L621.1,1036.9 L622.0,1035.7 L622.9,1034.5 L623.8,1033.2 L624.7,1032.0 L625.5,1030.8 L626.4,1029.5 L627.3,1028.3 L628.1,1027.0 L629.0,1025.8 L629.8,1024.5 L630.7,1023.2 L631.5,1022.0 L632.3,1020.7 L633.2,1019.4 L634.0,1018.1 L634.9,1016.8 L635.7,1015.6 L636.6,1014.3 L637.4,1013.0 L638.3,1011.7 L639.1,1010.5 L640.0,1009.2 L640.9,1007.9 L641.8,1006.7 L642.6,1005.4 L643.5,1004.2 L644.5,1003.0 L645.4,1001.7 L646.3,1000.5 L647.2,999.3 L648.2,998.1 L649.2,997.0 L650.1,995.8 L651.1,994.6 L652.1,993.5 L653.2,992.4 L654.2,991.3 L655.3,990.2 L656.4,989.1 L657.4,988.1 L658.6,987.0 L659.7,986.0 L660.8,985.0 L662.0,984.1 L663.2,983.1 L664.4,982.2 L665.6,981.3 L666.8,980.5 L668.1,979.6 L669.3,978.8 L670.6,978.0 L671.9,977.3 L673.2,976.6 L674.5,975.9 L675.8,975.2 L677.2,974.6 L678.5,974.1 L679.9,973.5 L681.3,973.0 L682.7,972.5 L684.1,972.1 L685.5,971.7 L686.9,971.4 L688.3,971.0 L689.8,970.8 L691.2,970.5 L692.7,970.3 L694.1,970.1 L695.6,970.0 L697.1,969.9 L698.6,969.8 L700.0,969.8 L701.5,969.8 L703.0,969.9 L704.4,969.9 L705.9,970.1 L707.4,970.2 L708.8,970.4 L710.3,970.6 L711.7,970.8 L713.2,971.1 L714.6,971.4 L716.0,971.8 L717.5,972.1 L718.9,972.5 L720.3,973.0 L721.7,973.4 L723.1,973.9 L724.5,974.4 L725.9,974.9 L727.3,975.5 L728.7,976.1 L730.1,976.6 L731.5,977.3 L732.8,977.9 L734.2,978.5 L735.6,979.2 L736.9,979.9 L738.3,980.6 L739.7,981.3 L741.0,982.0 L742.4,982.8 L743.7,983.5 L745.0,984.3 L746.4,985.0 L747.7,985.8 L749.1,986.6 L750.4,987.4 L751.7,988.2 L753.0,989.0 L754.4,989.8 L755.7,990.6 L757.0,991.4 L758.3,992.2 L759.6,993.0 L760.9,993.8 L762.2,994.6 L763.5,995.4 L764.8,996.2 L766.1,997.0 L767.4,997.8 L768.7,998.6 L770.0,999.4 L771.3,1000.2 L772.6,1001.0 L773.9,1001.8 L775.2,1002.6 L776.5,1003.4 L777.8,1004.2 L779.1,1005.0 L780.4,1005.8 L781.7,1006.6 L783.0,1007.4 L784.3,1008.2 L785.5,1009.0 L786.8,1009.8 L788.1,1010.6 L789.4,1011.3 L790.7,1012.1 L792.0,1012.9 L793.3,1013.7 L794.6,1014.4 L795.8,1015.2 L797.1,1016.0 L798.4,1016.7 L799.7,1017.5 L801.0,1018.3 L802.3,1019.0 L803.6,1019.8 L804.9,1020.5 L806.2,1021.3 L807.5,1022.0 L808.8,1022.7 L810.1,1023.5 L811.4,1024.2 L812.7,1024.9 L814.0,1025.6 L815.3,1026.4 L816.6,1027.1 L817.9,1027.8 L819.2,1028.5 L820.5,1029.2 L821.8,1029.9 L823.1,1030.6 L824.5,1031.3 L825.8,1031.9 L827.1,1032.6 L828.4,1033.3 L829.8,1034.0 L831.1,1034.6 L832.4,1035.3 L833.8,1035.9 L835.1,1036.6 L836.4,1037.2 L837.8,1037.9 L839.1,1038.5 L840.5,1039.1 L841.8,1039.7 L843.2,1040.3 L844.6,1040.9 L845.9,1041.5 L847.3,1042.1 L848.7,1042.7 L850.1,1043.3 L851.4,1043.9 L852.8,1044.4 L854.2,1045.0 L855.6,1045.5 L857.0,1046.1 L858.4,1046.6 L859.8,1047.2 L861.2,1047.7 L862.6,1048.2 L864.1,1048.7 L865.5,1049.3 L866.9,1049.8 L868.3,1050.3 L869.7,1050.8 L871.2,1051.3 L872.6,1051.7 L874.0,1052.2 L875.5,1052.7 L876.9,1053.2 L878.3,1053.7 L879.8,1054.1 L881.2,1054.6 L882.7,1055.0 L884.1,1055.5 L885.6,1055.9 L887.0,1056.4 L888.4,1056.8 L889.9,1057.2 L891.4,1057.7 L892.8,1058.1 L894.3,1058.5 L895.7,1058.9 L897.2,1059.4 L898.6,1059.8 L900.1,1060.2 L901.6,1060.6 L903.0,1061.0 L904.5,1061.4 L905.9,1061.8 L907.4,1062.2 L908.9,1062.6 L910.3,1063.0 L911.8,1063.3 L913.2,1063.7 L914.7,1064.1 L916.2,1064.5 L917.6,1064.8 L919.1,1065.2 L920.6,1065.6 L922.0,1065.9 L923.5,1066.3 L925.0,1066.7 L926.4,1067.0 L927.9,1067.4 L929.4,1067.7 L930.8,1068.1 L932.3,1068.4 L933.8,1068.7 L935.2,1069.1 L936.7,1069.4 L938.2,1069.7 L939.6,1070.1 L941.1,1070.4 L942.6,1070.7 L944.0,1071.0 L945.5,1071.4 L947.0,1071.7 L948.5,1072.0 L949.9,1072.3 L951.4,1072.6 L952.9,1072.9 L954.3,1073.2 L955.8,1073.5 L957.3,1073.8 L958.8,1074.1 L960.2,1074.4 L961.7,1074.7 L963.2,1075.0 L964.7,1075.2 L966.1,1075.5 L967.6,1075.8 L969.1,1076.1 L970.6,1076.3 L972.1,1076.6 L973.5,1076.9 L975.0,1077.1 L976.5,1077.4 L978.0,1077.6 L979.4,1077.9 L980.9,1078.2 L982.4,1078.4 L983.9,1078.7 L985.4,1078.9 L986.9,1079.1 L988.3,1079.4 L989.8,1079.6 L991.3,1079.8 L992.8,1080.1 L994.3,1080.3 L995.7,1080.5 L997.2,1080.8 L998.7,1081.0 L1000.2,1081.2 L1001.7,1081.4 L1003.2,1081.6 L1004.7,1081.8 L1006.1,1082.0 L1007.6,1082.3 L1009.1,1082.5 L1010.6,1082.7 L1012.1,1082.9 L1013.6,1083.1 L1015.1,1083.3 L1016.6,1083.4 L1018.1,1083.6 L1019.5,1083.8 L1021.0,1084.0 L1022.5,1084.2 L1024.0,1084.4 L1025.5,1084.5 L1027.0,1084.7 L1028.5,1084.9 L1030.0,1085.1 L1031.5,1085.2 L1033.0,1085.4 L1034.5,1085.6 L1036.0,1085.7 L1037.4,1085.9 L1038.9,1086.0 L1040.4,1086.2 L1041.9,1086.3 L1043.4,1086.5 L1044.9,1086.6 L1046.4,1086.8 L1047.9,1086.9 L1049.4,1087.1 L1050.9,1087.2 L1052.4,1087.3 L1053.9,1087.5 L1055.4,1087.6 L1056.9,1087.7 L1058.4,1087.9 L1059.9,1088.0 L1061.4,1088.1 L1062.9,1088.2 L1064.4,1088.3 L1065.9,1088.5 L1067.4,1088.6 L1068.9,1088.7 L1070.4,1088.8 L1071.9,1088.9 L1073.4,1089.0 L1074.9,1089.1 L1076.4,1089.2 L1077.9,1089.3 L1079.4,1089.4 L1080.9,1089.5 L1082.5,1089.6 L1084.0,1089.7 L1085.5,1089.8 L1087.0,1089.9 L1088.5,1090.0 L1090.0,1090.0 L1091.5,1090.1 L1093.0,1090.2 L1094.5,1090.3 L1096.0,1090.3 L1097.5,1090.4 L1099.0,1090.5 L1100.5,1090.6 L1102.1,1090.6 L1103.6,1090.7 L1105.1,1090.8 L1106.6,1090.8 L1108.1,1090.9 L1109.6,1090.9 L1111.1,1091.0 L1112.6,1091.0" fill="none" stroke="#FF0080" stroke-width="5.5" stroke-linejoin="round" stroke-linecap="butt"/>
<path d="M627.9,1067.2 L628.9,1066.1 L630.0,1065.1 L631.0,1064.0 L632.1,1062.9 L633.1,1061.9 L634.2,1060.8 L635.3,1059.8 L636.4,1058.7 L637.5,1057.7 L638.6,1056.7 L639.7,1055.6 L640.8,1054.6 L641.9,1053.6 L643.1,1052.6 L644.2,1051.5 L645.4,1050.5 L646.5,1049.5 L647.7,1048.6 L648.8,1047.6 L650.0,1046.6 L651.2,1045.7 L652.4,1044.7 L653.6,1043.8 L654.8,1042.9 L656.0,1042.0 L657.3,1041.1 L658.5,1040.2 L659.7,1039.3 L661.0,1038.5 L662.3,1037.7 L663.5,1036.9 L664.8,1036.1 L666.1,1035.3 L667.4,1034.5 L668.7,1033.8 L670.0,1033.1 L671.3,1032.4 L672.7,1031.7 L674.0,1031.0 L675.4,1030.4 L676.7,1029.7 L678.1,1029.1 L679.4,1028.6 L680.8,1028.0 L682.2,1027.4 L683.6,1026.9 L685.0,1026.4 L686.4,1025.9 L687.8,1025.5 L689.2,1025.0 L690.7,1024.6 L692.1,1024.2 L693.5,1023.9 L695.0,1023.5 L696.4,1023.2 L697.9,1022.9 L699.3,1022.6 L700.8,1022.3 L702.2,1022.1 L703.7,1021.9 L705.2,1021.7 L706.7,1021.5 L708.1,1021.4 L709.6,1021.2 L711.1,1021.1 L712.6,1021.0 L714.1,1021.0 L715.6,1020.9 L717.1,1020.9 L718.6,1020.9 L720.1,1020.9 L721.6,1020.9 L723.1,1020.9 L724.6,1021.0 L726.1,1021.1 L727.6,1021.2 L729.1,1021.3 L730.6,1021.4 L732.1,1021.5 L733.6,1021.7 L735.1,1021.9 L736.6,1022.0 L738.2,1022.2 L739.7,1022.5 L741.2,1022.7 L742.7,1022.9 L744.2,1023.2 L745.7,1023.4 L747.2,1023.7 L748.7,1024.0 L750.1,1024.3 L751.6,1024.6 L753.1,1024.9 L754.6,1025.3 L756.1,1025.6 L757.6,1026.0 L759.0,1026.4 L760.5,1026.7 L762.0,1027.1 L763.4,1027.5 L764.9,1027.9 L766.3,1028.3 L767.8,1028.7 L769.2,1029.2 L770.7,1029.6 L772.1,1030.0 L773.6,1030.5 L775.0,1030.9 L776.4,1031.4 L777.9,1031.8 L779.3,1032.3 L780.7,1032.8 L782.2,1033.3 L783.6,1033.7 L785.0,1034.2 L786.4,1034.7 L787.9,1035.2 L789.3,1035.7 L790.7,1036.2 L792.1,1036.7 L793.6,1037.2 L795.0,1037.6 L796.4,1038.1 L797.8,1038.6 L799.2,1039.1 L800.7,1039.6 L802.1,1040.1 L803.5,1040.6 L804.9,1041.1 L806.3,1041.6 L807.8,1042.1 L809.2,1042.6 L810.6,1043.1 L812.0,1043.6 L813.4,1044.1 L814.9,1044.6 L816.3,1045.1 L817.7,1045.5 L819.1,1046.0 L820.5,1046.5 L822.0,1047.0 L823.4,1047.5 L824.8,1047.9 L826.2,1048.4 L827.7,1048.9 L829.1,1049.4 L830.5,1049.8 L832.0,1050.3 L833.4,1050.8 L834.8,1051.2 L836.2,1051.7 L837.7,1052.1 L839.1,1052.6 L840.5,1053.0 L842.0,1053.5 L843.4,1053.9 L844.8,1054.4 L846.3,1054.8 L847.7,1055.2 L849.1,1055.6 L850.6,1056.1 L852.0,1056.5 L853.5,1056.9 L854.9,1057.3 L856.3,1057.7 L857.8,1058.1 L859.2,1058.5 L860.7,1058.9 L862.1,1059.3 L863.6,1059.7 L865.0,1060.1 L866.5,1060.5 L867.9,1060.8 L869.4,1061.2 L870.8,1061.5 L872.3,1061.9 L873.8,1062.3 L875.2,1062.6 L876.7,1062.9 L878.1,1063.3 L879.6,1063.6 L881.1,1063.9 L882.5,1064.2 L884.0,1064.5 L885.5,1064.8 L887.0,1065.1 L888.4,1065.4 L889.9,1065.7 L891.4,1066.0 L892.9,1066.3 L894.3,1066.6 L895.8,1066.8 L897.3,1067.1 L898.8,1067.4 L900.3,1067.6 L901.7,1067.9 L903.2,1068.1 L904.7,1068.4 L906.2,1068.6 L907.7,1068.9 L909.2,1069.1 L910.7,1069.3 L912.1,1069.6 L913.6,1069.8 L915.1,1070.0 L916.6,1070.2 L918.1,1070.5 L919.6,1070.7 L921.1,1070.9 L922.6,1071.1 L924.1,1071.3 L925.6,1071.5 L927.1,1071.7 L928.6,1072.0 L930.1,1072.2 L931.5,1072.4 L933.0,1072.6 L934.5,1072.8 L936.0,1073.0 L937.5,1073.2 L939.0,1073.4 L940.5,1073.6 L942.0,1073.8 L943.5,1074.0 L945.0,1074.2 L946.5,1074.4 L948.0,1074.6 L949.5,1074.8 L951.0,1075.0 L952.5,1075.2 L954.0,1075.4 L955.5,1075.6 L957.0,1075.8 L958.4,1076.0 L959.9,1076.2 L961.4,1076.4 L962.9,1076.6 L964.4,1076.8 L965.9,1077.0 L967.4,1077.2 L968.9,1077.4 L970.4,1077.6 L971.9,1077.8 L973.4,1078.0 L974.9,1078.2 L976.4,1078.4 L977.8,1078.6 L979.3,1078.8 L980.8,1079.0 L982.3,1079.2 L983.8,1079.4 L985.3,1079.6 L986.8,1079.8 L988.3,1080.0 L989.8,1080.2 L991.3,1080.4 L992.8,1080.6 L994.3,1080.8 L995.7,1081.0 L997.2,1081.1 L998.7,1081.3 L1000.2,1081.5 L1001.7,1081.7 L1003.2,1081.9 L1004.7,1082.1 L1006.2,1082.3 L1007.7,1082.5 L1009.2,1082.6 L1010.7,1082.8 L1012.2,1083.0 L1013.7,1083.2 L1015.1,1083.4 L1016.6,1083.5 L1018.1,1083.7 L1019.6,1083.9 L1021.1,1084.0 L1022.6,1084.2 L1024.1,1084.4 L1025.6,1084.6 L1027.1,1084.7 L1028.6,1084.9 L1030.1,1085.1 L1031.6,1085.2 L1033.1,1085.4 L1034.6,1085.5 L1036.1,1085.7 L1037.5,1085.9 L1039.0,1086.0 L1040.5,1086.2 L1042.0,1086.3 L1043.5,1086.5 L1045.0,1086.6 L1046.5,1086.8 L1048.0,1086.9 L1049.5,1087.0 L1051.0,1087.2 L1052.5,1087.3 L1054.0,1087.5 L1055.5,1087.6 L1057.0,1087.7 L1058.5,1087.9 L1060.0,1088.0 L1061.5,1088.1 L1063.0,1088.2 L1064.5,1088.4 L1066.0,1088.5 L1067.5,1088.6 L1069.0,1088.7 L1070.5,1088.8 L1072.0,1088.9 L1073.5,1089.1 L1075.0,1089.2 L1076.5,1089.3 L1078.0,1089.4 L1079.5,1089.5 L1081.0,1089.6 L1082.5,1089.7 L1084.0,1089.8 L1085.5,1089.8 L1087.0,1089.9 L1088.5,1090.0 L1090.0,1090.1 L1091.5,1090.2 L1093.0,1090.3 L1094.5,1090.3 L1096.0,1090.4 L1097.5,1090.5 L1099.0,1090.5 L1100.5,1090.6 L1102.0,1090.7 L1103.6,1090.7 L1105.1,1090.8 L1106.6,1090.8 L1108.1,1090.9 L1109.6,1090.9 L1111.1,1091.0 L1112.6,1091.0" fill="none" stroke="#9A9A9A" stroke-width="5.5" stroke-linejoin="round" stroke-linecap="butt"/>
<path d="M684.9,1073.0 L686.4,1072.7 L687.9,1072.3 L689.3,1072.0 L690.8,1071.7 L692.3,1071.3 L693.8,1071.0 L695.3,1070.7 L696.8,1070.4 L698.3,1070.1 L699.8,1069.8 L701.2,1069.6 L702.7,1069.3 L704.2,1069.0 L705.7,1068.8 L707.2,1068.5 L708.7,1068.3 L710.2,1068.0 L711.7,1067.8 L713.2,1067.6 L714.7,1067.3 L716.2,1067.1 L717.7,1066.9 L719.1,1066.7 L720.6,1066.5 L722.1,1066.3 L723.6,1066.1 L725.1,1066.0 L726.6,1065.8 L728.1,1065.6 L729.6,1065.4 L731.1,1065.3 L732.6,1065.1 L734.1,1065.0 L735.6,1064.9 L737.1,1064.7 L738.6,1064.6 L740.1,1064.5 L741.6,1064.4 L743.1,1064.2 L744.6,1064.1 L746.1,1064.0 L747.6,1063.9 L749.1,1063.8 L750.6,1063.8 L752.1,1063.7 L753.6,1063.6 L755.1,1063.5 L756.6,1063.5 L758.1,1063.4 L759.6,1063.3 L761.1,1063.3 L762.6,1063.2 L764.1,1063.2 L765.6,1063.1 L767.1,1063.1 L768.6,1063.1 L770.1,1063.1 L771.6,1063.0 L773.1,1063.0 L774.6,1063.0 L776.1,1063.0 L777.6,1063.0 L779.1,1063.0 L780.6,1063.0 L782.1,1063.0 L783.6,1063.0 L785.1,1063.0 L786.6,1063.0 L788.1,1063.0 L789.6,1063.1 L791.1,1063.1 L792.6,1063.1 L794.1,1063.2 L795.6,1063.2 L797.1,1063.2 L798.6,1063.3 L800.1,1063.3 L801.6,1063.4 L803.1,1063.4 L804.6,1063.5 L806.1,1063.6 L807.6,1063.6 L809.2,1063.7 L810.7,1063.7 L812.2,1063.8 L813.7,1063.9 L815.2,1064.0 L816.7,1064.0 L818.2,1064.1 L819.7,1064.2 L821.2,1064.3 L822.7,1064.4 L824.2,1064.5 L825.7,1064.6 L827.2,1064.7 L828.7,1064.8 L830.2,1064.9 L831.7,1065.0 L833.2,1065.1 L834.7,1065.2 L836.2,1065.3 L837.7,1065.4 L839.2,1065.5 L840.7,1065.6 L842.2,1065.7 L843.8,1065.9 L845.3,1066.0 L846.8,1066.1 L848.3,1066.2 L849.8,1066.3 L851.3,1066.5 L852.8,1066.6 L854.3,1066.7 L855.8,1066.8 L857.3,1067.0 L858.8,1067.1 L860.3,1067.2 L861.8,1067.4 L863.3,1067.5 L864.8,1067.6 L866.3,1067.8 L867.8,1067.9 L869.3,1068.0 L870.8,1068.2 L872.3,1068.3 L873.8,1068.5 L875.3,1068.6 L876.8,1068.7 L878.3,1068.9 L879.8,1069.0 L881.3,1069.2 L882.8,1069.3 L884.3,1069.5 L885.8,1069.6 L887.4,1069.8 L888.9,1069.9 L890.4,1070.1 L891.9,1070.2 L893.4,1070.3 L894.9,1070.5 L896.4,1070.6 L897.9,1070.8 L899.4,1071.0 L900.9,1071.1 L902.4,1071.3 L903.9,1071.4 L905.4,1071.6 L906.9,1071.7 L908.4,1071.9 L909.9,1072.0 L911.4,1072.2 L912.9,1072.3 L914.4,1072.5 L915.9,1072.7 L917.4,1072.8 L918.9,1073.0 L920.4,1073.1 L921.9,1073.3 L923.4,1073.4 L924.9,1073.6 L926.4,1073.8 L927.9,1073.9 L929.4,1074.1 L930.9,1074.2 L932.4,1074.4 L933.9,1074.6 L935.4,1074.7 L936.9,1074.9 L938.4,1075.0 L939.9,1075.2 L941.4,1075.4 L942.9,1075.5 L944.4,1075.7 L945.9,1075.8 L947.4,1076.0 L948.9,1076.2 L950.4,1076.3 L951.9,1076.5 L953.4,1076.6 L954.9,1076.8 L956.4,1077.0 L957.9,1077.1 L959.4,1077.3 L960.9,1077.4 L962.4,1077.6 L963.9,1077.8 L965.4,1077.9 L966.9,1078.1 L968.4,1078.2 L969.9,1078.4 L971.4,1078.6 L972.9,1078.7 L974.4,1078.9 L975.9,1079.0 L977.4,1079.2 L978.9,1079.3 L980.4,1079.5 L981.9,1079.7 L983.4,1079.8 L984.9,1080.0 L986.4,1080.1 L987.9,1080.3 L989.4,1080.4 L990.9,1080.6 L992.4,1080.7 L993.9,1080.9 L995.4,1081.0 L996.9,1081.2 L998.4,1081.3 L999.9,1081.5 L1001.4,1081.6 L1002.9,1081.8 L1004.4,1081.9 L1005.9,1082.1 L1007.4,1082.2 L1008.9,1082.4 L1010.4,1082.5 L1011.9,1082.7 L1013.4,1082.8 L1014.9,1083.0 L1016.4,1083.1 L1017.9,1083.3 L1019.4,1083.4 L1020.9,1083.5 L1022.4,1083.7 L1023.9,1083.8 L1025.4,1083.9 L1026.9,1084.1 L1028.4,1084.2 L1029.9,1084.4 L1031.4,1084.5 L1032.9,1084.6 L1034.4,1084.8 L1035.9,1084.9 L1037.4,1085.0 L1038.9,1085.1 L1040.4,1085.3 L1041.9,1085.4 L1043.4,1085.5 L1044.9,1085.7 L1046.4,1085.8 L1047.9,1085.9 L1049.4,1086.0 L1051.0,1086.1 L1052.5,1086.3 L1054.0,1086.4 L1055.5,1086.5 L1057.0,1086.6 L1058.5,1086.7 L1060.0,1086.8 L1061.5,1086.9 L1063.0,1087.1 L1064.5,1087.2 L1066.0,1087.3 L1067.5,1087.4 L1069.0,1087.5 L1070.5,1087.6 L1072.0,1087.7 L1073.5,1087.8 L1075.0,1087.9 L1076.5,1088.0 L1078.0,1088.1 L1079.5,1088.2 L1081.0,1088.3 L1082.5,1088.4 L1084.0,1088.5 L1085.5,1088.5 L1087.0,1088.6 L1088.5,1088.7 L1090.0,1088.8 L1091.5,1088.9 L1093.0,1089.0 L1094.5,1089.0 L1096.0,1089.1 L1097.5,1089.2 L1099.0,1089.3 L1100.5,1089.3 L1102.0,1089.4 L1103.5,1089.5 L1105.0,1089.5 L1106.6,1089.6 L1108.1,1089.7 L1109.6,1089.7 L1111.1,1089.8 L1112.6,1089.8" fill="none" stroke="#FF0000" stroke-width="5.5" stroke-linejoin="round" stroke-linecap="butt"/>
<path d="M725.0,1086.2 L726.5,1086.0 L728.1,1085.8 L729.6,1085.6 L731.1,1085.4 L732.6,1085.2 L734.1,1085.0 L735.6,1084.8 L737.1,1084.6 L738.6,1084.5 L740.1,1084.3 L741.6,1084.1 L743.1,1083.9 L744.6,1083.8 L746.1,1083.6 L747.6,1083.5 L749.1,1083.3 L750.6,1083.1 L752.1,1083.0 L753.6,1082.8 L755.2,1082.7 L756.7,1082.5 L758.2,1082.4 L759.7,1082.3 L761.2,1082.1 L762.7,1082.0 L764.2,1081.9 L765.7,1081.7 L767.2,1081.6 L768.7,1081.5 L770.2,1081.4 L771.7,1081.3 L773.2,1081.1 L774.7,1081.0 L776.2,1080.9 L777.8,1080.8 L779.3,1080.7 L780.8,1080.6 L782.3,1080.5 L783.8,1080.4 L785.3,1080.3 L786.8,1080.2 L788.3,1080.2 L789.8,1080.1 L791.3,1080.0 L792.8,1079.9 L794.3,1079.8 L795.8,1079.8 L797.3,1079.7 L798.9,1079.6 L800.4,1079.5 L801.9,1079.5 L803.4,1079.4 L804.9,1079.4 L806.4,1079.3 L807.9,1079.2 L809.4,1079.2 L810.9,1079.1 L812.4,1079.1 L813.9,1079.0 L815.4,1079.0 L817.0,1079.0 L818.5,1078.9 L820.0,1078.9 L821.5,1078.9 L823.0,1078.8 L824.5,1078.8 L826.0,1078.8 L827.5,1078.7 L829.0,1078.7 L830.5,1078.7 L832.0,1078.7 L833.5,1078.6 L835.1,1078.6 L836.6,1078.6 L838.1,1078.6 L839.6,1078.6 L841.1,1078.6 L842.6,1078.6 L844.1,1078.6 L845.6,1078.6 L847.1,1078.6 L848.6,1078.6 L850.1,1078.6 L851.6,1078.6 L853.2,1078.6 L854.7,1078.6 L856.2,1078.6 L857.7,1078.6 L859.2,1078.6 L860.7,1078.6 L862.2,1078.7 L863.7,1078.7 L865.2,1078.7 L866.7,1078.7 L868.2,1078.7 L869.8,1078.8 L871.3,1078.8 L872.8,1078.8 L874.3,1078.8 L875.8,1078.9 L877.3,1078.9 L878.8,1078.9 L880.3,1079.0 L881.8,1079.0 L883.3,1079.1 L884.8,1079.1 L886.4,1079.1 L887.9,1079.2 L889.4,1079.2 L890.9,1079.3 L892.4,1079.3 L893.9,1079.4 L895.4,1079.4 L896.9,1079.5 L898.4,1079.5 L899.9,1079.6 L901.4,1079.6 L903.0,1079.7 L904.5,1079.7 L906.0,1079.8 L907.5,1079.9 L909.0,1079.9 L910.5,1080.0 L912.0,1080.1 L913.5,1080.1 L915.0,1080.2 L916.5,1080.3 L918.0,1080.3 L919.6,1080.4 L921.1,1080.5 L922.6,1080.5 L924.1,1080.6 L925.6,1080.7 L927.1,1080.7 L928.6,1080.8 L930.1,1080.9 L931.6,1081.0 L933.1,1081.1 L934.6,1081.1 L936.2,1081.2 L937.7,1081.3 L939.2,1081.4 L940.7,1081.5 L942.2,1081.5 L943.7,1081.6 L945.2,1081.7 L946.7,1081.8 L948.2,1081.9 L949.7,1082.0 L951.3,1082.1 L952.8,1082.1 L954.3,1082.2 L955.8,1082.3 L957.3,1082.4 L958.8,1082.5 L960.3,1082.6 L961.8,1082.7 L963.3,1082.8 L964.8,1082.9 L966.3,1083.0 L967.9,1083.1 L969.4,1083.2 L970.9,1083.2 L972.4,1083.3 L973.9,1083.4 L975.4,1083.5 L976.9,1083.6 L978.4,1083.7 L979.9,1083.8 L981.4,1083.9 L982.9,1084.0 L984.5,1084.1 L986.0,1084.2 L987.5,1084.3 L989.0,1084.4 L990.5,1084.5 L992.0,1084.6 L993.5,1084.7 L995.0,1084.8 L996.5,1084.9 L998.0,1085.0 L999.5,1085.1 L1001.0,1085.2 L1002.6,1085.3 L1004.1,1085.4 L1005.6,1085.5 L1007.1,1085.6 L1008.6,1085.7 L1010.1,1085.8 L1011.6,1085.9 L1013.1,1086.0 L1014.6,1086.1 L1016.1,1086.2 L1017.6,1086.3 L1019.1,1086.4 L1020.7,1086.5 L1022.2,1086.6 L1023.7,1086.7 L1025.2,1086.8 L1026.7,1086.9 L1028.2,1087.0 L1029.7,1087.1 L1031.2,1087.2 L1032.7,1087.3 L1034.2,1087.4 L1035.7,1087.5 L1037.2,1087.6 L1038.7,1087.7 L1040.3,1087.8 L1041.8,1087.9 L1043.3,1088.0 L1044.8,1088.1 L1046.3,1088.2 L1047.8,1088.3 L1049.3,1088.4 L1050.8,1088.5 L1052.3,1088.6 L1053.8,1088.7 L1055.3,1088.8 L1056.8,1088.9 L1058.3,1089.0 L1059.9,1089.1 L1061.4,1089.2 L1062.9,1089.3 L1064.4,1089.4 L1065.9,1089.5 L1067.4,1089.5 L1068.9,1089.6 L1070.4,1089.7 L1071.9,1089.8 L1073.4,1089.9 L1074.9,1090.0 L1076.4,1090.1 L1077.9,1090.2 L1079.4,1090.2 L1080.9,1090.3 L1082.5,1090.4 L1084.0,1090.5 L1085.5,1090.6 L1087.0,1090.7 L1088.5,1090.7 L1090.0,1090.8 L1091.5,1090.9 L1093.0,1091.0 L1094.5,1091.1 L1096.0,1091.1 L1097.5,1091.2 L1099.0,1091.3 L1100.5,1091.3 L1102.0,1091.4 L1103.5,1091.5 L1105.0,1091.6 L1106.5,1091.6 L1108.0,1091.7 L1109.6,1091.8 L1111.1,1091.8 L1112.6,1091.9" fill="none" stroke="#0000A0" stroke-width="5.5" stroke-linejoin="round" stroke-linecap="butt"/>
<path d="M981.6,648.3H1027.2" stroke="#000000" stroke-width="5.6"/>
<text transform="translate(1033.7,655.4) scale(1,1.05)" font-family="Liberation Sans, sans-serif" font-weight="bold" font-size="21.5">300 nm</text>
<path d="M981.6,676.0H1027.2" stroke="#808000" stroke-width="5.6"/>
<text transform="translate(1033.7,683.1) scale(1,1.05)" font-family="Liberation Sans, sans-serif" font-weight="bold" font-size="21.5">320 nm</text>
<path d="M981.6,703.8H1027.2" stroke="#8000FF" stroke-width="5.6"/>
<text transform="translate(1033.7,710.9) scale(1,1.05)" font-family="Liberation Sans, sans-serif" font-weight="bold" font-size="21.5">340 nm</text>
<path d="M981.6,731.5H1027.2" stroke="#FF8000" stroke-width="5.6"/>
<text transform="translate(1033.7,738.6) scale(1,1.05)" font-family="Liberation Sans, sans-serif" font-weight="bold" font-size="21.5">360 nm</text>
<path d="M981.6,759.3H1027.2" stroke="#008000" stroke-width="5.6"/>
<text transform="translate(1033.7,766.4) scale(1,1.05)" font-family="Liberation Sans, sans-serif" font-weight="bold" font-size="21.5">380 nm</text>
<path d="M981.6,787.0H1027.2" stroke="#800000" stroke-width="5.6"/>
<text transform="translate(1033.7,794.1) scale(1,1.05)" font-family="Liberation Sans, sans-serif" font-weight="bold" font-size="21.5">400 nm</text>
<path d="M981.6,814.8H1027.2" stroke="#800080" stroke-width="5.6"/>
<text transform="translate(1033.7,821.9) scale(1,1.05)" font-family="Liberation Sans, sans-serif" font-weight="bold" font-size="21.5">420 nm</text>
<path d="M981.6,842.5H1027.2" stroke="#FF0080" stroke-width="5.6"/>
<text transform="translate(1033.7,849.6) scale(1,1.05)" font-family="Liberation Sans, sans-serif" font-weight="bold" font-size="21.5">440 nm</text>
<path d="M981.6,870.3H1027.2" stroke="#9A9A9A" stroke-width="5.6"/>
<text transform="translate(1033.7,877.4) scale(1,1.05)" font-family="Liberation Sans, sans-serif" font-weight="bold" font-size="21.5">460 nm</text>
<path d="M981.6,898.0H1027.2" stroke="#FF0000" stroke-width="5.6"/>
<text transform="translate(1033.7,905.1) scale(1,1.05)" font-family="Liberation Sans, sans-serif" font-weight="bold" font-size="21.5">480 nm</text>
<path d="M981.6,925.8H1027.2" stroke="#0000A0" stroke-width="5.6"/>
<text transform="translate(1033.7,932.9) scale(1,1.05)" font-family="Liberation Sans, sans-serif" font-weight="bold" font-size="21.5">500 nm</text>
</g></svg>
</div></body></html>
